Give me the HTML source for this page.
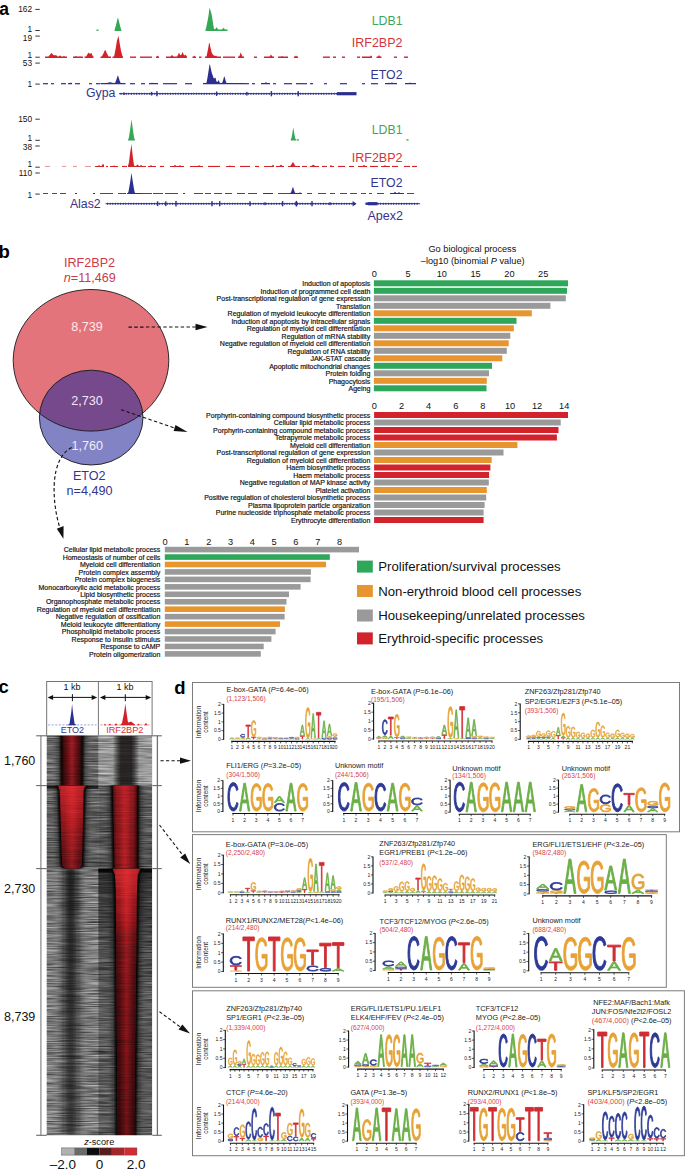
<!DOCTYPE html>
<html><head><meta charset="utf-8"><style>
html,body{margin:0;padding:0;background:#fff;}
body{width:685px;height:1172px;overflow:hidden;}
svg{display:block;font-family:"Liberation Sans", sans-serif;}
</style></head><body>
<svg width="685" height="1172" viewBox="0 0 685 1172">
<text x="-0.70" y="15.20" font-size="17.5" fill="#000" font-weight="bold">a</text>
<text x="32.00" y="12.30" font-size="8.3" fill="#111" text-anchor="end">162</text>
<line x1="35.30" y1="9.40" x2="39.80" y2="9.40" stroke="#222" stroke-width="0.9"/>
<text x="32.00" y="31.60" font-size="8.3" fill="#111" text-anchor="end">1</text>
<line x1="35.30" y1="30.50" x2="39.80" y2="30.50" stroke="#222" stroke-width="0.9"/>
<text x="32.00" y="41.10" font-size="8.3" fill="#111" text-anchor="end">19</text>
<line x1="35.30" y1="36.10" x2="39.80" y2="36.10" stroke="#222" stroke-width="0.9"/>
<text x="32.00" y="57.70" font-size="8.3" fill="#111" text-anchor="end">1</text>
<line x1="35.30" y1="57.20" x2="39.80" y2="57.20" stroke="#222" stroke-width="0.9"/>
<text x="32.00" y="66.30" font-size="8.3" fill="#111" text-anchor="end">53</text>
<line x1="35.30" y1="63.10" x2="39.80" y2="63.10" stroke="#222" stroke-width="0.9"/>
<text x="32.00" y="86.90" font-size="8.3" fill="#111" text-anchor="end">1</text>
<line x1="35.30" y1="84.10" x2="39.80" y2="84.10" stroke="#222" stroke-width="0.9"/>
<text x="32.00" y="122.40" font-size="8.3" fill="#111" text-anchor="end">150</text>
<line x1="35.30" y1="119.20" x2="39.80" y2="119.20" stroke="#222" stroke-width="0.9"/>
<text x="32.00" y="140.80" font-size="8.3" fill="#111" text-anchor="end">1</text>
<line x1="35.30" y1="140.30" x2="39.80" y2="140.30" stroke="#222" stroke-width="0.9"/>
<text x="32.00" y="150.00" font-size="8.3" fill="#111" text-anchor="end">38</text>
<line x1="35.30" y1="146.00" x2="39.80" y2="146.00" stroke="#222" stroke-width="0.9"/>
<text x="32.00" y="166.90" font-size="8.3" fill="#111" text-anchor="end">1</text>
<line x1="35.30" y1="167.20" x2="39.80" y2="167.20" stroke="#222" stroke-width="0.9"/>
<text x="32.00" y="176.10" font-size="8.3" fill="#111" text-anchor="end">110</text>
<line x1="35.30" y1="173.00" x2="39.80" y2="173.00" stroke="#222" stroke-width="0.9"/>
<text x="32.00" y="197.70" font-size="8.3" fill="#111" text-anchor="end">1</text>
<line x1="35.30" y1="194.10" x2="39.80" y2="194.10" stroke="#222" stroke-width="0.9"/>
<path d="M96.50,31.00 L96.50,29.60 L97.00,29.60 L97.50,29.60 L98.00,29.60 L98.50,29.60 L98.50,31.00Z" fill="#35a853"/>
<path d="M114.60,31.00 L114.60,29.60 L115.10,28.10 L115.60,26.38 L116.10,24.51 L116.60,22.52 L117.10,20.43 L117.60,18.25 L118.10,17.80 L118.60,20.00 L119.10,22.11 L119.60,24.12 L120.10,26.02 L120.60,27.77 L121.10,29.33 L121.40,31.00Z" fill="#35a853"/>
<path d="M205.50,31.00 L205.50,29.60 L206.00,28.14 L206.50,25.99 L207.00,23.63 L207.50,21.10 L208.00,18.42 L208.50,15.43 L209.00,11.78 L209.50,7.88 L210.00,8.69 L210.50,10.56 L211.00,12.26 L211.50,13.79 L212.00,16.13 L212.50,19.78 L213.00,23.17 L213.50,26.23 L214.00,28.67 L214.50,29.14 L215.00,29.28 L215.50,28.89 L216.00,28.11 L216.50,27.27 L217.00,27.78 L217.50,28.58 L218.00,29.33 L218.50,29.60 L219.00,29.60 L219.50,29.60 L220.00,29.60 L220.50,29.60 L221.00,29.60 L221.50,29.60 L222.00,29.55 L222.50,28.97 L223.00,28.35 L223.50,27.70 L224.00,28.35 L224.50,28.97 L225.00,29.55 L225.50,29.60 L226.00,29.60 L226.50,29.60 L227.00,29.60 L227.50,29.60 L227.50,31.00Z" fill="#35a853"/>
<path d="M45.00,57.90 L45.00,56.50 L45.50,56.50 L46.00,56.50 L46.50,56.50 L47.00,56.50 L47.50,56.50 L48.00,56.50 L48.50,56.38 L49.00,55.86 L49.50,55.30 L50.00,54.71 L50.50,54.09 L51.00,53.46 L51.50,52.80 L52.00,53.46 L52.50,54.09 L53.00,54.71 L53.50,55.03 L54.00,55.22 L54.50,55.33 L55.00,55.36 L55.50,55.30 L56.00,55.10 L56.50,55.61 L57.00,56.09 L57.50,56.31 L58.00,56.41 L58.50,56.41 L59.00,56.27 L59.50,55.85 L60.00,55.40 L60.50,55.85 L61.00,56.27 L61.50,56.50 L62.00,56.50 L62.50,56.50 L63.00,56.50 L63.50,56.24 L64.00,55.80 L64.50,56.24 L65.00,56.50 L65.50,56.50 L66.00,56.50 L66.50,56.50 L67.00,56.50 L67.00,57.90Z" fill="#d4222b"/>
<path d="M73.00,57.90 L73.00,56.50 L73.50,56.50 L74.00,56.50 L74.50,56.50 L75.00,56.50 L75.50,56.17 L76.00,55.80 L76.50,56.17 L77.00,56.50 L77.50,56.50 L78.00,56.50 L78.50,56.50 L79.00,56.50 L79.50,56.39 L80.00,56.00 L80.50,56.39 L81.00,56.50 L81.50,56.50 L82.00,56.50 L82.50,56.50 L83.00,56.50 L83.00,57.90Z" fill="#d4222b"/>
<path d="M84.50,57.90 L84.50,56.50 L85.00,56.50 L85.50,56.50 L86.00,56.50 L86.50,55.80 L87.00,55.02 L87.50,54.19 L88.00,53.31 L88.50,52.40 L89.00,53.31 L89.50,53.62 L90.00,53.68 L90.50,53.58 L91.00,53.34 L91.50,52.94 L92.00,54.42 L92.50,55.38 L93.00,56.26 L93.50,56.50 L93.50,57.90Z" fill="#d4222b"/>
<path d="M100.50,57.90 L100.50,56.50 L101.00,56.50 L101.50,56.50 L102.00,56.24 L102.50,55.34 L103.00,54.36 L103.50,53.31 L104.00,52.22 L104.50,51.07 L105.00,49.89 L105.50,50.13 L106.00,51.30 L106.50,52.44 L107.00,53.53 L107.50,54.56 L108.00,55.52 L108.50,56.40 L109.00,56.50 L109.50,56.50 L110.00,56.50 L110.50,56.50 L111.00,56.50 L111.00,57.90Z" fill="#d4222b"/>
<path d="M112.50,57.90 L112.50,56.50 L113.00,56.50 L113.50,56.50 L114.00,56.38 L114.50,54.39 L115.00,51.98 L115.50,49.32 L116.00,46.47 L116.50,43.46 L117.00,40.30 L117.50,38.90 L118.00,37.39 L118.50,35.77 L119.00,39.06 L119.50,42.22 L120.00,45.24 L120.50,48.09 L121.00,50.66 L121.50,52.66 L122.00,54.51 L122.50,56.15 L123.00,56.50 L123.00,57.90Z" fill="#d4222b"/>
<path d="M130.00,57.90 L130.00,56.50 L130.50,56.50 L131.00,56.50 L131.50,56.50 L132.00,56.50 L132.50,56.50 L133.00,56.50 L133.50,56.50 L134.00,56.50 L134.50,56.50 L135.00,56.50 L135.50,56.50 L136.00,56.50 L136.00,57.90Z" fill="#d4222b"/>
<path d="M140.00,57.90 L140.00,56.50 L140.50,56.50 L141.00,56.50 L141.50,56.50 L142.00,56.50 L142.50,56.50 L143.00,56.50 L143.50,56.50 L144.00,56.50 L144.50,56.50 L145.00,56.50 L145.50,56.50 L146.00,56.50 L146.50,56.50 L147.00,56.50 L147.50,56.50 L148.00,56.50 L148.50,56.50 L149.00,56.50 L149.50,56.50 L150.00,56.50 L150.50,56.50 L151.00,56.50 L151.50,56.50 L152.00,56.50 L152.00,57.90Z" fill="#d4222b"/>
<path d="M156.00,57.90 L156.00,56.50 L156.50,56.50 L157.00,56.14 L157.50,55.40 L158.00,56.14 L158.50,56.50 L159.00,56.50 L159.00,57.90Z" fill="#d4222b"/>
<path d="M166.00,57.90 L166.00,56.50 L166.50,56.50 L167.00,56.50 L167.50,56.50 L168.00,56.50 L168.50,56.50 L169.00,56.50 L169.50,56.50 L170.00,56.50 L170.50,56.50 L171.00,56.03 L171.50,55.53 L172.00,55.00 L172.50,55.53 L173.00,56.03 L173.50,56.50 L174.00,56.50 L174.50,56.50 L175.00,56.50 L175.50,56.50 L176.00,56.50 L176.50,56.50 L177.00,56.50 L177.50,55.68 L178.00,54.72 L178.50,53.69 L179.00,52.60 L179.50,53.69 L180.00,54.72 L180.50,55.24 L181.00,55.04 L181.50,54.51 L182.00,53.41 L182.50,51.91 L183.00,52.82 L183.50,54.27 L184.00,55.03 L184.50,55.41 L185.00,55.37 L185.50,54.40 L186.00,55.37 L186.50,56.25 L187.00,56.50 L187.00,57.90Z" fill="#d4222b"/>
<path d="M192.50,57.90 L192.50,56.50 L193.00,56.50 L193.50,56.50 L194.00,55.85 L194.50,55.70 L195.00,56.41 L195.50,56.50 L196.00,56.50 L196.00,57.90Z" fill="#d4222b"/>
<path d="M199.00,57.90 L199.00,56.50 L199.50,56.50 L200.00,56.50 L200.50,56.50 L201.00,56.50 L201.50,56.50 L201.50,57.90Z" fill="#d4222b"/>
<path d="M205.00,57.90 L205.00,56.50 L205.50,56.50 L206.00,56.50 L206.50,56.40 L207.00,54.28 L207.50,51.84 L208.00,49.16 L208.50,46.29 L209.00,43.28 L209.50,42.66 L210.00,45.33 L210.50,47.71 L211.00,49.85 L211.50,51.71 L212.00,53.22 L212.50,54.10 L213.00,54.81 L213.50,55.28 L214.00,55.62 L214.50,55.87 L215.00,56.02 L215.50,56.01 L216.00,55.60 L216.50,56.01 L217.00,56.40 L217.50,56.50 L218.00,56.50 L218.50,56.50 L219.00,56.50 L219.50,56.50 L220.00,56.50 L220.50,56.50 L221.00,56.50 L221.00,57.90Z" fill="#d4222b"/>
<path d="M223.00,57.90 L223.00,56.50 L223.50,56.50 L224.00,56.50 L224.50,56.50 L225.00,56.50 L225.50,56.50 L226.00,56.50 L226.50,56.50 L227.00,56.50 L227.50,56.50 L228.00,56.50 L228.50,56.50 L229.00,56.50 L229.50,56.50 L230.00,56.50 L230.50,56.50 L231.00,56.50 L231.50,56.50 L232.00,56.50 L232.50,56.50 L233.00,56.50 L233.50,56.50 L234.00,56.50 L234.50,56.50 L235.00,56.50 L235.00,57.90Z" fill="#d4222b"/>
<path d="M238.00,57.90 L238.00,56.50 L238.50,56.50 L239.00,56.50 L239.50,55.75 L240.00,54.38 L240.50,52.86 L241.00,52.93 L241.50,54.45 L242.00,55.83 L242.50,56.50 L243.00,56.50 L243.50,56.50 L244.00,56.50 L244.00,57.90Z" fill="#d4222b"/>
<path d="M254.00,57.90 L254.00,56.50 L254.50,56.50 L255.00,56.50 L255.50,56.50 L256.00,56.50 L256.50,56.50 L257.00,56.50 L257.00,57.90Z" fill="#d4222b"/>
<path d="M264.00,57.90 L264.00,56.50 L264.50,56.50 L265.00,56.50 L265.50,56.50 L266.00,56.50 L266.50,56.50 L267.00,56.50 L267.50,56.50 L268.00,56.50 L268.50,56.50 L269.00,56.50 L269.50,56.50 L270.00,56.10 L270.50,55.28 L271.00,54.40 L271.50,55.28 L272.00,56.10 L272.50,56.50 L273.00,56.50 L273.50,56.50 L274.00,56.50 L274.00,57.90Z" fill="#d4222b"/>
<path d="M278.00,57.90 L278.00,56.50 L278.50,56.50 L279.00,56.50 L279.50,56.50 L280.00,56.50 L280.50,56.50 L281.00,56.50 L281.50,56.17 L282.00,55.80 L282.50,56.17 L283.00,56.50 L283.50,56.50 L284.00,56.50 L284.50,56.50 L285.00,56.50 L285.50,56.50 L286.00,56.50 L286.50,56.50 L287.00,56.50 L287.50,56.50 L288.00,56.50 L288.00,57.90Z" fill="#d4222b"/>
<path d="M294.00,57.90 L294.00,56.50 L294.50,56.50 L295.00,56.50 L295.50,56.06 L296.00,55.40 L296.50,56.06 L297.00,56.50 L297.50,56.50 L298.00,56.50 L298.00,57.90Z" fill="#d4222b"/>
<path d="M323.00,57.90 L323.00,56.50 L323.50,56.50 L324.00,56.50 L324.50,56.50 L325.00,56.50 L325.50,56.50 L326.00,56.50 L326.50,56.50 L327.00,56.50 L327.50,56.50 L328.00,56.50 L328.50,56.50 L329.00,56.50 L329.50,56.50 L330.00,56.50 L330.00,57.90Z" fill="#d4222b"/>
<path d="M333.00,57.90 L333.00,56.50 L333.50,56.50 L334.00,56.50 L334.50,56.50 L335.00,56.50 L335.50,56.50 L336.00,56.50 L336.00,57.90Z" fill="#d4222b"/>
<path d="M342.00,57.90 L342.00,56.50 L342.50,56.50 L343.00,56.50 L343.50,56.50 L344.00,56.50 L344.50,56.50 L345.00,56.50 L345.00,57.90Z" fill="#d4222b"/>
<path d="M357.00,57.90 L357.00,56.50 L357.50,56.50 L358.00,56.50 L358.50,56.50 L359.00,56.50 L359.50,56.50 L360.00,56.50 L360.00,57.90Z" fill="#d4222b"/>
<path d="M362.00,57.90 L362.00,56.50 L362.50,56.50 L363.00,56.50 L363.50,56.50 L364.00,56.50 L364.50,56.50 L365.00,56.50 L365.50,56.50 L366.00,56.50 L366.50,56.50 L367.00,56.50 L367.50,56.50 L368.00,56.50 L368.50,56.50 L369.00,56.50 L369.50,56.50 L370.00,56.50 L370.50,56.00 L371.00,55.20 L371.50,56.00 L372.00,56.50 L372.00,57.90Z" fill="#d4222b"/>
<path d="M376.50,57.90 L376.50,56.50 L377.00,56.50 L377.50,56.50 L378.00,56.50 L378.50,55.79 L379.00,55.00 L379.50,55.79 L380.00,56.50 L380.50,56.50 L381.00,56.50 L381.50,56.50 L381.50,57.90Z" fill="#d4222b"/>
<path d="M394.00,57.90 L394.00,56.50 L394.50,56.50 L395.00,56.50 L395.50,56.50 L396.00,56.50 L396.50,56.50 L397.00,56.50 L397.00,57.90Z" fill="#d4222b"/>
<path d="M404.00,57.90 L404.00,56.50 L404.50,56.50 L405.00,56.50 L405.50,56.50 L406.00,56.50 L406.50,56.50 L407.00,56.50 L407.50,56.50 L408.00,56.50 L408.00,57.90Z" fill="#d4222b"/>
<path d="M43.00,84.30 L43.00,83.10 L43.50,83.10 L44.00,83.10 L44.50,83.10 L45.00,83.10 L45.50,83.10 L46.00,83.10 L46.50,83.10 L47.00,83.10 L47.50,83.10 L48.00,83.10 L48.00,84.30Z" fill="#2c2f8f"/>
<path d="M51.00,84.30 L51.00,83.10 L51.50,83.10 L52.00,83.10 L52.50,83.10 L53.00,83.10 L53.50,83.10 L54.00,83.10 L54.00,84.30Z" fill="#2c2f8f"/>
<path d="M61.00,84.30 L61.00,83.10 L61.50,83.10 L62.00,83.10 L62.50,83.10 L63.00,83.10 L63.50,83.10 L64.00,83.10 L64.50,83.10 L65.00,83.10 L65.50,83.10 L66.00,83.10 L66.00,84.30Z" fill="#2c2f8f"/>
<path d="M68.00,84.30 L68.00,83.10 L68.50,83.10 L69.00,83.10 L69.50,83.10 L70.00,83.10 L70.50,82.92 L71.00,82.20 L71.50,82.92 L72.00,83.10 L72.00,84.30Z" fill="#2c2f8f"/>
<path d="M75.00,84.30 L75.00,83.10 L75.50,83.10 L76.00,83.10 L76.50,83.10 L77.00,83.10 L77.50,83.10 L78.00,83.10 L78.50,83.10 L79.00,83.10 L79.50,83.10 L80.00,83.10 L80.00,84.30Z" fill="#2c2f8f"/>
<path d="M89.00,84.30 L89.00,83.10 L89.50,83.10 L90.00,83.10 L90.50,83.10 L91.00,83.10 L91.50,83.10 L92.00,83.10 L92.00,84.30Z" fill="#2c2f8f"/>
<path d="M96.00,84.30 L96.00,83.10 L96.50,83.10 L97.00,83.10 L97.50,83.10 L98.00,83.10 L98.50,83.10 L99.00,83.10 L99.50,83.10 L100.00,83.10 L100.00,84.30Z" fill="#2c2f8f"/>
<path d="M100.50,84.30 L100.50,83.10 L101.00,83.10 L101.50,83.10 L102.00,83.10 L102.50,83.10 L103.00,83.10 L103.50,83.10 L104.00,83.10 L104.50,83.10 L105.00,83.10 L105.50,83.10 L106.00,83.10 L106.50,83.10 L107.00,83.00 L107.50,82.87 L108.00,82.74 L108.50,82.61 L109.00,82.48 L109.50,82.34 L110.00,82.20 L110.50,82.34 L111.00,82.48 L111.50,82.61 L112.00,82.74 L112.50,82.87 L113.00,83.00 L113.50,83.10 L114.00,83.10 L114.50,83.10 L115.00,82.99 L115.50,81.95 L116.00,80.70 L116.50,79.30 L117.00,77.78 L117.50,76.16 L118.00,75.16 L118.50,76.90 L119.00,78.57 L119.50,80.13 L120.00,81.58 L120.50,82.86 L121.00,83.10 L121.50,83.10 L122.00,83.10 L122.50,83.10 L123.00,83.10 L123.50,83.10 L124.00,83.10 L124.50,83.10 L125.00,83.10 L125.50,83.10 L125.50,84.30Z" fill="#2c2f8f"/>
<path d="M130.00,84.30 L130.00,83.10 L130.50,83.10 L131.00,83.10 L131.50,83.10 L132.00,83.10 L132.50,83.10 L133.00,83.10 L133.50,83.10 L134.00,83.10 L134.50,83.10 L135.00,83.10 L135.00,84.30Z" fill="#2c2f8f"/>
<path d="M141.00,84.30 L141.00,83.10 L141.50,83.10 L142.00,83.10 L142.50,83.10 L143.00,83.10 L143.50,83.10 L144.00,83.10 L144.50,83.10 L145.00,83.10 L145.00,84.30Z" fill="#2c2f8f"/>
<path d="M149.00,84.30 L149.00,83.10 L149.50,83.10 L150.00,83.10 L150.50,83.10 L151.00,83.10 L151.50,82.88 L152.00,82.40 L152.50,82.88 L153.00,83.10 L153.50,83.10 L154.00,83.10 L154.50,83.10 L155.00,83.10 L155.50,83.10 L156.00,83.10 L156.50,83.10 L157.00,83.10 L157.50,83.10 L158.00,83.10 L158.00,84.30Z" fill="#2c2f8f"/>
<path d="M163.00,84.30 L163.00,83.10 L163.50,83.10 L164.00,83.10 L164.50,83.10 L165.00,83.10 L165.50,83.10 L166.00,83.10 L166.50,83.10 L167.00,83.10 L167.50,83.10 L168.00,83.10 L168.50,83.10 L169.00,83.10 L169.50,83.10 L170.00,83.10 L170.50,83.10 L171.00,83.10 L171.50,83.10 L172.00,83.10 L172.50,83.10 L173.00,83.10 L173.50,83.10 L174.00,83.10 L174.50,83.10 L175.00,83.10 L175.50,83.10 L176.00,83.10 L176.50,83.10 L177.00,83.10 L177.00,84.30Z" fill="#2c2f8f"/>
<path d="M185.00,84.30 L185.00,83.10 L185.50,83.10 L186.00,83.10 L186.50,83.10 L187.00,83.10 L187.50,83.10 L188.00,83.10 L188.50,83.10 L189.00,83.10 L189.50,83.10 L190.00,83.10 L190.50,83.10 L191.00,83.10 L191.50,83.10 L192.00,83.10 L192.00,84.30Z" fill="#2c2f8f"/>
<path d="M203.00,84.30 L203.00,83.10 L203.50,83.10 L204.00,83.10 L204.50,83.10 L205.00,83.10 L205.50,83.10 L206.00,83.10 L206.50,82.65 L207.00,80.29 L207.50,77.55 L208.00,74.55 L208.50,71.35 L209.00,67.97 L209.50,64.45 L210.00,64.55 L210.50,67.20 L211.00,69.58 L211.50,71.69 L212.00,73.52 L212.50,75.02 L213.00,76.06 L213.50,77.98 L214.00,78.21 L214.50,78.18 L215.00,77.95 L215.50,77.54 L216.00,79.76 L216.50,81.46 L217.00,81.85 L217.50,81.88 L218.00,81.10 L218.50,80.00 L219.00,81.10 L219.50,82.12 L220.00,83.04 L220.50,83.10 L221.00,83.10 L221.50,83.10 L222.00,83.10 L222.50,82.08 L223.00,80.47 L223.50,78.70 L224.00,76.79 L224.50,76.40 L225.00,78.32 L225.50,80.13 L226.00,81.77 L226.50,83.10 L227.00,83.10 L227.50,83.10 L228.00,83.10 L228.50,83.10 L229.00,83.10 L229.50,83.10 L230.00,83.10 L230.50,83.10 L231.00,83.10 L231.50,83.10 L232.00,83.10 L232.50,83.10 L233.00,83.10 L233.50,83.10 L234.00,83.10 L234.50,83.10 L235.00,83.10 L235.50,83.10 L236.00,83.10 L236.50,83.10 L237.00,83.10 L237.50,83.10 L238.00,83.10 L238.50,83.10 L239.00,83.10 L239.50,83.10 L240.00,83.10 L240.50,83.10 L241.00,83.10 L241.50,83.10 L242.00,83.10 L242.50,83.10 L243.00,83.10 L243.50,83.10 L244.00,83.10 L244.50,83.10 L245.00,83.10 L245.00,84.30Z" fill="#2c2f8f"/>
<path d="M245.00,84.30 L245.00,83.10 L245.50,83.10 L246.00,83.10 L246.50,83.10 L247.00,83.10 L247.50,83.10 L248.00,83.10 L248.50,83.10 L249.00,83.10 L249.00,84.30Z" fill="#2c2f8f"/>
<path d="M252.00,84.30 L252.00,83.10 L252.50,83.10 L253.00,83.10 L253.50,83.10 L254.00,83.10 L254.50,83.10 L255.00,83.10 L255.00,84.30Z" fill="#2c2f8f"/>
<path d="M261.00,84.30 L261.00,83.10 L261.50,83.10 L262.00,83.10 L262.50,83.10 L263.00,83.10 L263.50,83.10 L264.00,83.10 L264.50,83.10 L265.00,82.92 L265.50,82.57 L266.00,82.20 L266.50,82.57 L267.00,82.92 L267.50,83.10 L268.00,83.10 L268.50,83.10 L269.00,83.10 L269.50,83.10 L270.00,83.10 L270.00,84.30Z" fill="#2c2f8f"/>
<path d="M273.00,84.30 L273.00,83.10 L273.50,83.10 L274.00,83.10 L274.50,83.10 L275.00,83.10 L275.50,83.10 L276.00,83.10 L276.00,84.30Z" fill="#2c2f8f"/>
<path d="M284.00,84.30 L284.00,83.10 L284.50,83.10 L285.00,83.10 L285.50,83.10 L286.00,83.10 L286.50,83.10 L287.00,83.10 L287.50,83.10 L288.00,83.10 L288.50,83.10 L289.00,83.10 L289.50,83.10 L290.00,83.10 L290.50,83.10 L291.00,83.10 L291.50,83.10 L292.00,83.10 L292.00,84.30Z" fill="#2c2f8f"/>
<path d="M296.00,84.30 L296.00,83.10 L296.50,83.10 L297.00,83.10 L297.50,83.10 L298.00,83.10 L298.50,83.10 L299.00,83.10 L299.50,83.10 L300.00,83.10 L300.50,83.10 L301.00,83.10 L301.50,83.10 L302.00,83.10 L302.50,83.10 L303.00,83.10 L303.50,83.10 L304.00,83.10 L304.50,83.10 L305.00,83.10 L305.50,83.10 L306.00,83.10 L306.50,83.10 L307.00,83.10 L307.00,84.30Z" fill="#2c2f8f"/>
<path d="M310.00,84.30 L310.00,83.10 L310.50,83.10 L311.00,83.10 L311.50,83.10 L312.00,83.10 L312.50,83.10 L313.00,83.10 L313.00,84.30Z" fill="#2c2f8f"/>
<path d="M324.00,84.30 L324.00,83.10 L324.50,83.10 L325.00,83.10 L325.50,83.10 L326.00,83.10 L326.50,83.10 L327.00,83.10 L327.00,84.30Z" fill="#2c2f8f"/>
<path d="M340.00,84.30 L340.00,83.10 L340.50,83.10 L341.00,83.10 L341.50,83.10 L342.00,83.10 L342.50,83.10 L343.00,83.10 L343.50,83.10 L344.00,83.10 L344.50,83.10 L345.00,83.10 L345.50,83.10 L346.00,83.10 L346.50,83.10 L347.00,83.10 L347.00,84.30Z" fill="#2c2f8f"/>
<path d="M362.00,84.30 L362.00,83.10 L362.50,83.10 L363.00,83.10 L363.50,83.10 L364.00,83.10 L364.50,83.10 L365.00,83.10 L365.00,84.30Z" fill="#2c2f8f"/>
<path d="M371.00,84.30 L371.00,83.10 L371.50,83.10 L372.00,83.10 L372.50,83.10 L373.00,83.10 L373.50,83.10 L374.00,83.10 L374.50,83.10 L375.00,83.10 L375.50,83.10 L376.00,83.10 L376.50,83.10 L377.00,83.10 L377.50,83.10 L378.00,83.10 L378.00,84.30Z" fill="#2c2f8f"/>
<path d="M385.00,84.30 L385.00,83.10 L385.50,83.10 L386.00,83.10 L386.50,83.10 L387.00,83.10 L387.50,83.10 L388.00,83.10 L388.50,82.88 L389.00,82.40 L389.50,82.88 L390.00,83.10 L390.50,83.10 L391.00,83.10 L391.50,82.74 L392.00,82.20 L392.50,82.74 L393.00,83.10 L393.50,83.10 L394.00,83.10 L394.50,83.10 L395.00,83.10 L395.50,83.10 L396.00,83.10 L396.50,83.10 L397.00,83.10 L397.00,84.30Z" fill="#2c2f8f"/>
<path d="M405.00,84.30 L405.00,83.10 L405.50,83.10 L406.00,83.10 L406.50,83.10 L407.00,83.10 L407.50,83.10 L408.00,83.10 L408.50,83.10 L409.00,83.04 L409.50,82.73 L410.00,82.40 L410.50,82.73 L411.00,83.04 L411.50,83.10 L412.00,83.10 L412.50,83.10 L413.00,83.10 L413.50,83.10 L414.00,83.10 L414.50,83.10 L415.00,83.10 L415.50,83.10 L416.00,83.10 L416.00,84.30Z" fill="#2c2f8f"/>
<text x="402.50" y="24.50" font-size="12.3" fill="#3ea55a" text-anchor="end">LDB1</text>
<text x="402.50" y="46.90" font-size="12.5" fill="#d2343c" text-anchor="end">IRF2BP2</text>
<text x="402.50" y="78.70" font-size="12.3" fill="#34348f" text-anchor="end">ETO2</text>
<text x="86.00" y="97.40" font-size="12.3" fill="#34348f">Gypa</text>
<line x1="119.00" y1="93.70" x2="338.00" y2="93.70" stroke="#2c2f8f" stroke-width="1.0"/>
<path d="M121.0,92.50l.95,1.2l-.95,1.2l-.95,-1.2zM123.6,92.50l.95,1.2l-.95,1.2l-.95,-1.2zM126.2,92.50l.95,1.2l-.95,1.2l-.95,-1.2zM128.8,92.50l.95,1.2l-.95,1.2l-.95,-1.2zM131.4,92.50l.95,1.2l-.95,1.2l-.95,-1.2zM134.0,92.50l.95,1.2l-.95,1.2l-.95,-1.2zM136.6,92.50l.95,1.2l-.95,1.2l-.95,-1.2zM139.2,92.50l.95,1.2l-.95,1.2l-.95,-1.2zM141.8,92.50l.95,1.2l-.95,1.2l-.95,-1.2zM144.4,92.50l.95,1.2l-.95,1.2l-.95,-1.2zM147.0,92.50l.95,1.2l-.95,1.2l-.95,-1.2zM149.6,92.50l.95,1.2l-.95,1.2l-.95,-1.2zM152.2,92.50l.95,1.2l-.95,1.2l-.95,-1.2zM154.8,92.50l.95,1.2l-.95,1.2l-.95,-1.2zM157.4,92.50l.95,1.2l-.95,1.2l-.95,-1.2zM160.0,92.50l.95,1.2l-.95,1.2l-.95,-1.2zM162.6,92.50l.95,1.2l-.95,1.2l-.95,-1.2zM165.2,92.50l.95,1.2l-.95,1.2l-.95,-1.2zM167.8,92.50l.95,1.2l-.95,1.2l-.95,-1.2zM170.4,92.50l.95,1.2l-.95,1.2l-.95,-1.2zM173.0,92.50l.95,1.2l-.95,1.2l-.95,-1.2zM175.6,92.50l.95,1.2l-.95,1.2l-.95,-1.2zM178.2,92.50l.95,1.2l-.95,1.2l-.95,-1.2zM180.8,92.50l.95,1.2l-.95,1.2l-.95,-1.2zM183.4,92.50l.95,1.2l-.95,1.2l-.95,-1.2zM186.0,92.50l.95,1.2l-.95,1.2l-.95,-1.2zM188.6,92.50l.95,1.2l-.95,1.2l-.95,-1.2zM191.2,92.50l.95,1.2l-.95,1.2l-.95,-1.2zM193.8,92.50l.95,1.2l-.95,1.2l-.95,-1.2zM196.4,92.50l.95,1.2l-.95,1.2l-.95,-1.2zM199.0,92.50l.95,1.2l-.95,1.2l-.95,-1.2zM201.6,92.50l.95,1.2l-.95,1.2l-.95,-1.2zM204.2,92.50l.95,1.2l-.95,1.2l-.95,-1.2zM206.8,92.50l.95,1.2l-.95,1.2l-.95,-1.2zM209.4,92.50l.95,1.2l-.95,1.2l-.95,-1.2zM212.0,92.50l.95,1.2l-.95,1.2l-.95,-1.2zM214.6,92.50l.95,1.2l-.95,1.2l-.95,-1.2zM217.2,92.50l.95,1.2l-.95,1.2l-.95,-1.2zM219.8,92.50l.95,1.2l-.95,1.2l-.95,-1.2zM222.4,92.50l.95,1.2l-.95,1.2l-.95,-1.2zM225.0,92.50l.95,1.2l-.95,1.2l-.95,-1.2zM227.6,92.50l.95,1.2l-.95,1.2l-.95,-1.2zM230.2,92.50l.95,1.2l-.95,1.2l-.95,-1.2zM232.8,92.50l.95,1.2l-.95,1.2l-.95,-1.2zM235.4,92.50l.95,1.2l-.95,1.2l-.95,-1.2zM238.0,92.50l.95,1.2l-.95,1.2l-.95,-1.2zM240.6,92.50l.95,1.2l-.95,1.2l-.95,-1.2zM243.2,92.50l.95,1.2l-.95,1.2l-.95,-1.2zM245.8,92.50l.95,1.2l-.95,1.2l-.95,-1.2zM248.4,92.50l.95,1.2l-.95,1.2l-.95,-1.2zM251.0,92.50l.95,1.2l-.95,1.2l-.95,-1.2zM253.6,92.50l.95,1.2l-.95,1.2l-.95,-1.2zM256.2,92.50l.95,1.2l-.95,1.2l-.95,-1.2zM258.8,92.50l.95,1.2l-.95,1.2l-.95,-1.2zM261.4,92.50l.95,1.2l-.95,1.2l-.95,-1.2zM264.0,92.50l.95,1.2l-.95,1.2l-.95,-1.2zM266.6,92.50l.95,1.2l-.95,1.2l-.95,-1.2zM269.2,92.50l.95,1.2l-.95,1.2l-.95,-1.2zM271.8,92.50l.95,1.2l-.95,1.2l-.95,-1.2zM274.4,92.50l.95,1.2l-.95,1.2l-.95,-1.2zM277.0,92.50l.95,1.2l-.95,1.2l-.95,-1.2zM279.6,92.50l.95,1.2l-.95,1.2l-.95,-1.2zM282.2,92.50l.95,1.2l-.95,1.2l-.95,-1.2zM284.8,92.50l.95,1.2l-.95,1.2l-.95,-1.2zM287.4,92.50l.95,1.2l-.95,1.2l-.95,-1.2zM290.0,92.50l.95,1.2l-.95,1.2l-.95,-1.2zM292.6,92.50l.95,1.2l-.95,1.2l-.95,-1.2zM295.2,92.50l.95,1.2l-.95,1.2l-.95,-1.2zM297.8,92.50l.95,1.2l-.95,1.2l-.95,-1.2zM300.4,92.50l.95,1.2l-.95,1.2l-.95,-1.2zM303.0,92.50l.95,1.2l-.95,1.2l-.95,-1.2zM305.6,92.50l.95,1.2l-.95,1.2l-.95,-1.2zM308.2,92.50l.95,1.2l-.95,1.2l-.95,-1.2zM310.8,92.50l.95,1.2l-.95,1.2l-.95,-1.2zM313.4,92.50l.95,1.2l-.95,1.2l-.95,-1.2zM316.0,92.50l.95,1.2l-.95,1.2l-.95,-1.2zM318.6,92.50l.95,1.2l-.95,1.2l-.95,-1.2zM321.2,92.50l.95,1.2l-.95,1.2l-.95,-1.2zM323.8,92.50l.95,1.2l-.95,1.2l-.95,-1.2zM326.4,92.50l.95,1.2l-.95,1.2l-.95,-1.2zM329.0,92.50l.95,1.2l-.95,1.2l-.95,-1.2zM331.6,92.50l.95,1.2l-.95,1.2l-.95,-1.2zM334.2,92.50l.95,1.2l-.95,1.2l-.95,-1.2zM336.8,92.50l.95,1.2l-.95,1.2l-.95,-1.2z" fill="#2c2f8f"/>
<rect x="123.30" y="92.50" width="1.40" height="2.40" fill="#2c2f8f"/>
<rect x="150.80" y="91.90" width="1.40" height="3.60" fill="#2c2f8f"/>
<rect x="156.20" y="91.10" width="1.40" height="5.20" fill="#2c2f8f"/>
<rect x="215.90" y="91.50" width="1.40" height="4.40" fill="#2c2f8f"/>
<rect x="246.20" y="91.90" width="1.40" height="3.60" fill="#2c2f8f"/>
<rect x="270.70" y="91.10" width="1.40" height="5.20" fill="#2c2f8f"/>
<rect x="297.50" y="91.10" width="1.40" height="5.20" fill="#2c2f8f"/>
<rect x="337.00" y="92.10" width="19.50" height="3.20" fill="#2c2f8f"/>
<path d="M128.00,140.60 L128.00,139.20 L128.50,139.20 L129.00,136.71 L129.50,133.71 L130.00,130.41 L130.50,126.86 L131.00,123.12 L131.50,119.20 L132.00,123.12 L132.50,126.86 L133.00,130.41 L133.50,133.71 L134.00,136.71 L134.50,139.20 L135.00,139.20 L135.00,140.60Z" fill="#35a853"/>
<path d="M290.80,140.60 L290.80,139.20 L291.30,138.55 L291.80,136.13 L292.30,133.38 L292.80,130.39 L293.30,127.20 L293.80,130.39 L294.30,133.38 L294.80,136.13 L295.30,138.55 L295.80,139.20 L296.30,139.20 L296.50,140.60Z" fill="#35a853"/>
<path d="M297.00,140.60 L297.00,139.20 L297.50,139.20 L298.00,139.20 L298.50,139.20 L299.00,139.20 L299.00,140.60Z" fill="#35a853"/>
<path d="M406.50,140.60 L406.50,139.20 L407.00,139.20 L407.50,139.20 L408.00,139.20 L408.50,139.20 L408.50,140.60Z" fill="#35a853"/>
<g opacity="0.45">
<path d="M45.00,167.00 L45.00,165.90 L45.50,165.90 L46.00,165.90 L46.50,165.90 L47.00,165.90 L47.50,165.90 L48.00,165.90 L48.50,165.90 L49.00,165.90 L49.50,165.90 L50.00,165.90 L50.00,167.00Z" fill="#d4222b"/>
<path d="M62.00,167.00 L62.00,165.90 L62.50,165.90 L63.00,165.90 L63.50,165.90 L64.00,165.90 L64.50,165.90 L65.00,165.90 L65.50,165.90 L66.00,165.90 L66.00,167.00Z" fill="#d4222b"/>
<path d="M73.00,167.00 L73.00,165.90 L73.50,165.90 L74.00,165.90 L74.50,165.90 L75.00,165.90 L75.50,165.90 L76.00,165.90 L76.50,165.90 L77.00,165.90 L77.00,167.00Z" fill="#d4222b"/>
<path d="M85.00,167.00 L85.00,165.90 L85.50,165.90 L86.00,165.90 L86.50,165.90 L87.00,165.90 L87.50,165.90 L88.00,165.90 L88.50,165.90 L89.00,165.90 L89.50,165.90 L90.00,165.90 L90.50,165.90 L91.00,165.90 L91.00,167.00Z" fill="#d4222b"/>
</g>
<path d="M95.00,167.00 L95.00,165.90 L95.50,165.90 L96.00,165.90 L96.50,165.90 L97.00,165.90 L97.50,165.90 L98.00,165.90 L98.50,165.58 L99.00,165.10 L99.50,165.58 L100.00,165.90 L100.50,165.90 L101.00,165.90 L101.50,165.90 L102.00,165.35 L102.50,164.47 L103.00,163.50 L103.50,164.47 L104.00,165.35 L104.00,167.00Z" fill="#d4222b"/>
<path d="M106.00,167.00 L106.00,165.90 L106.50,165.90 L107.00,165.90 L107.50,165.90 L108.00,165.90 L108.00,167.00Z" fill="#d4222b"/>
<path d="M110.00,167.00 L110.00,165.90 L110.50,165.90 L111.00,165.90 L111.50,165.90 L112.00,165.90 L112.50,165.90 L113.00,165.90 L113.50,165.65 L114.00,165.20 L114.50,165.65 L115.00,165.90 L115.50,165.90 L116.00,165.90 L116.50,165.90 L117.00,165.90 L117.50,165.90 L118.00,165.90 L118.00,167.00Z" fill="#d4222b"/>
<path d="M122.00,167.00 L122.00,165.90 L122.50,165.90 L123.00,165.90 L123.50,165.90 L124.00,165.90 L124.50,165.90 L125.00,165.90 L125.50,165.90 L126.00,165.90 L126.50,165.90 L127.00,165.90 L127.00,167.00Z" fill="#d4222b"/>
<path d="M128.00,167.00 L128.00,165.43 L128.50,164.60 L129.00,161.95 L129.50,157.92 L130.00,153.37 L130.50,150.52 L131.00,147.35 L131.50,143.90 L132.00,149.09 L132.50,153.97 L133.00,158.37 L133.50,161.91 L134.00,164.96 L134.50,165.90 L135.00,165.90 L135.50,165.90 L136.00,165.90 L136.50,165.57 L137.00,164.96 L137.50,164.30 L138.00,164.96 L138.50,165.57 L139.00,165.90 L139.50,165.90 L140.00,165.90 L140.50,165.58 L141.00,165.10 L141.50,165.58 L142.00,165.90 L142.50,165.90 L143.00,165.90 L143.50,165.90 L144.00,165.90 L144.50,165.90 L145.00,165.90 L145.50,165.90 L146.00,165.90 L146.00,167.00Z" fill="#d4222b"/>
<path d="M141.00,167.00 L141.00,165.10 L141.50,165.58 L142.00,165.90 L142.50,165.90 L143.00,165.90 L143.50,165.90 L144.00,165.90 L144.50,165.90 L145.00,165.90 L145.50,165.90 L146.00,165.90 L146.00,167.00Z" fill="#d4222b"/>
<path d="M148.00,167.00 L148.00,165.90 L148.50,165.90 L149.00,165.90 L149.50,165.90 L150.00,165.90 L150.50,165.44 L151.00,164.90 L151.50,165.44 L152.00,165.90 L152.50,165.90 L153.00,165.90 L153.50,165.90 L154.00,165.90 L154.50,165.90 L155.00,165.90 L155.50,165.90 L156.00,165.90 L156.00,167.00Z" fill="#d4222b"/>
<path d="M160.00,167.00 L160.00,165.90 L160.50,165.90 L161.00,165.90 L161.50,165.90 L162.00,165.90 L162.50,165.90 L163.00,165.90 L163.50,165.90 L164.00,165.90 L164.00,167.00Z" fill="#d4222b"/>
<path d="M170.00,167.00 L170.00,165.90 L170.50,165.90 L171.00,165.90 L171.50,165.90 L172.00,165.90 L172.50,165.90 L173.00,165.90 L173.50,165.90 L174.00,165.86 L174.50,165.30 L175.00,164.70 L175.50,165.30 L176.00,165.86 L176.50,165.90 L177.00,165.90 L177.50,165.90 L178.00,165.90 L178.50,165.90 L179.00,165.90 L179.50,165.58 L180.00,165.10 L180.50,165.58 L181.00,165.90 L181.50,165.90 L182.00,165.90 L182.50,165.90 L183.00,165.90 L183.50,165.90 L184.00,165.90 L184.00,167.00Z" fill="#d4222b"/>
<path d="M190.00,167.00 L190.00,165.90 L190.50,165.90 L191.00,165.90 L191.50,165.90 L192.00,165.90 L192.50,165.90 L193.00,165.90 L193.50,165.90 L194.00,165.90 L194.50,165.90 L195.00,165.90 L195.50,165.90 L196.00,165.90 L196.50,165.90 L197.00,165.90 L197.50,165.90 L198.00,165.90 L198.50,165.44 L199.00,164.90 L199.50,165.44 L200.00,165.90 L200.50,165.90 L201.00,165.90 L201.50,165.90 L202.00,165.90 L202.50,165.90 L203.00,165.90 L203.00,167.00Z" fill="#d4222b"/>
<path d="M208.00,167.00 L208.00,165.90 L208.50,165.90 L209.00,165.90 L209.50,165.90 L210.00,165.90 L210.50,165.90 L211.00,165.90 L211.50,165.90 L212.00,165.90 L212.50,165.90 L213.00,165.90 L213.50,165.90 L214.00,165.90 L214.50,165.90 L215.00,165.90 L215.50,165.90 L216.00,165.90 L216.50,165.90 L217.00,165.90 L217.50,165.90 L218.00,165.90 L218.50,165.90 L219.00,165.90 L219.50,165.90 L220.00,165.90 L220.00,167.00Z" fill="#d4222b"/>
<path d="M226.00,167.00 L226.00,165.90 L226.50,165.90 L227.00,165.90 L227.50,165.90 L228.00,165.90 L228.50,165.90 L229.00,165.90 L229.50,165.65 L230.00,165.20 L230.50,165.65 L231.00,165.90 L231.50,165.90 L232.00,165.90 L232.50,165.90 L233.00,165.90 L233.50,165.90 L234.00,165.90 L234.50,165.90 L235.00,165.90 L235.00,167.00Z" fill="#d4222b"/>
<path d="M240.00,167.00 L240.00,165.90 L240.50,165.90 L241.00,165.90 L241.50,165.90 L242.00,165.90 L242.50,165.90 L243.00,165.90 L243.50,165.90 L244.00,165.90 L244.50,165.90 L245.00,165.90 L245.50,165.90 L246.00,165.90 L246.50,165.90 L247.00,165.90 L247.50,165.90 L248.00,165.90 L248.50,165.90 L249.00,165.90 L249.50,165.90 L250.00,165.90 L250.00,167.00Z" fill="#d4222b"/>
<path d="M255.00,167.00 L255.00,165.90 L255.50,165.90 L256.00,165.90 L256.50,165.90 L257.00,165.90 L257.50,165.90 L258.00,165.90 L258.50,165.90 L259.00,165.90 L259.00,167.00Z" fill="#d4222b"/>
<path d="M264.00,167.00 L264.00,165.90 L264.50,165.90 L265.00,165.90 L265.50,165.90 L266.00,165.90 L266.50,165.90 L267.00,165.90 L267.50,165.90 L268.00,165.90 L268.50,165.90 L269.00,165.90 L269.50,165.90 L270.00,165.90 L270.50,165.90 L271.00,165.90 L271.50,165.90 L272.00,165.86 L272.50,165.30 L273.00,164.70 L273.50,165.30 L274.00,165.86 L274.00,167.00Z" fill="#d4222b"/>
<path d="M276.00,167.00 L276.00,165.90 L276.50,165.90 L277.00,165.90 L277.50,165.90 L278.00,165.90 L278.50,165.90 L279.00,165.90 L279.50,165.90 L280.00,165.54 L280.50,165.04 L281.00,164.50 L281.50,165.04 L282.00,165.54 L282.50,165.90 L283.00,165.90 L283.50,165.90 L284.00,165.90 L284.00,167.00Z" fill="#d4222b"/>
<path d="M288.00,167.00 L288.00,165.90 L288.50,165.90 L289.00,165.90 L289.50,165.90 L290.00,165.90 L290.50,165.82 L291.00,165.08 L291.50,164.26 L292.00,163.39 L292.50,162.47 L293.00,161.89 L293.50,162.84 L294.00,163.75 L294.50,164.60 L295.00,165.38 L295.50,165.90 L296.00,165.90 L296.50,165.90 L297.00,165.90 L297.50,165.90 L298.00,165.90 L298.50,165.90 L299.00,165.90 L299.50,165.90 L300.00,165.90 L300.00,167.00Z" fill="#d4222b"/>
<path d="M302.00,167.00 L302.00,165.90 L302.50,165.90 L303.00,165.90 L303.50,165.90 L304.00,165.90 L304.50,165.90 L305.00,165.90 L305.50,165.90 L306.00,165.90 L306.50,165.90 L307.00,165.90 L307.00,167.00Z" fill="#d4222b"/>
<path d="M310.00,167.00 L310.00,165.90 L310.50,165.90 L311.00,165.90 L311.50,165.90 L312.00,165.62 L312.50,165.21 L313.00,164.77 L313.50,164.68 L314.00,165.12 L314.50,165.54 L315.00,165.90 L315.50,165.90 L316.00,165.90 L316.50,165.90 L317.00,165.90 L317.50,165.90 L318.00,165.90 L318.50,165.90 L319.00,165.90 L319.00,167.00Z" fill="#d4222b"/>
<path d="M322.00,167.00 L322.00,165.90 L322.50,165.90 L323.00,165.90 L323.50,165.90 L324.00,165.90 L324.50,165.90 L325.00,165.90 L325.50,165.90 L326.00,165.90 L326.50,165.90 L327.00,165.90 L327.00,167.00Z" fill="#d4222b"/>
<path d="M330.00,167.00 L330.00,165.90 L330.50,165.58 L331.00,165.10 L331.50,165.58 L332.00,165.90 L332.50,165.90 L333.00,165.90 L333.50,165.90 L334.00,165.90 L334.00,167.00Z" fill="#d4222b"/>
<path d="M338.00,167.00 L338.00,165.90 L338.50,165.90 L339.00,165.90 L339.50,165.90 L340.00,165.90 L340.50,165.90 L341.00,165.90 L341.50,165.90 L342.00,165.90 L342.50,165.90 L343.00,165.90 L343.50,165.90 L344.00,165.90 L344.50,165.90 L345.00,165.90 L345.00,167.00Z" fill="#d4222b"/>
<path d="M349.00,167.00 L349.00,165.90 L349.50,165.90 L350.00,165.90 L350.50,165.90 L351.00,165.90 L351.50,165.90 L352.00,165.90 L352.50,165.90 L353.00,165.90 L353.50,165.90 L354.00,165.90 L354.00,167.00Z" fill="#d4222b"/>
<path d="M358.00,167.00 L358.00,165.90 L358.50,165.90 L359.00,165.90 L359.50,165.90 L360.00,165.90 L360.50,165.90 L361.00,165.90 L361.50,165.90 L362.00,165.90 L362.50,165.90 L363.00,165.75 L363.50,165.34 L364.00,164.90 L364.50,165.34 L365.00,165.75 L365.50,165.90 L366.00,165.90 L366.50,165.90 L367.00,165.90 L367.00,167.00Z" fill="#d4222b"/>
<path d="M370.00,167.00 L370.00,165.90 L370.50,165.90 L371.00,165.90 L371.50,165.90 L372.00,165.90 L372.50,165.90 L373.00,165.90 L373.50,165.90 L374.00,165.90 L374.50,165.90 L375.00,165.90 L375.50,165.90 L376.00,165.90 L376.50,165.90 L377.00,165.90 L377.50,165.90 L378.00,165.90 L378.00,167.00Z" fill="#d4222b"/>
<path d="M381.00,167.00 L381.00,165.90 L381.50,165.90 L382.00,165.90 L382.50,165.90 L383.00,165.90 L383.50,165.90 L384.00,165.90 L384.50,165.44 L385.00,164.90 L385.50,165.44 L386.00,165.90 L386.50,165.90 L387.00,165.90 L387.50,165.90 L388.00,165.90 L388.50,165.90 L389.00,165.90 L389.50,165.90 L390.00,165.90 L390.00,167.00Z" fill="#d4222b"/>
<path d="M392.00,167.00 L392.00,165.90 L392.50,165.90 L393.00,165.90 L393.50,165.90 L394.00,165.90 L394.50,165.90 L395.00,165.90 L395.50,165.90 L396.00,165.90 L396.50,165.90 L397.00,165.90 L397.50,165.90 L398.00,165.90 L398.00,167.00Z" fill="#d4222b"/>
<path d="M404.00,167.00 L404.00,165.90 L404.50,165.90 L405.00,165.90 L405.50,165.90 L406.00,165.90 L406.50,165.90 L407.00,165.90 L407.50,165.90 L408.00,165.90 L408.50,165.90 L409.00,165.90 L409.50,165.90 L410.00,165.90 L410.00,167.00Z" fill="#d4222b"/>
<path d="M412.00,167.00 L412.00,165.90 L412.50,165.90 L413.00,165.90 L413.50,165.90 L414.00,165.90 L414.50,165.90 L415.00,165.90 L415.50,165.90 L416.00,165.90 L416.50,165.90 L417.00,165.90 L417.00,167.00Z" fill="#d4222b"/>
<path d="M43.00,194.00 L43.00,193.10 L43.50,193.10 L44.00,193.10 L44.50,193.10 L45.00,193.10 L45.50,193.10 L46.00,193.10 L46.50,193.10 L47.00,193.10 L47.50,193.10 L48.00,193.10 L48.00,194.00Z" fill="#2c2f8f"/>
<path d="M52.00,194.00 L52.00,193.10 L52.50,193.10 L53.00,193.10 L53.50,193.10 L54.00,193.10 L54.50,193.10 L55.00,193.10 L55.50,193.10 L56.00,193.10 L56.50,193.10 L57.00,193.10 L57.00,194.00Z" fill="#2c2f8f"/>
<path d="M60.00,194.00 L60.00,193.10 L60.50,193.10 L61.00,193.10 L61.50,193.10 L62.00,193.10 L62.50,193.10 L63.00,193.10 L63.50,193.10 L64.00,193.10 L64.50,193.10 L65.00,193.10 L65.50,193.10 L66.00,193.10 L66.00,194.00Z" fill="#2c2f8f"/>
<path d="M75.00,194.00 L75.00,193.10 L75.50,193.10 L76.00,193.10 L76.50,193.10 L77.00,193.10 L77.00,194.00Z" fill="#2c2f8f"/>
<path d="M93.00,194.00 L93.00,193.10 L93.50,193.10 L94.00,193.10 L94.50,193.10 L95.00,193.10 L95.00,194.00Z" fill="#2c2f8f"/>
<path d="M100.00,194.00 L100.00,193.10 L100.50,193.10 L101.00,193.10 L101.50,193.10 L102.00,193.10 L102.50,193.10 L103.00,193.10 L103.50,193.10 L104.00,193.10 L104.50,193.10 L105.00,193.10 L105.50,193.10 L106.00,193.10 L106.50,193.10 L107.00,193.10 L107.50,193.10 L108.00,193.10 L108.50,193.10 L109.00,193.10 L109.50,193.10 L110.00,193.10 L110.50,193.10 L111.00,193.10 L111.50,193.10 L112.00,193.10 L112.50,193.10 L113.00,193.10 L113.00,194.00Z" fill="#2c2f8f"/>
<path d="M118.00,194.00 L118.00,193.10 L118.50,193.10 L119.00,193.10 L119.50,193.10 L120.00,193.10 L120.50,193.10 L121.00,193.10 L121.50,193.10 L122.00,193.10 L122.50,193.10 L123.00,193.10 L123.50,193.10 L124.00,193.10 L124.50,193.10 L125.00,193.10 L125.50,193.10 L126.00,193.10 L126.00,194.00Z" fill="#2c2f8f"/>
<path d="M127.00,194.00 L127.00,193.10 L127.50,193.10 L128.00,193.10 L128.50,191.47 L129.00,188.95 L129.50,186.12 L130.00,183.05 L130.50,179.78 L131.00,176.36 L131.50,172.80 L132.00,176.36 L132.50,179.78 L133.00,183.05 L133.50,186.12 L134.00,188.95 L134.50,191.47 L135.00,193.10 L135.50,193.10 L136.00,193.10 L136.50,193.10 L137.00,193.10 L137.50,193.10 L138.00,193.10 L138.50,193.10 L139.00,193.10 L139.50,193.10 L140.00,193.10 L140.50,193.10 L141.00,193.10 L141.50,193.10 L142.00,193.10 L142.00,194.00Z" fill="#2c2f8f"/>
<path d="M140.00,194.00 L140.00,193.10 L140.50,193.10 L141.00,193.10 L141.50,193.10 L142.00,193.10 L142.50,193.10 L143.00,193.10 L143.50,193.10 L144.00,193.10 L144.50,193.10 L145.00,193.10 L145.50,193.10 L146.00,193.10 L146.50,193.10 L147.00,193.10 L147.50,193.10 L148.00,193.10 L148.50,193.10 L149.00,193.10 L149.50,193.10 L150.00,193.10 L150.50,193.10 L151.00,193.10 L151.50,193.10 L152.00,193.10 L152.00,194.00Z" fill="#2c2f8f"/>
<path d="M153.00,194.00 L153.00,193.10 L153.50,193.10 L154.00,193.10 L154.50,193.10 L155.00,193.10 L155.50,193.10 L156.00,193.10 L156.50,193.10 L157.00,193.10 L157.50,193.10 L158.00,193.10 L158.50,193.10 L159.00,193.10 L159.50,193.10 L160.00,193.10 L160.50,193.10 L161.00,193.10 L161.50,193.10 L162.00,193.10 L162.50,193.10 L163.00,193.10 L163.00,194.00Z" fill="#2c2f8f"/>
<path d="M165.00,194.00 L165.00,193.10 L165.50,193.10 L166.00,193.10 L166.50,193.10 L167.00,193.10 L167.50,193.10 L168.00,193.10 L168.50,193.10 L169.00,193.10 L169.50,193.10 L170.00,193.10 L170.50,193.10 L171.00,193.10 L171.50,193.10 L172.00,193.10 L172.50,193.10 L173.00,193.10 L173.50,193.10 L174.00,193.10 L174.50,193.10 L175.00,193.10 L175.50,193.10 L176.00,193.10 L176.50,193.10 L177.00,193.10 L177.50,193.10 L178.00,193.10 L178.00,194.00Z" fill="#2c2f8f"/>
<path d="M183.00,194.00 L183.00,193.10 L183.50,193.10 L184.00,193.10 L184.50,193.10 L185.00,193.10 L185.00,194.00Z" fill="#2c2f8f"/>
<path d="M194.00,194.00 L194.00,193.10 L194.50,193.10 L195.00,193.10 L195.50,193.10 L196.00,193.10 L196.50,193.10 L197.00,193.10 L197.50,193.10 L198.00,193.10 L198.50,193.10 L199.00,193.10 L199.50,193.10 L200.00,193.10 L200.50,193.10 L201.00,193.10 L201.50,193.10 L202.00,193.10 L202.50,193.10 L203.00,193.10 L203.00,194.00Z" fill="#2c2f8f"/>
<path d="M205.00,194.00 L205.00,193.10 L205.50,193.10 L206.00,193.10 L206.50,193.10 L207.00,193.10 L207.50,193.10 L208.00,193.10 L208.50,193.10 L209.00,193.10 L209.50,193.10 L210.00,193.10 L210.50,193.10 L211.00,193.10 L211.00,194.00Z" fill="#2c2f8f"/>
<path d="M214.00,194.00 L214.00,193.10 L214.50,193.10 L215.00,193.10 L215.50,193.10 L216.00,193.10 L216.50,193.10 L217.00,193.10 L217.50,193.10 L218.00,193.10 L218.50,193.10 L219.00,193.10 L219.50,193.10 L220.00,193.10 L220.50,193.10 L221.00,193.10 L221.50,193.10 L222.00,193.10 L222.00,194.00Z" fill="#2c2f8f"/>
<path d="M225.00,194.00 L225.00,193.10 L225.50,193.10 L226.00,193.10 L226.50,193.10 L227.00,193.10 L227.50,193.10 L228.00,193.10 L228.50,193.10 L229.00,193.10 L229.50,193.10 L230.00,193.10 L230.50,193.10 L231.00,193.10 L231.50,193.10 L232.00,193.10 L232.00,194.00Z" fill="#2c2f8f"/>
<path d="M237.00,194.00 L237.00,193.10 L237.50,193.10 L238.00,193.10 L238.50,193.10 L239.00,193.10 L239.50,193.10 L240.00,193.10 L240.50,193.10 L241.00,193.10 L241.50,193.10 L242.00,193.10 L242.50,193.10 L243.00,193.10 L243.50,193.10 L244.00,193.10 L244.50,193.10 L245.00,193.10 L245.00,194.00Z" fill="#2c2f8f"/>
<path d="M248.00,194.00 L248.00,193.10 L248.50,193.10 L249.00,193.10 L249.50,193.10 L250.00,193.10 L250.50,193.10 L251.00,193.10 L251.50,193.10 L252.00,193.10 L252.50,193.10 L253.00,193.10 L253.50,193.10 L254.00,193.10 L254.50,193.10 L255.00,193.10 L255.50,193.10 L256.00,193.10 L256.50,193.10 L257.00,193.10 L257.00,194.00Z" fill="#2c2f8f"/>
<path d="M263.00,194.00 L263.00,193.07 L263.50,193.10 L264.00,193.10 L264.50,193.10 L265.00,193.10 L265.50,193.10 L266.00,193.10 L266.50,193.10 L267.00,193.10 L267.50,193.10 L268.00,193.10 L268.50,193.10 L269.00,193.10 L269.50,193.10 L270.00,193.10 L270.50,193.10 L271.00,193.10 L271.50,193.10 L272.00,193.10 L272.50,193.10 L273.00,193.10 L273.00,194.00Z" fill="#2c2f8f"/>
<path d="M278.00,194.00 L278.00,193.10 L278.50,193.10 L279.00,193.10 L279.50,193.10 L280.00,193.10 L280.50,193.10 L281.00,193.10 L281.50,193.10 L282.00,193.10 L282.50,193.10 L283.00,193.10 L283.50,193.10 L284.00,193.10 L284.50,193.10 L285.00,193.10 L285.50,193.10 L286.00,193.10 L286.50,193.10 L287.00,193.10 L287.50,193.10 L288.00,193.10 L288.50,193.10 L289.00,193.10 L289.50,193.10 L290.00,193.10 L290.00,194.00Z" fill="#2c2f8f"/>
<path d="M290.00,194.00 L290.00,193.10 L290.50,193.10 L291.00,192.28 L291.50,190.92 L292.00,189.41 L292.50,187.78 L293.00,186.75 L293.50,188.44 L294.00,190.03 L294.50,191.49 L295.00,192.77 L295.50,193.10 L296.00,193.10 L296.50,193.10 L297.00,193.10 L297.50,193.10 L298.00,193.10 L298.50,193.10 L299.00,193.10 L299.50,192.72 L300.00,192.30 L300.50,192.72 L301.00,193.10 L301.50,193.10 L302.00,193.10 L302.00,194.00Z" fill="#2c2f8f"/>
<path d="M307.00,194.00 L307.00,193.10 L307.50,193.10 L308.00,193.10 L308.50,193.10 L309.00,193.10 L309.50,193.10 L310.00,193.10 L310.50,193.10 L311.00,193.10 L311.50,193.10 L312.00,193.10 L312.00,194.00Z" fill="#2c2f8f"/>
<path d="M318.00,194.00 L318.00,193.10 L318.50,193.10 L319.00,193.10 L319.50,193.10 L320.00,193.10 L320.50,193.10 L321.00,193.10 L321.50,193.10 L322.00,193.10 L322.50,193.10 L323.00,193.10 L323.50,193.10 L324.00,193.10 L324.50,193.10 L325.00,193.10 L325.50,193.10 L326.00,193.10 L326.00,194.00Z" fill="#2c2f8f"/>
<path d="M330.00,194.00 L330.00,193.10 L330.50,193.10 L331.00,193.10 L331.50,193.10 L332.00,193.10 L332.50,193.10 L333.00,193.10 L333.50,193.10 L334.00,193.10 L334.50,193.10 L335.00,193.10 L335.00,194.00Z" fill="#2c2f8f"/>
<path d="M340.00,194.00 L340.00,193.10 L340.50,193.10 L341.00,193.10 L341.50,193.10 L342.00,193.10 L342.50,193.10 L343.00,193.10 L343.50,193.10 L344.00,193.10 L344.50,193.10 L345.00,193.10 L345.50,193.10 L346.00,193.10 L346.50,193.10 L347.00,193.10 L347.00,194.00Z" fill="#2c2f8f"/>
<path d="M350.00,194.00 L350.00,193.10 L350.50,193.10 L351.00,193.10 L351.50,193.10 L352.00,193.10 L352.50,193.10 L353.00,193.10 L353.50,193.10 L354.00,193.10 L354.50,193.10 L355.00,193.10 L355.50,193.10 L356.00,193.10 L356.50,193.10 L357.00,193.10 L357.00,194.00Z" fill="#2c2f8f"/>
<path d="M361.00,194.00 L361.00,193.10 L361.50,193.10 L362.00,193.10 L362.50,193.10 L363.00,193.10 L363.50,193.10 L364.00,193.10 L364.50,193.10 L365.00,193.10 L365.50,193.10 L366.00,193.10 L366.00,194.00Z" fill="#2c2f8f"/>
<path d="M369.00,194.00 L369.00,193.10 L369.50,193.10 L370.00,193.10 L370.50,193.10 L371.00,193.10 L371.50,193.10 L372.00,193.10 L372.00,194.00Z" fill="#2c2f8f"/>
<path d="M377.00,194.00 L377.00,193.10 L377.50,193.10 L378.00,193.10 L378.50,193.10 L379.00,193.10 L379.50,193.10 L380.00,193.10 L380.50,193.10 L381.00,193.10 L381.50,193.10 L382.00,193.10 L382.50,193.10 L383.00,193.10 L383.50,193.10 L384.00,193.10 L384.00,194.00Z" fill="#2c2f8f"/>
<path d="M390.00,194.00 L390.00,193.10 L390.50,193.10 L391.00,193.10 L391.50,193.10 L392.00,193.10 L392.50,193.10 L393.00,193.10 L393.50,193.10 L394.00,192.75 L394.50,192.34 L395.00,191.90 L395.50,192.34 L396.00,192.75 L396.50,193.10 L397.00,193.10 L397.50,193.10 L398.00,193.03 L398.50,192.58 L399.00,192.10 L399.50,192.58 L400.00,193.03 L400.50,193.10 L401.00,193.10 L401.50,193.10 L402.00,193.10 L402.50,193.10 L403.00,193.10 L403.50,193.10 L404.00,193.10 L404.00,194.00Z" fill="#2c2f8f"/>
<path d="M407.00,194.00 L407.00,193.10 L407.50,193.10 L408.00,193.10 L408.50,193.10 L409.00,193.10 L409.50,193.10 L410.00,193.10 L410.50,193.10 L411.00,193.10 L411.50,193.10 L412.00,193.10 L412.50,193.10 L413.00,193.10 L413.50,193.10 L414.00,193.10 L414.00,194.00Z" fill="#2c2f8f"/>
<text x="402.50" y="134.00" font-size="12.3" fill="#3ea55a" text-anchor="end">LDB1</text>
<text x="402.50" y="161.80" font-size="12.5" fill="#d2343c" text-anchor="end">IRF2BP2</text>
<text x="402.50" y="187.30" font-size="12.3" fill="#34348f" text-anchor="end">ETO2</text>
<text x="69.90" y="208.20" font-size="12.3" fill="#34348f">Alas2</text>
<line x1="105.60" y1="203.70" x2="356.00" y2="203.70" stroke="#2c2f8f" stroke-width="1.0"/>
<path d="M107.6,202.50l.95,1.2l-.95,1.2l-.95,-1.2zM110.2,202.50l.95,1.2l-.95,1.2l-.95,-1.2zM112.8,202.50l.95,1.2l-.95,1.2l-.95,-1.2zM115.4,202.50l.95,1.2l-.95,1.2l-.95,-1.2zM118.0,202.50l.95,1.2l-.95,1.2l-.95,-1.2zM120.6,202.50l.95,1.2l-.95,1.2l-.95,-1.2zM123.2,202.50l.95,1.2l-.95,1.2l-.95,-1.2zM125.8,202.50l.95,1.2l-.95,1.2l-.95,-1.2zM128.4,202.50l.95,1.2l-.95,1.2l-.95,-1.2zM131.0,202.50l.95,1.2l-.95,1.2l-.95,-1.2zM133.6,202.50l.95,1.2l-.95,1.2l-.95,-1.2zM136.2,202.50l.95,1.2l-.95,1.2l-.95,-1.2zM138.8,202.50l.95,1.2l-.95,1.2l-.95,-1.2zM141.4,202.50l.95,1.2l-.95,1.2l-.95,-1.2zM144.0,202.50l.95,1.2l-.95,1.2l-.95,-1.2zM146.6,202.50l.95,1.2l-.95,1.2l-.95,-1.2zM149.2,202.50l.95,1.2l-.95,1.2l-.95,-1.2zM151.8,202.50l.95,1.2l-.95,1.2l-.95,-1.2zM154.4,202.50l.95,1.2l-.95,1.2l-.95,-1.2zM157.0,202.50l.95,1.2l-.95,1.2l-.95,-1.2zM159.6,202.50l.95,1.2l-.95,1.2l-.95,-1.2zM162.2,202.50l.95,1.2l-.95,1.2l-.95,-1.2zM164.8,202.50l.95,1.2l-.95,1.2l-.95,-1.2zM167.4,202.50l.95,1.2l-.95,1.2l-.95,-1.2zM170.0,202.50l.95,1.2l-.95,1.2l-.95,-1.2zM172.6,202.50l.95,1.2l-.95,1.2l-.95,-1.2zM175.2,202.50l.95,1.2l-.95,1.2l-.95,-1.2zM177.8,202.50l.95,1.2l-.95,1.2l-.95,-1.2zM180.4,202.50l.95,1.2l-.95,1.2l-.95,-1.2zM183.0,202.50l.95,1.2l-.95,1.2l-.95,-1.2zM185.6,202.50l.95,1.2l-.95,1.2l-.95,-1.2zM188.2,202.50l.95,1.2l-.95,1.2l-.95,-1.2zM190.8,202.50l.95,1.2l-.95,1.2l-.95,-1.2zM193.4,202.50l.95,1.2l-.95,1.2l-.95,-1.2zM196.0,202.50l.95,1.2l-.95,1.2l-.95,-1.2zM198.6,202.50l.95,1.2l-.95,1.2l-.95,-1.2zM201.2,202.50l.95,1.2l-.95,1.2l-.95,-1.2zM203.8,202.50l.95,1.2l-.95,1.2l-.95,-1.2zM206.4,202.50l.95,1.2l-.95,1.2l-.95,-1.2zM209.0,202.50l.95,1.2l-.95,1.2l-.95,-1.2zM211.6,202.50l.95,1.2l-.95,1.2l-.95,-1.2zM214.2,202.50l.95,1.2l-.95,1.2l-.95,-1.2zM216.8,202.50l.95,1.2l-.95,1.2l-.95,-1.2zM219.4,202.50l.95,1.2l-.95,1.2l-.95,-1.2zM222.0,202.50l.95,1.2l-.95,1.2l-.95,-1.2zM224.6,202.50l.95,1.2l-.95,1.2l-.95,-1.2zM227.2,202.50l.95,1.2l-.95,1.2l-.95,-1.2zM229.8,202.50l.95,1.2l-.95,1.2l-.95,-1.2zM232.4,202.50l.95,1.2l-.95,1.2l-.95,-1.2zM235.0,202.50l.95,1.2l-.95,1.2l-.95,-1.2zM237.6,202.50l.95,1.2l-.95,1.2l-.95,-1.2zM240.2,202.50l.95,1.2l-.95,1.2l-.95,-1.2zM242.8,202.50l.95,1.2l-.95,1.2l-.95,-1.2zM245.4,202.50l.95,1.2l-.95,1.2l-.95,-1.2zM248.0,202.50l.95,1.2l-.95,1.2l-.95,-1.2zM250.6,202.50l.95,1.2l-.95,1.2l-.95,-1.2zM253.2,202.50l.95,1.2l-.95,1.2l-.95,-1.2zM255.8,202.50l.95,1.2l-.95,1.2l-.95,-1.2zM258.4,202.50l.95,1.2l-.95,1.2l-.95,-1.2zM261.0,202.50l.95,1.2l-.95,1.2l-.95,-1.2zM263.6,202.50l.95,1.2l-.95,1.2l-.95,-1.2zM266.2,202.50l.95,1.2l-.95,1.2l-.95,-1.2zM268.8,202.50l.95,1.2l-.95,1.2l-.95,-1.2zM271.4,202.50l.95,1.2l-.95,1.2l-.95,-1.2zM274.0,202.50l.95,1.2l-.95,1.2l-.95,-1.2zM276.6,202.50l.95,1.2l-.95,1.2l-.95,-1.2zM279.2,202.50l.95,1.2l-.95,1.2l-.95,-1.2zM281.8,202.50l.95,1.2l-.95,1.2l-.95,-1.2zM284.4,202.50l.95,1.2l-.95,1.2l-.95,-1.2zM287.0,202.50l.95,1.2l-.95,1.2l-.95,-1.2zM289.6,202.50l.95,1.2l-.95,1.2l-.95,-1.2zM292.2,202.50l.95,1.2l-.95,1.2l-.95,-1.2zM294.8,202.50l.95,1.2l-.95,1.2l-.95,-1.2zM297.4,202.50l.95,1.2l-.95,1.2l-.95,-1.2zM300.0,202.50l.95,1.2l-.95,1.2l-.95,-1.2zM302.6,202.50l.95,1.2l-.95,1.2l-.95,-1.2zM305.2,202.50l.95,1.2l-.95,1.2l-.95,-1.2zM307.8,202.50l.95,1.2l-.95,1.2l-.95,-1.2zM310.4,202.50l.95,1.2l-.95,1.2l-.95,-1.2zM313.0,202.50l.95,1.2l-.95,1.2l-.95,-1.2zM315.6,202.50l.95,1.2l-.95,1.2l-.95,-1.2zM318.2,202.50l.95,1.2l-.95,1.2l-.95,-1.2zM320.8,202.50l.95,1.2l-.95,1.2l-.95,-1.2zM323.4,202.50l.95,1.2l-.95,1.2l-.95,-1.2zM326.0,202.50l.95,1.2l-.95,1.2l-.95,-1.2zM328.6,202.50l.95,1.2l-.95,1.2l-.95,-1.2zM331.2,202.50l.95,1.2l-.95,1.2l-.95,-1.2zM333.8,202.50l.95,1.2l-.95,1.2l-.95,-1.2zM336.4,202.50l.95,1.2l-.95,1.2l-.95,-1.2zM339.0,202.50l.95,1.2l-.95,1.2l-.95,-1.2zM341.6,202.50l.95,1.2l-.95,1.2l-.95,-1.2zM344.2,202.50l.95,1.2l-.95,1.2l-.95,-1.2zM346.8,202.50l.95,1.2l-.95,1.2l-.95,-1.2zM349.4,202.50l.95,1.2l-.95,1.2l-.95,-1.2zM352.0,202.50l.95,1.2l-.95,1.2l-.95,-1.2zM354.6,202.50l.95,1.2l-.95,1.2l-.95,-1.2z" fill="#2c2f8f"/>
<rect x="156.90" y="201.30" width="1.40" height="4.80" fill="#2c2f8f"/>
<rect x="165.10" y="201.30" width="1.40" height="4.80" fill="#2c2f8f"/>
<rect x="175.30" y="200.90" width="1.40" height="5.60" fill="#2c2f8f"/>
<rect x="211.30" y="201.10" width="1.40" height="5.20" fill="#2c2f8f"/>
<rect x="219.00" y="201.10" width="1.40" height="5.20" fill="#2c2f8f"/>
<rect x="249.30" y="201.30" width="1.40" height="4.80" fill="#2c2f8f"/>
<rect x="281.90" y="201.10" width="1.40" height="5.20" fill="#2c2f8f"/>
<rect x="295.70" y="200.90" width="1.40" height="5.60" fill="#2c2f8f"/>
<rect x="311.30" y="201.10" width="1.40" height="5.20" fill="#2c2f8f"/>
<rect x="264.30" y="202.20" width="1.40" height="3.00" fill="#2c2f8f"/>
<rect x="329.30" y="202.20" width="1.40" height="3.00" fill="#2c2f8f"/>
<rect x="295.20" y="202.10" width="2.40" height="3.20" fill="#2c2f8f"/>
<path d="M352.6,200.9 L356.4,203.7 L352.6,206.5Z" fill="#2c2f8f"/>
<line x1="365.70" y1="203.70" x2="420.00" y2="203.70" stroke="#2c2f8f" stroke-width="1.0"/>
<path d="M367.7,202.50l.95,1.2l-.95,1.2l-.95,-1.2zM370.3,202.50l.95,1.2l-.95,1.2l-.95,-1.2zM372.9,202.50l.95,1.2l-.95,1.2l-.95,-1.2zM375.5,202.50l.95,1.2l-.95,1.2l-.95,-1.2zM378.1,202.50l.95,1.2l-.95,1.2l-.95,-1.2zM380.7,202.50l.95,1.2l-.95,1.2l-.95,-1.2zM383.3,202.50l.95,1.2l-.95,1.2l-.95,-1.2zM385.9,202.50l.95,1.2l-.95,1.2l-.95,-1.2zM388.5,202.50l.95,1.2l-.95,1.2l-.95,-1.2zM391.1,202.50l.95,1.2l-.95,1.2l-.95,-1.2zM393.7,202.50l.95,1.2l-.95,1.2l-.95,-1.2zM396.3,202.50l.95,1.2l-.95,1.2l-.95,-1.2zM398.9,202.50l.95,1.2l-.95,1.2l-.95,-1.2zM401.5,202.50l.95,1.2l-.95,1.2l-.95,-1.2zM404.1,202.50l.95,1.2l-.95,1.2l-.95,-1.2zM406.7,202.50l.95,1.2l-.95,1.2l-.95,-1.2zM409.3,202.50l.95,1.2l-.95,1.2l-.95,-1.2zM411.9,202.50l.95,1.2l-.95,1.2l-.95,-1.2zM414.5,202.50l.95,1.2l-.95,1.2l-.95,-1.2zM417.1,202.50l.95,1.2l-.95,1.2l-.95,-1.2z" fill="#2c2f8f"/>
<rect x="368.00" y="202.10" width="9.50" height="3.20" fill="#2c2f8f"/>
<rect x="365.50" y="202.50" width="3.00" height="2.40" fill="#2c2f8f"/>
<text x="367.40" y="220.40" font-size="12.5" fill="#34348f">Apex2</text>
<text x="-1.50" y="257.80" font-size="18.5" fill="#000" font-weight="bold">b</text>
<text x="89.50" y="266.60" font-size="12.6" fill="#cc3a48" text-anchor="middle">IRF2BP2</text>
<text x="89.8" y="281.8" font-size="12.6" fill="#cc3a48" text-anchor="middle"><tspan font-style="italic">n</tspan>=11,469</text>
<defs><clipPath id="cpbig"><ellipse cx="91.00" cy="360.30" rx="77.80" ry="70.80"/></clipPath></defs>
<ellipse cx="91.00" cy="360.30" rx="77.80" ry="70.80" fill="#e4747c"/>
<ellipse cx="91.20" cy="417.60" rx="51.80" ry="47.40" fill="#8283c4"/>
<ellipse cx="91.20" cy="417.60" rx="51.80" ry="47.40" fill="#76498c" clip-path="url(#cpbig)"/>
<ellipse cx="91.00" cy="360.30" rx="77.80" ry="70.80" fill="none" stroke="#1a1a1a" stroke-width="0.9"/>
<ellipse cx="91.20" cy="417.60" rx="51.80" ry="47.40" fill="none" stroke="#1a1a1a" stroke-width="0.9"/>
<text x="87.00" y="331.20" font-size="12.6" fill="#fbeaea" text-anchor="middle">8,739</text>
<text x="87.00" y="404.50" font-size="12.6" fill="#f1e8f4" text-anchor="middle">2,730</text>
<text x="87.20" y="449.80" font-size="12.6" fill="#eeeefa" text-anchor="middle">1,760</text>
<text x="89.30" y="479.80" font-size="12.6" fill="#34348f" text-anchor="middle">ETO2</text>
<text x="89.50" y="495.00" font-size="12.6" fill="#34348f" text-anchor="middle">n=4,490</text>
<path d="M128.5,327.1 L197,327.0" stroke="#111" stroke-width="1.1" stroke-dasharray="3.4,2.4" fill="none"/>
<path d="M195.5,323.8 L207.5,327.0 L195.5,330.2Z" fill="#111"/>
<path d="M121,409.7 L177,428.8" stroke="#111" stroke-width="1.1" stroke-dasharray="3.4,2.4" fill="none"/>
<path d="M175.5,425.0 L187.5,432.0 L173.6,431.0Z" fill="#111"/>
<path d="M71.8,447.6 C62,452 55,465 54.2,485 C53.6,500 56,515 59.6,527" stroke="#111" stroke-width="1.15" stroke-dasharray="3.4,2.4" fill="none"/>
<path d="M56.8,528.8 L63.4,538.8 L63.6,526.0Z" fill="#111"/>
<text x="472.40" y="252.00" font-size="9.2" fill="#111" text-anchor="middle">Go biological process</text>
<text x="472.7" y="264.2" font-size="9.2" fill="#111" text-anchor="middle">–log10 (binomial <tspan font-style="italic">P</tspan> value)</text>
<text x="374.20" y="276.70" font-size="9.2" fill="#111" text-anchor="middle">0</text>
<text x="408.00" y="276.70" font-size="9.2" fill="#111" text-anchor="middle">5</text>
<text x="441.80" y="276.70" font-size="9.2" fill="#111" text-anchor="middle">10</text>
<text x="475.60" y="276.70" font-size="9.2" fill="#111" text-anchor="middle">15</text>
<text x="509.40" y="276.70" font-size="9.2" fill="#111" text-anchor="middle">20</text>
<text x="543.20" y="276.70" font-size="9.2" fill="#111" text-anchor="middle">25</text>
<rect x="373.90" y="280.30" width="194.10" height="6.00" fill="#2ea75a"/>
<text x="370.30" y="286.20" font-size="7.0" fill="#111" text-anchor="end" stroke="#111" stroke-width="0.18">Induction of apoptosis</text>
<rect x="373.90" y="287.80" width="193.10" height="6.00" fill="#2ea75a"/>
<text x="370.30" y="293.70" font-size="7.0" fill="#111" text-anchor="end" stroke="#111" stroke-width="0.18">Induction of programmed cell death</text>
<rect x="373.90" y="295.30" width="191.90" height="6.00" fill="#9a9a9a"/>
<text x="370.30" y="301.20" font-size="7.0" fill="#111" text-anchor="end" stroke="#111" stroke-width="0.18">Post-transcriptional regulation of gene expression</text>
<rect x="373.90" y="302.80" width="176.50" height="6.00" fill="#9a9a9a"/>
<text x="370.30" y="308.70" font-size="7.0" fill="#111" text-anchor="end" stroke="#111" stroke-width="0.18">Translation</text>
<rect x="373.90" y="310.30" width="157.90" height="6.00" fill="#e6952f"/>
<text x="370.30" y="316.20" font-size="7.0" fill="#111" text-anchor="end" stroke="#111" stroke-width="0.18">Regulation of myeloid leukocyte differentiation</text>
<rect x="373.90" y="317.80" width="142.60" height="6.00" fill="#2ea75a"/>
<text x="370.30" y="323.70" font-size="7.0" fill="#111" text-anchor="end" stroke="#111" stroke-width="0.18">Induction of apoptosis by intracellular signals</text>
<rect x="373.90" y="325.30" width="139.90" height="6.00" fill="#e6952f"/>
<text x="370.30" y="331.20" font-size="7.0" fill="#111" text-anchor="end" stroke="#111" stroke-width="0.18">Regulation of myeloid cell differentiation</text>
<rect x="373.90" y="332.80" width="136.40" height="6.00" fill="#9a9a9a"/>
<text x="370.30" y="338.70" font-size="7.0" fill="#111" text-anchor="end" stroke="#111" stroke-width="0.18">Regulation of mRNA stability</text>
<rect x="373.90" y="340.30" width="134.80" height="6.00" fill="#e6952f"/>
<text x="370.30" y="346.20" font-size="7.0" fill="#111" text-anchor="end" stroke="#111" stroke-width="0.18">Negative regulation of myeloid cell differentiation</text>
<rect x="373.90" y="347.80" width="132.90" height="6.00" fill="#9a9a9a"/>
<text x="370.30" y="353.70" font-size="7.0" fill="#111" text-anchor="end" stroke="#111" stroke-width="0.18">Regulation of RNA stability</text>
<rect x="373.90" y="355.30" width="128.40" height="6.00" fill="#e6952f"/>
<text x="370.30" y="361.20" font-size="7.0" fill="#111" text-anchor="end" stroke="#111" stroke-width="0.18">JAK-STAT cascade</text>
<rect x="373.90" y="362.80" width="118.10" height="6.00" fill="#2ea75a"/>
<text x="370.30" y="368.70" font-size="7.0" fill="#111" text-anchor="end" stroke="#111" stroke-width="0.18">Apoptotic mitochondrial changes</text>
<rect x="373.90" y="370.30" width="115.10" height="6.00" fill="#9a9a9a"/>
<text x="370.30" y="376.20" font-size="7.0" fill="#111" text-anchor="end" stroke="#111" stroke-width="0.18">Protein folding</text>
<rect x="373.90" y="377.80" width="112.90" height="6.00" fill="#e6952f"/>
<text x="370.30" y="383.70" font-size="7.0" fill="#111" text-anchor="end" stroke="#111" stroke-width="0.18">Phagocytosis</text>
<rect x="373.90" y="385.30" width="112.60" height="6.00" fill="#2ea75a"/>
<text x="370.30" y="391.20" font-size="7.0" fill="#111" text-anchor="end" stroke="#111" stroke-width="0.18">Ageing</text>
<text x="374.40" y="408.60" font-size="9.2" fill="#111" text-anchor="middle">0</text>
<text x="401.52" y="408.60" font-size="9.2" fill="#111" text-anchor="middle">2</text>
<text x="428.64" y="408.60" font-size="9.2" fill="#111" text-anchor="middle">4</text>
<text x="455.76" y="408.60" font-size="9.2" fill="#111" text-anchor="middle">6</text>
<text x="482.88" y="408.60" font-size="9.2" fill="#111" text-anchor="middle">8</text>
<text x="510.00" y="408.60" font-size="9.2" fill="#111" text-anchor="middle">10</text>
<text x="537.12" y="408.60" font-size="9.2" fill="#111" text-anchor="middle">12</text>
<text x="564.24" y="408.60" font-size="9.2" fill="#111" text-anchor="middle">14</text>
<rect x="374.10" y="412.00" width="193.90" height="6.00" fill="#d2232d"/>
<text x="370.30" y="417.90" font-size="7.0" fill="#111" text-anchor="end" stroke="#111" stroke-width="0.18">Porphyrin-containing compound biosynthetic process</text>
<rect x="374.10" y="419.50" width="186.60" height="6.00" fill="#9a9a9a"/>
<text x="370.30" y="425.40" font-size="7.0" fill="#111" text-anchor="end" stroke="#111" stroke-width="0.18">Cellular lipid metabolic process</text>
<rect x="374.10" y="427.00" width="184.40" height="6.00" fill="#d2232d"/>
<text x="370.30" y="432.90" font-size="7.0" fill="#111" text-anchor="end" stroke="#111" stroke-width="0.18">Porphyrin-containing compound metabolic process</text>
<rect x="374.10" y="434.50" width="182.80" height="6.00" fill="#d2232d"/>
<text x="370.30" y="440.40" font-size="7.0" fill="#111" text-anchor="end" stroke="#111" stroke-width="0.18">Tetrapyrrole metabolic process</text>
<rect x="374.10" y="442.00" width="143.30" height="6.00" fill="#e6952f"/>
<text x="370.30" y="447.90" font-size="7.0" fill="#111" text-anchor="end" stroke="#111" stroke-width="0.18">Myeloid cell differentiation</text>
<rect x="374.10" y="449.50" width="129.40" height="6.00" fill="#9a9a9a"/>
<text x="370.30" y="455.40" font-size="7.0" fill="#111" text-anchor="end" stroke="#111" stroke-width="0.18">Post-transcriptional regulation of gene expression</text>
<rect x="374.10" y="457.00" width="117.60" height="6.00" fill="#e6952f"/>
<text x="370.30" y="462.90" font-size="7.0" fill="#111" text-anchor="end" stroke="#111" stroke-width="0.18">Regulation of myeloid cell differentiation</text>
<rect x="374.10" y="464.50" width="116.30" height="6.00" fill="#d2232d"/>
<text x="370.30" y="470.40" font-size="7.0" fill="#111" text-anchor="end" stroke="#111" stroke-width="0.18">Haem biosynthetic process</text>
<rect x="374.10" y="472.00" width="115.00" height="6.00" fill="#d2232d"/>
<text x="370.30" y="477.90" font-size="7.0" fill="#111" text-anchor="end" stroke="#111" stroke-width="0.18">Haem metabolic process</text>
<rect x="374.10" y="479.50" width="114.70" height="6.00" fill="#9a9a9a"/>
<text x="370.30" y="485.40" font-size="7.0" fill="#111" text-anchor="end" stroke="#111" stroke-width="0.18">Negative regulation of MAP kinase activity</text>
<rect x="374.10" y="487.00" width="112.70" height="6.00" fill="#e6952f"/>
<text x="370.30" y="492.90" font-size="7.0" fill="#111" text-anchor="end" stroke="#111" stroke-width="0.18">Platelet activation</text>
<rect x="374.10" y="494.50" width="112.10" height="6.00" fill="#9a9a9a"/>
<text x="370.30" y="500.40" font-size="7.0" fill="#111" text-anchor="end" stroke="#111" stroke-width="0.18">Positive regulation of cholesterol biosynthetic process</text>
<rect x="374.10" y="502.00" width="110.50" height="6.00" fill="#9a9a9a"/>
<text x="370.30" y="507.90" font-size="7.0" fill="#111" text-anchor="end" stroke="#111" stroke-width="0.18">Plasma lipoprotein particle organization</text>
<rect x="374.10" y="509.50" width="109.50" height="6.00" fill="#9a9a9a"/>
<text x="370.30" y="515.40" font-size="7.0" fill="#111" text-anchor="end" stroke="#111" stroke-width="0.18">Purine nucleoside triphosphate metabolic process</text>
<rect x="374.10" y="517.00" width="109.50" height="6.00" fill="#d2232d"/>
<text x="370.30" y="522.90" font-size="7.0" fill="#111" text-anchor="end" stroke="#111" stroke-width="0.18">Erythrocyte differentiation</text>
<text x="165.10" y="544.50" font-size="9.2" fill="#111" text-anchor="middle">0</text>
<text x="186.90" y="544.50" font-size="9.2" fill="#111" text-anchor="middle">1</text>
<text x="208.70" y="544.50" font-size="9.2" fill="#111" text-anchor="middle">2</text>
<text x="230.50" y="544.50" font-size="9.2" fill="#111" text-anchor="middle">3</text>
<text x="252.30" y="544.50" font-size="9.2" fill="#111" text-anchor="middle">4</text>
<text x="274.10" y="544.50" font-size="9.2" fill="#111" text-anchor="middle">5</text>
<text x="295.90" y="544.50" font-size="9.2" fill="#111" text-anchor="middle">6</text>
<text x="317.70" y="544.50" font-size="9.2" fill="#111" text-anchor="middle">7</text>
<text x="339.50" y="544.50" font-size="9.2" fill="#111" text-anchor="middle">8</text>
<rect x="164.80" y="546.80" width="194.20" height="5.60" fill="#9a9a9a"/>
<text x="160.30" y="552.30" font-size="7.0" fill="#111" text-anchor="end" stroke="#111" stroke-width="0.18">Cellular lipid metabolic process</text>
<rect x="164.80" y="554.25" width="165.00" height="5.60" fill="#2ea75a"/>
<text x="160.30" y="559.75" font-size="7.0" fill="#111" text-anchor="end" stroke="#111" stroke-width="0.18">Homeostasis of number of cells</text>
<rect x="164.80" y="561.70" width="161.20" height="5.60" fill="#e6952f"/>
<text x="160.30" y="567.20" font-size="7.0" fill="#111" text-anchor="end" stroke="#111" stroke-width="0.18">Myeloid cell differentiation</text>
<rect x="164.80" y="569.15" width="146.10" height="5.60" fill="#9a9a9a"/>
<text x="160.30" y="574.65" font-size="7.0" fill="#111" text-anchor="end" stroke="#111" stroke-width="0.18">Protein complex assembly</text>
<rect x="164.80" y="576.60" width="145.80" height="5.60" fill="#9a9a9a"/>
<text x="160.30" y="582.10" font-size="7.0" fill="#111" text-anchor="end" stroke="#111" stroke-width="0.18">Protein complex biogenesis</text>
<rect x="164.80" y="584.05" width="135.80" height="5.60" fill="#9a9a9a"/>
<text x="160.30" y="589.55" font-size="7.0" fill="#111" text-anchor="end" stroke="#111" stroke-width="0.18">Monocarboxylic acid metabolic process</text>
<rect x="164.80" y="591.50" width="124.20" height="5.60" fill="#9a9a9a"/>
<text x="160.30" y="597.00" font-size="7.0" fill="#111" text-anchor="end" stroke="#111" stroke-width="0.18">Lipid biosynthetic process</text>
<rect x="164.80" y="598.95" width="121.70" height="5.60" fill="#9a9a9a"/>
<text x="160.30" y="604.45" font-size="7.0" fill="#111" text-anchor="end" stroke="#111" stroke-width="0.18">Organophosphate metabolic process</text>
<rect x="164.80" y="606.40" width="120.10" height="5.60" fill="#e6952f"/>
<text x="160.30" y="611.90" font-size="7.0" fill="#111" text-anchor="end" stroke="#111" stroke-width="0.18">Regulation of myeloid cell differentiation</text>
<rect x="164.80" y="613.85" width="119.80" height="5.60" fill="#9a9a9a"/>
<text x="160.30" y="619.35" font-size="7.0" fill="#111" text-anchor="end" stroke="#111" stroke-width="0.18">Negative regulation of ossification</text>
<rect x="164.80" y="621.30" width="115.20" height="5.60" fill="#e6952f"/>
<text x="160.30" y="626.80" font-size="7.0" fill="#111" text-anchor="end" stroke="#111" stroke-width="0.18">Meloid leukocyte differentiationy</text>
<rect x="164.80" y="628.75" width="110.80" height="5.60" fill="#9a9a9a"/>
<text x="160.30" y="634.25" font-size="7.0" fill="#111" text-anchor="end" stroke="#111" stroke-width="0.18">Phospholipid metabolic process</text>
<rect x="164.80" y="636.20" width="106.60" height="5.60" fill="#9a9a9a"/>
<text x="160.30" y="641.70" font-size="7.0" fill="#111" text-anchor="end" stroke="#111" stroke-width="0.18">Response to insulin stimulus</text>
<rect x="164.80" y="643.65" width="98.90" height="5.60" fill="#9a9a9a"/>
<text x="160.30" y="649.15" font-size="7.0" fill="#111" text-anchor="end" stroke="#111" stroke-width="0.18">Response to cAMP</text>
<rect x="164.80" y="651.10" width="96.00" height="5.60" fill="#9a9a9a"/>
<text x="160.30" y="656.60" font-size="7.0" fill="#111" text-anchor="end" stroke="#111" stroke-width="0.18">Protein oligomerization</text>
<rect x="357.00" y="560.60" width="15.80" height="12.00" fill="#2ea75a"/>
<text x="378.20" y="571.20" font-size="13.2" fill="#111">Proliferation/survival processes</text>
<rect x="357.00" y="585.00" width="15.80" height="12.00" fill="#e6952f"/>
<text x="378.20" y="595.60" font-size="13.2" fill="#111">Non-erythroid blood cell processes</text>
<rect x="357.00" y="609.50" width="15.80" height="12.00" fill="#9a9a9a"/>
<text x="378.20" y="620.10" font-size="13.2" fill="#111">Housekeeping/unrelated processes</text>
<rect x="357.00" y="632.40" width="15.80" height="12.00" fill="#d2232d"/>
<text x="378.20" y="643.00" font-size="13.2" fill="#111">Erythroid-specific processes</text>
<text x="-1.60" y="693.40" font-size="18.5" fill="#000" font-weight="bold">c</text>
<rect x="46.70" y="681.5" width="105.40" height="54.30" fill="#fff" stroke="#666" stroke-width="0.9"/>
<line x1="98.40" y1="681.50" x2="98.40" y2="735.80" stroke="#666" stroke-width="0.9"/>
<text x="72.10" y="689.90" font-size="9" fill="#111" text-anchor="middle">1 kb</text>
<line x1="50.60" y1="697.40" x2="94.20" y2="697.40" stroke="#111" stroke-width="1.0"/>
<path d="M47.6,697.4 L53.1,694.9 L53.1,699.9Z" fill="#111"/>
<path d="M97.2,697.4 L91.7,694.9 L91.7,699.9Z" fill="#111"/>
<line x1="72.40" y1="694.20" x2="72.40" y2="701.20" stroke="#111" stroke-width="1.0"/>
<text x="125.00" y="689.90" font-size="9" fill="#111" text-anchor="middle">1 kb</text>
<line x1="102.90" y1="697.40" x2="148.20" y2="697.40" stroke="#111" stroke-width="1.0"/>
<path d="M99.9,697.4 L105.4,694.9 L105.4,699.9Z" fill="#111"/>
<path d="M151.2,697.4 L145.7,694.9 L145.7,699.9Z" fill="#111"/>
<line x1="125.30" y1="694.20" x2="125.30" y2="701.20" stroke="#111" stroke-width="1.0"/>
<path d="M48,724.9 L96.5,724.9" stroke="#8c8fd6" stroke-width="0.8" stroke-dasharray="2.2,1.4"/>
<path d="M67.5,725.2 L69.5,723.8 L71.3,712 L72.1,703.9 L72.9,712 L74.6,723.8 L76.6,725.2Z" fill="#2c2f8f"/>
<path d="M100.5,724.9 L150.5,724.9" stroke="#e0707a" stroke-width="0.8" stroke-dasharray="2.2,1.4"/>
<path d="M104,725.2 L105,723.4 L106,725.2Z M108.5,725.2 L110,723.6 L111.5,725.2Z M114,725.2 L116,723.2 L118,725.2Z M120,725.2 L122,723 L124,713 L125.3,703.6 L126.6,713 L128,722.5 L130,722 L131.1,721.6 L132.3,722.6 L134,723.8 L135.5,725.2Z M137,725.2 L138.5,723.6 L140,725.2Z M144.5,725.2 L146,722.8 L147.5,725.2Z" fill="#d4222b"/>
<text x="72.30" y="733.30" font-size="9" fill="#34348f" text-anchor="middle">ETO2</text>
<text x="124.80" y="733.30" font-size="9.2" fill="#d2343c" text-anchor="middle">IRF2BP2</text>
<defs>
<filter id="nz" x="0" y="0" width="100%" height="100%" filterUnits="objectBoundingBox" color-interpolation-filters="sRGB">
<feTurbulence type="fractalNoise" baseFrequency="0.035 0.8" numOctaves="2" seed="4"/>
<feColorMatrix type="matrix" values="0.7 0 0 0 0.15  0.7 0 0 0 0.15  0.7 0 0 0 0.15  0 0 0 0 1"/>
</filter>
<filter id="nz2" x="0" y="0" width="100%" height="100%" filterUnits="objectBoundingBox" color-interpolation-filters="sRGB">
<feTurbulence type="fractalNoise" baseFrequency="0.03 0.9" numOctaves="2" seed="8"/>
<feColorMatrix type="matrix" values="1.2 0 0 0 -0.1  1.2 0 0 0 -0.1  1.2 0 0 0 -0.1  0 0 0 0 1"/>
</filter>
<filter id="bl4" x="-50%" y="-5%" width="200%" height="110%"><feGaussianBlur stdDeviation="4 0.8"/></filter>
<filter id="bl10" x="-50%" y="-5%" width="200%" height="110%"><feGaussianBlur stdDeviation="1.0 0.3"/></filter>
<filter id="bl30" x="-50%" y="-5%" width="200%" height="110%"><feGaussianBlur stdDeviation="2.6 0.5"/></filter>
<linearGradient id="darkS" x1="0" x2="1" y1="0" y2="0">
<stop offset="0" stop-color="#000" stop-opacity="0"/><stop offset="0.18" stop-color="#0a0a0a" stop-opacity="0.55"/><stop offset="0.3" stop-color="#141010" stop-opacity="0.85"/>
<stop offset="0.7" stop-color="#141010" stop-opacity="0.85"/><stop offset="0.82" stop-color="#0a0a0a" stop-opacity="0.55"/><stop offset="1" stop-color="#000" stop-opacity="0"/></linearGradient>
<linearGradient id="tubeH" x1="0" x2="1" y1="0" y2="0">
<stop offset="0" stop-color="#000" stop-opacity="0.8"/><stop offset="0.25" stop-color="#000" stop-opacity="0.45"/><stop offset="0.5" stop-color="#000" stop-opacity="0"/>
<stop offset="0.75" stop-color="#000" stop-opacity="0.45"/><stop offset="1" stop-color="#000" stop-opacity="0.8"/></linearGradient>
<linearGradient id="mv1" x1="0" x2="0" y1="0" y2="1"><stop offset="0" stop-color="#fff" stop-opacity="0.55"/><stop offset="1" stop-color="#fff" stop-opacity="0.7"/></linearGradient>
<linearGradient id="mv2" x1="0" x2="0" y1="0" y2="1"><stop offset="0" stop-color="#fff" stop-opacity="0"/><stop offset="0.3" stop-color="#fff" stop-opacity="0.1"/><stop offset="1" stop-color="#fff" stop-opacity="0.6"/></linearGradient>
<linearGradient id="mv2b" x1="0" x2="0" y1="0" y2="1"><stop offset="0" stop-color="#fff" stop-opacity="0.1"/><stop offset="1" stop-color="#fff" stop-opacity="0.4"/></linearGradient>
<linearGradient id="mv3" x1="0" x2="0" y1="0" y2="1"><stop offset="0" stop-color="#fff" stop-opacity="0"/><stop offset="0.08" stop-color="#fff" stop-opacity="0.1"/><stop offset="0.35" stop-color="#fff" stop-opacity="0.7"/><stop offset="1" stop-color="#fff" stop-opacity="0.9"/></linearGradient>
<mask id="mk1" maskContentUnits="objectBoundingBox"><rect x="0" y="0" width="1" height="1" fill="url(#mv1)"/></mask>
<mask id="mk2" maskContentUnits="objectBoundingBox"><rect x="0" y="0" width="1" height="1" fill="url(#mv2)"/></mask>
<mask id="mk2b" maskContentUnits="objectBoundingBox"><rect x="0" y="0" width="1" height="1" fill="url(#mv2b)"/></mask>
<mask id="mk3" maskContentUnits="objectBoundingBox"><rect x="0" y="0" width="1" height="1" fill="url(#mv3)"/></mask>
<linearGradient id="etoband" x1="0" x2="0" y1="0" y2="1"><stop offset="0" stop-color="#0c0c0c" stop-opacity="0.95"/><stop offset="0.3" stop-color="#101010" stop-opacity="0.85"/><stop offset="1" stop-color="#141414" stop-opacity="0.7"/></linearGradient>
<linearGradient id="topdark" x1="0" x2="0" y1="0" y2="1"><stop offset="0" stop-color="#000" stop-opacity="0.5"/><stop offset="0.3" stop-color="#000" stop-opacity="0.3"/><stop offset="1" stop-color="#000" stop-opacity="0"/></linearGradient>
<filter id="bl06" x="-50%" y="-5%" width="200%" height="110%"><feGaussianBlur stdDeviation="0.7 0.2"/></filter>
<linearGradient id="redC" x1="0" x2="1" y1="0" y2="0"><stop offset="0" stop-color="#4a0a0d"/><stop offset="0.14" stop-color="#9c1b21"/>
<stop offset="0.5" stop-color="#c9242b"/><stop offset="0.86" stop-color="#9c1b21"/><stop offset="1" stop-color="#4a0a0d"/></linearGradient>
<linearGradient id="vsh1" x1="0" x2="0" y1="0" y2="1"><stop offset="0" stop-color="#000" stop-opacity="0.2"/><stop offset="1" stop-color="#000" stop-opacity="0.3"/></linearGradient>
<linearGradient id="vsh1b" x1="0" x2="0" y1="0" y2="1"><stop offset="0" stop-color="#000" stop-opacity="0.05"/><stop offset="1" stop-color="#000" stop-opacity="0.12"/></linearGradient>
<linearGradient id="redH" x1="0" x2="1" y1="0" y2="0">
<stop offset="0" stop-color="#000" stop-opacity="0"/><stop offset="0.04" stop-color="#050505" stop-opacity="0.85"/>
<stop offset="0.1" stop-color="#080203"/><stop offset="0.15" stop-color="#6e1217"/><stop offset="0.26" stop-color="#b01e26"/><stop offset="0.5" stop-color="#c8242b"/>
<stop offset="0.74" stop-color="#b01e26"/><stop offset="0.85" stop-color="#6e1217"/><stop offset="0.9" stop-color="#080203"/>
<stop offset="0.96" stop-color="#050505" stop-opacity="0.85"/><stop offset="1" stop-color="#000" stop-opacity="0"/></linearGradient>
<linearGradient id="darkH" x1="0" x2="1" y1="0" y2="0">
<stop offset="0" stop-color="#000" stop-opacity="0"/><stop offset="0.25" stop-color="#050505" stop-opacity="0.92"/>
<stop offset="0.75" stop-color="#050505" stop-opacity="0.92"/><stop offset="1" stop-color="#000" stop-opacity="0"/></linearGradient>
<linearGradient id="vsh2" x1="0" x2="0" y1="0" y2="1"><stop offset="0" stop-color="#ff3a3a" stop-opacity="0.32"/><stop offset="0.3" stop-color="#ff3a3a" stop-opacity="0.05"/><stop offset="0.6" stop-color="#000" stop-opacity="0.12"/><stop offset="1" stop-color="#000" stop-opacity="0.28"/></linearGradient>
<linearGradient id="vsh3" x1="0" x2="0" y1="0" y2="1"><stop offset="0" stop-color="#ff3a3a" stop-opacity="0.38"/><stop offset="0.06" stop-color="#ff3a3a" stop-opacity="0.22"/><stop offset="0.12" stop-color="#ff3a3a" stop-opacity="0"/><stop offset="0.25" stop-color="#000" stop-opacity="0.2"/><stop offset="0.5" stop-color="#000" stop-opacity="0.32"/><stop offset="1" stop-color="#000" stop-opacity="0.46"/></linearGradient>
<clipPath id="hmclip"><rect x="46.7" y="735.8" width="105.4" height="399.5"/></clipPath>
</defs>
<g clip-path="url(#hmclip)">
<rect x="46.70" y="735.80" width="51.70" height="49.80" fill="#686868"/>
<rect x="98.40" y="735.80" width="53.70" height="49.80" fill="#969696"/>
<rect x="46.70" y="785.60" width="51.70" height="83.00" fill="#606060"/>
<rect x="98.40" y="785.60" width="53.70" height="83.00" fill="#5a5a5a"/>
<rect x="46.70" y="868.60" width="51.70" height="266.70" fill="#7a7a7a"/>
<rect x="98.40" y="868.60" width="53.70" height="266.70" fill="#585858"/>
<rect x="46.7" y="735.8" width="105.4" height="399.5" filter="url(#nz)" style="mix-blend-mode:overlay"/>
<g filter="url(#bl4)"><rect x="64" y="868.6" width="13.5" height="266.7" fill="url(#etoband)"/></g>
<rect x="112.80" y="735.80" width="26.50" height="49.80" fill="url(#darkS)"/>
<rect x="46.70" y="785.60" width="51.70" height="3.00" fill="#000" opacity="0.7" filter="url(#bl06)"/>
<rect x="98.40" y="868.60" width="53.70" height="4.00" fill="#000" opacity="0.8" filter="url(#bl06)"/>
<rect x="98.4" y="868.6" width="53.7" height="130" fill="url(#topdark)"/>
<path d="M57.50,734.80 L57.90,785.60 L85.90,785.60 L86.30,734.80Z" fill="#0a0a0a" opacity="0.5" filter="url(#bl30)"/>
<path d="M60.00,734.80 L60.40,785.60 L83.40,785.60 L83.80,734.80Z" fill="#050505" opacity="0.95" filter="url(#bl10)"/>
<path d="M62.00,734.80 L62.40,785.60 L81.40,785.60 L81.80,734.80Z" fill="url(#redC)" filter="url(#bl06)"/>
<path d="M62.00,734.80 L62.40,785.60 L81.40,785.60 L81.80,734.80Z" fill="url(#vsh1)" filter="url(#bl06)"/>
<path d="M62.00,734.80 L62.40,785.60 L81.40,785.60 L81.80,734.80Z" fill="url(#tubeH)" mask="url(#mk1)"/>
<path d="M53.00,785.80 L54.00,787.20 L55.10,790.60 L57.50,860.60 L57.90,865.60 L59.30,867.40 L61.50,868.40 L82.50,868.40 L84.90,867.40 L86.30,865.60 L86.50,860.60 L88.20,790.60 L89.40,787.20 L91.00,785.80Z" fill="#0a0a0a" opacity="0.5" filter="url(#bl30)"/>
<path d="M55.50,785.80 L56.50,787.20 L57.60,790.60 L60.00,860.60 L60.40,865.60 L61.80,867.40 L64.00,868.40 L80.00,868.40 L82.40,867.40 L83.80,865.60 L84.00,860.60 L85.70,790.60 L86.90,787.20 L88.50,785.80Z" fill="#050505" opacity="0.95" filter="url(#bl10)"/>
<path d="M57.50,785.80 L58.50,787.20 L59.60,790.60 L62.00,860.60 L62.40,865.60 L63.80,867.40 L66.00,868.40 L78.00,868.40 L80.40,867.40 L81.80,865.60 L82.00,860.60 L83.70,790.60 L84.90,787.20 L86.50,785.80Z" fill="url(#redC)" filter="url(#bl06)"/>
<path d="M57.50,785.80 L58.50,787.20 L59.60,790.60 L62.00,860.60 L62.40,865.60 L63.80,867.40 L66.00,868.40 L78.00,868.40 L80.40,867.40 L81.80,865.60 L82.00,860.60 L83.70,790.60 L84.90,787.20 L86.50,785.80Z" fill="url(#vsh2)" filter="url(#bl06)"/>
<path d="M57.50,785.80 L58.50,787.20 L59.60,790.60 L62.00,860.60 L62.40,865.60 L63.80,867.40 L66.00,868.40 L78.00,868.40 L80.40,867.40 L81.80,865.60 L82.00,860.60 L83.70,790.60 L84.90,787.20 L86.50,785.80Z" fill="url(#tubeH)" mask="url(#mk2)"/>
<path d="M108.20,785.60 L110.10,868.60 L141.30,868.60 L141.70,785.60Z" fill="#0a0a0a" opacity="0.5" filter="url(#bl30)"/>
<path d="M110.70,785.60 L112.60,868.60 L138.80,868.60 L139.20,785.60Z" fill="#050505" opacity="0.95" filter="url(#bl10)"/>
<path d="M112.70,785.60 L114.60,868.60 L136.80,868.60 L137.20,785.60Z" fill="url(#redC)" filter="url(#bl06)"/>
<path d="M112.70,785.60 L114.60,868.60 L136.80,868.60 L137.20,785.60Z" fill="url(#vsh1b)" filter="url(#bl06)"/>
<path d="M112.70,785.60 L114.60,868.60 L136.80,868.60 L137.20,785.60Z" fill="url(#tubeH)" mask="url(#mk2b)"/>
<path d="M108.10,868.80 L109.00,871.10 L110.50,875.10 L111.20,888.60 L113.10,1136.30 L138.70,1136.30 L141.50,888.60 L142.30,875.10 L144.00,871.10 L145.10,868.80Z" fill="#0a0a0a" opacity="0.5" filter="url(#bl30)"/>
<path d="M110.60,868.80 L111.50,871.10 L113.00,875.10 L113.70,888.60 L115.60,1136.30 L136.20,1136.30 L139.00,888.60 L139.80,875.10 L141.50,871.10 L142.60,868.80Z" fill="#050505" opacity="0.95" filter="url(#bl10)"/>
<path d="M112.60,868.80 L113.50,871.10 L115.00,875.10 L115.70,888.60 L117.60,1136.30 L134.20,1136.30 L137.00,888.60 L137.80,875.10 L139.50,871.10 L140.60,868.80Z" fill="url(#redC)" filter="url(#bl06)"/>
<path d="M112.60,868.80 L113.50,871.10 L115.00,875.10 L115.70,888.60 L117.60,1136.30 L134.20,1136.30 L137.00,888.60 L137.80,875.10 L139.50,871.10 L140.60,868.80Z" fill="url(#vsh3)" filter="url(#bl06)"/>
<path d="M112.60,868.80 L113.50,871.10 L115.00,875.10 L115.70,888.60 L117.60,1136.30 L134.20,1136.30 L137.00,888.60 L137.80,875.10 L139.50,871.10 L140.60,868.80Z" fill="url(#tubeH)" mask="url(#mk3)"/>
<rect x="46.7" y="735.8" width="105.4" height="399.5" filter="url(#nz2)" style="mix-blend-mode:overlay" opacity="0.22"/>
</g>
<line x1="40.90" y1="735.80" x2="40.90" y2="1135.30" stroke="#8e8e8e" stroke-width="1.3"/>
<line x1="36.20" y1="735.80" x2="46.80" y2="735.80" stroke="#6a6a6a" stroke-width="1.1"/>
<line x1="36.20" y1="785.60" x2="46.80" y2="785.60" stroke="#6a6a6a" stroke-width="1.1"/>
<line x1="36.20" y1="868.60" x2="46.80" y2="868.60" stroke="#6a6a6a" stroke-width="1.1"/>
<line x1="36.20" y1="1135.30" x2="46.80" y2="1135.30" stroke="#6a6a6a" stroke-width="1.1"/>
<line x1="157.40" y1="735.80" x2="157.40" y2="1135.30" stroke="#707070" stroke-width="1.3"/>
<line x1="152.30" y1="735.80" x2="161.80" y2="735.80" stroke="#6a6a6a" stroke-width="1.1"/>
<line x1="152.30" y1="785.60" x2="161.80" y2="785.60" stroke="#6a6a6a" stroke-width="1.1"/>
<line x1="152.30" y1="868.60" x2="161.80" y2="868.60" stroke="#6a6a6a" stroke-width="1.1"/>
<line x1="152.30" y1="1135.30" x2="161.80" y2="1135.30" stroke="#6a6a6a" stroke-width="1.1"/>
<text x="35.30" y="765.10" font-size="12.5" fill="#111" text-anchor="end">1,760</text>
<text x="35.30" y="893.10" font-size="12.5" fill="#111" text-anchor="end">2,730</text>
<text x="35.30" y="1020.70" font-size="12.5" fill="#111" text-anchor="end">8,739</text>
<text x="99.2" y="1145.3" font-size="9.2" fill="#111" text-anchor="middle"><tspan font-style="italic">z</tspan>-score</text>
<rect x="61.70" y="1147.90" width="12.58" height="7.20" fill="#b0b0b0"/>
<rect x="74.23" y="1147.90" width="12.58" height="7.20" fill="#6a6a6a"/>
<rect x="86.77" y="1147.90" width="12.58" height="7.20" fill="#0c0c0c"/>
<rect x="99.30" y="1147.90" width="12.58" height="7.20" fill="#5a1a1e"/>
<rect x="111.83" y="1147.90" width="12.58" height="7.20" fill="#a4252c"/>
<rect x="124.37" y="1147.90" width="12.58" height="7.20" fill="#d42a30"/>
<rect x="61.7" y="1147.9" width="75.2" height="7.2" fill="none" stroke="#555" stroke-width="0.5"/>
<text x="62.80" y="1169.00" font-size="13.5" fill="#111" text-anchor="middle">–2.0</text>
<text x="99.60" y="1169.00" font-size="13.5" fill="#111" text-anchor="middle">0</text>
<text x="136.20" y="1169.00" font-size="13.5" fill="#111" text-anchor="middle">2.0</text>
<path d="M160.5,760.7 L181,760.7" stroke="#111" stroke-width="1.1" stroke-dasharray="3.2,2.3"/>
<path d="M180,757.6 L191,760.7 L180,763.8Z" fill="#111"/>
<path d="M159.5,825 L183,855.5" stroke="#111" stroke-width="1.1" stroke-dasharray="3.2,2.3"/>
<path d="M180.2,857.5 L190.2,864 L185.2,853.4Z" fill="#111"/>
<path d="M159.5,1011.7 L181,1027.5" stroke="#111" stroke-width="1.1" stroke-dasharray="3.2,2.3"/>
<path d="M178.5,1029.6 L190,1033.5 L182.4,1024.4Z" fill="#111"/>
<defs><path id="gA" d="M0.8564 1 0.7378 0.7076H0.2651L0.1458 1H0L0.4234 0H0.5832L1 1ZM0.5015 0.1022 0.4948 0.1221Q0.4764 0.181 0.4404 0.2732L0.3078 0.6018H0.6959L0.5626 0.2718Q0.542 0.2229 0.5214 0.1611Z" vector-effect="non-scaling-stroke"/><path id="gC" d="M0.5305 0.1076Q0.35 0.1076 0.2498 0.2114Q0.1496 0.3152 0.1496 0.4959Q0.1496 0.6745 0.254 0.7831Q0.3585 0.8917 0.5366 0.8917Q0.7648 0.8917 0.8797 0.6897L1 0.7434Q0.9329 0.869 0.8115 0.9345Q0.6901 1 0.5297 1Q0.3655 1 0.2456 0.939Q0.1257 0.8779 0.0628 0.7645Q0 0.651 0 0.4959Q0 0.2634 0.1403 0.1317Q0.2806 0 0.5289 0Q0.7024 0 0.8188 0.0607Q0.9352 0.1214 0.99 0.2407L0.8504 0.2821Q0.8126 0.1972 0.729 0.1524Q0.6453 0.1076 0.5305 0.1076Z" vector-effect="non-scaling-stroke"/><path id="gG" d="M0 0.4959Q0 0.2593 0.1376 0.1297Q0.2752 0 0.5243 0Q0.6993 0 0.8085 0.0545Q0.9177 0.109 0.9768 0.229L0.8407 0.2662Q0.7958 0.1834 0.7169 0.1455Q0.638 0.1076 0.5206 0.1076Q0.3381 0.1076 0.2416 0.2093Q0.1451 0.311 0.1451 0.4959Q0.1451 0.68 0.2476 0.7866Q0.35 0.8931 0.531 0.8931Q0.6343 0.8931 0.7236 0.8641Q0.813 0.8352 0.8684 0.7855V0.6103H0.5535V0.5H1V0.8352Q0.9162 0.9138 0.7947 0.9569Q0.6731 1 0.531 1Q0.3657 1 0.2461 0.9393Q0.1264 0.8786 0.0632 0.7645Q0 0.6503 0 0.4959Z" vector-effect="non-scaling-stroke"/><path id="gT" d="M0.582 0.1107V1H0.418V0.1107H0V0H1V0.1107Z" vector-effect="non-scaling-stroke"/></defs>
<text x="174.30" y="693.50" font-size="18.5" fill="#000" font-weight="bold">d</text>
<rect x="192.5" y="682.5" width="487.0" height="149.3" fill="none" stroke="#7c7c7c" stroke-width="1"/>
<rect x="192.5" y="834.6" width="473.8" height="152.7" fill="none" stroke="#7c7c7c" stroke-width="1"/>
<rect x="192.5" y="990.8" width="491.9" height="164.9" fill="none" stroke="#7c7c7c" stroke-width="1"/>
<text transform="translate(200.6,722.0) rotate(-90)" font-size="6.5" fill="#222" text-anchor="middle">Information</text>
<text transform="translate(208.2,722.0) rotate(-90)" font-size="6.5" fill="#222" text-anchor="middle">content</text>
<text transform="translate(200.6,796.0) rotate(-90)" font-size="6.5" fill="#222" text-anchor="middle">Information</text>
<text transform="translate(208.2,796.0) rotate(-90)" font-size="6.5" fill="#222" text-anchor="middle">content</text>
<text transform="translate(200.6,874.0) rotate(-90)" font-size="6.5" fill="#222" text-anchor="middle">Information</text>
<text transform="translate(208.2,874.0) rotate(-90)" font-size="6.5" fill="#222" text-anchor="middle">content</text>
<text transform="translate(200.6,952.5) rotate(-90)" font-size="6.5" fill="#222" text-anchor="middle">Information</text>
<text transform="translate(208.2,952.5) rotate(-90)" font-size="6.5" fill="#222" text-anchor="middle">content</text>
<text transform="translate(200.6,1049.0) rotate(-90)" font-size="6.5" fill="#222" text-anchor="middle">Information</text>
<text transform="translate(208.2,1049.0) rotate(-90)" font-size="6.5" fill="#222" text-anchor="middle">content</text>
<text transform="translate(200.6,1123.0) rotate(-90)" font-size="6.5" fill="#222" text-anchor="middle">Information</text>
<text transform="translate(208.2,1123.0) rotate(-90)" font-size="6.5" fill="#222" text-anchor="middle">content</text>
<text x="226.40" y="692.30" font-size="7.3" fill="#222">E-box-GATA (<tspan font-style="italic">P</tspan>=6.4e–06)</text>
<text x="226.40" y="701.10" font-size="6.6" fill="#d8434a">(1,123/1,506)</text>
<line x1="223.70" y1="703.90" x2="223.70" y2="739.80" stroke="#111" stroke-width="1.1"/>
<line x1="221.50" y1="739.40" x2="223.70" y2="739.40" stroke="#111" stroke-width="0.7"/>
<text x="220.90" y="741.20" font-size="5.0" fill="#222" text-anchor="end">0</text>
<line x1="221.50" y1="730.62" x2="223.70" y2="730.62" stroke="#111" stroke-width="0.7"/>
<text x="220.90" y="732.42" font-size="5.0" fill="#222" text-anchor="end">0.5</text>
<line x1="221.50" y1="721.85" x2="223.70" y2="721.85" stroke="#111" stroke-width="0.7"/>
<text x="220.90" y="723.65" font-size="5.0" fill="#222" text-anchor="end">1</text>
<line x1="221.50" y1="713.07" x2="223.70" y2="713.07" stroke="#111" stroke-width="0.7"/>
<text x="220.90" y="714.87" font-size="5.0" fill="#222" text-anchor="end">1.5</text>
<line x1="221.50" y1="704.30" x2="223.70" y2="704.30" stroke="#111" stroke-width="0.7"/>
<text x="220.90" y="706.10" font-size="5.0" fill="#222" text-anchor="end">2</text>
<line x1="231.20" y1="741.40" x2="335.58" y2="741.40" stroke="#111" stroke-width="1.1"/>
<line x1="231.90" y1="741.40" x2="231.90" y2="743.40" stroke="#111" stroke-width="0.7"/>
<text x="231.90" y="749.40" font-size="5.0" fill="#222" text-anchor="middle">1</text>
<line x1="237.32" y1="741.40" x2="237.32" y2="743.40" stroke="#111" stroke-width="0.7"/>
<text x="237.32" y="749.40" font-size="5.0" fill="#222" text-anchor="middle">2</text>
<line x1="242.74" y1="741.40" x2="242.74" y2="743.40" stroke="#111" stroke-width="0.7"/>
<text x="242.74" y="749.40" font-size="5.0" fill="#222" text-anchor="middle">3</text>
<line x1="248.16" y1="741.40" x2="248.16" y2="743.40" stroke="#111" stroke-width="0.7"/>
<text x="248.16" y="749.40" font-size="5.0" fill="#222" text-anchor="middle">4</text>
<line x1="253.58" y1="741.40" x2="253.58" y2="743.40" stroke="#111" stroke-width="0.7"/>
<text x="253.58" y="749.40" font-size="5.0" fill="#222" text-anchor="middle">5</text>
<line x1="259.00" y1="741.40" x2="259.00" y2="743.40" stroke="#111" stroke-width="0.7"/>
<text x="259.00" y="749.40" font-size="5.0" fill="#222" text-anchor="middle">6</text>
<line x1="264.42" y1="741.40" x2="264.42" y2="743.40" stroke="#111" stroke-width="0.7"/>
<text x="264.42" y="749.40" font-size="5.0" fill="#222" text-anchor="middle">7</text>
<line x1="269.84" y1="741.40" x2="269.84" y2="743.40" stroke="#111" stroke-width="0.7"/>
<text x="269.84" y="749.40" font-size="5.0" fill="#222" text-anchor="middle">8</text>
<line x1="275.26" y1="741.40" x2="275.26" y2="743.40" stroke="#111" stroke-width="0.7"/>
<text x="275.26" y="749.40" font-size="5.0" fill="#222" text-anchor="middle">9</text>
<line x1="280.68" y1="741.40" x2="280.68" y2="743.40" stroke="#111" stroke-width="0.7"/>
<text x="280.68" y="749.40" font-size="5.0" fill="#222" text-anchor="middle">10</text>
<line x1="286.10" y1="741.40" x2="286.10" y2="743.40" stroke="#111" stroke-width="0.7"/>
<text x="286.10" y="749.40" font-size="5.0" fill="#222" text-anchor="middle">11</text>
<line x1="291.52" y1="741.40" x2="291.52" y2="743.40" stroke="#111" stroke-width="0.7"/>
<text x="291.52" y="749.40" font-size="5.0" fill="#222" text-anchor="middle">12</text>
<line x1="296.94" y1="741.40" x2="296.94" y2="743.40" stroke="#111" stroke-width="0.7"/>
<text x="296.94" y="749.40" font-size="5.0" fill="#222" text-anchor="middle">13</text>
<line x1="302.36" y1="741.40" x2="302.36" y2="743.40" stroke="#111" stroke-width="0.7"/>
<text x="302.36" y="749.40" font-size="5.0" fill="#222" text-anchor="middle">14</text>
<line x1="307.78" y1="741.40" x2="307.78" y2="743.40" stroke="#111" stroke-width="0.7"/>
<text x="307.78" y="749.40" font-size="5.0" fill="#222" text-anchor="middle">15</text>
<line x1="313.20" y1="741.40" x2="313.20" y2="743.40" stroke="#111" stroke-width="0.7"/>
<text x="313.20" y="749.40" font-size="5.0" fill="#222" text-anchor="middle">16</text>
<line x1="318.62" y1="741.40" x2="318.62" y2="743.40" stroke="#111" stroke-width="0.7"/>
<text x="318.62" y="749.40" font-size="5.0" fill="#222" text-anchor="middle">17</text>
<line x1="324.04" y1="741.40" x2="324.04" y2="743.40" stroke="#111" stroke-width="0.7"/>
<text x="324.04" y="749.40" font-size="5.0" fill="#222" text-anchor="middle">18</text>
<line x1="329.46" y1="741.40" x2="329.46" y2="743.40" stroke="#111" stroke-width="0.7"/>
<text x="329.46" y="749.40" font-size="5.0" fill="#222" text-anchor="middle">19</text>
<line x1="334.88" y1="741.40" x2="334.88" y2="743.40" stroke="#111" stroke-width="0.7"/>
<text x="334.88" y="749.40" font-size="5.0" fill="#222" text-anchor="middle">20</text>
<use href="#gG" fill="#e6a236" stroke="#e6a236" stroke-width="0.22" transform="translate(229.41,738.63) scale(4.98,0.66)"/>
<use href="#gA" fill="#6aaf46" stroke="#6aaf46" stroke-width="0.22" transform="translate(229.41,737.75) scale(4.98,0.66)"/>
<use href="#gA" fill="#6aaf46" stroke="#6aaf46" stroke-width="0.22" transform="translate(234.83,738.63) scale(4.98,0.66)"/>
<use href="#gG" fill="#e6a236" stroke="#e6a236" stroke-width="0.22" transform="translate(234.83,737.75) scale(4.98,0.66)"/>
<use href="#gA" fill="#6aaf46" stroke="#6aaf46" stroke-width="0.22" transform="translate(240.25,738.63) scale(4.98,0.66)"/>
<use href="#gG" fill="#e6a236" stroke="#e6a236" stroke-width="0.26" transform="translate(240.27,737.60) scale(4.94,0.79)"/>
<use href="#gC" fill="#2c3a96" stroke="#2c3a96" stroke-width="0.62" transform="translate(240.45,734.27) scale(4.58,2.89)"/>
<use href="#gA" fill="#6aaf46" stroke="#6aaf46" stroke-width="0.53" transform="translate(245.82,737.56) scale(4.68,1.58)"/>
<use href="#gT" fill="#cf2c33" stroke="#cf2c33" stroke-width="0.62" transform="translate(245.87,724.97) scale(4.58,12.01)"/>
<use href="#gT" fill="#cf2c33" stroke="#cf2c33" stroke-width="0.62" transform="translate(251.29,737.08) scale(4.58,2.01)"/>
<use href="#gG" fill="#e6a236" stroke="#e6a236" stroke-width="0.62" transform="translate(251.29,720.41) scale(4.58,16.05)"/>
<use href="#gA" fill="#6aaf46" stroke="#6aaf46" stroke-width="0.26" transform="translate(256.53,738.48) scale(4.94,0.79)"/>
<use href="#gG" fill="#e6a236" stroke="#e6a236" stroke-width="0.35" transform="translate(256.57,737.12) scale(4.85,1.05)"/>
<use href="#gC" fill="#2c3a96" stroke="#2c3a96" stroke-width="0.22" transform="translate(261.93,738.63) scale(4.98,0.66)"/>
<use href="#gG" fill="#e6a236" stroke="#e6a236" stroke-width="0.26" transform="translate(261.95,737.60) scale(4.94,0.79)"/>
<use href="#gA" fill="#6aaf46" stroke="#6aaf46" stroke-width="0.19" transform="translate(267.33,738.72) scale(5.01,0.58)"/>
<use href="#gC" fill="#2c3a96" stroke="#2c3a96" stroke-width="0.21" transform="translate(267.34,737.89) scale(4.99,0.63)"/>
<use href="#gT" fill="#cf2c33" stroke="#cf2c33" stroke-width="0.18" transform="translate(267.33,737.14) scale(5.02,0.55)"/>
<use href="#gG" fill="#e6a236" stroke="#e6a236" stroke-width="0.17" transform="translate(272.74,738.80) scale(5.03,0.51)"/>
<use href="#gT" fill="#cf2c33" stroke="#cf2c33" stroke-width="0.21" transform="translate(272.76,737.99) scale(5.00,0.62)"/>
<use href="#gC" fill="#2c3a96" stroke="#2c3a96" stroke-width="0.10" transform="translate(272.71,737.54) scale(5.10,0.30)"/>
<use href="#gG" fill="#e6a236" stroke="#e6a236" stroke-width="0.16" transform="translate(278.16,738.85) scale(5.05,0.47)"/>
<use href="#gC" fill="#2c3a96" stroke="#2c3a96" stroke-width="0.16" transform="translate(278.16,738.20) scale(5.04,0.49)"/>
<use href="#gA" fill="#6aaf46" stroke="#6aaf46" stroke-width="0.09" transform="translate(278.12,737.81) scale(5.12,0.26)"/>
<use href="#gG" fill="#e6a236" stroke="#e6a236" stroke-width="0.18" transform="translate(283.59,738.79) scale(5.03,0.53)"/>
<use href="#gC" fill="#2c3a96" stroke="#2c3a96" stroke-width="0.22" transform="translate(283.61,737.93) scale(4.98,0.66)"/>
<use href="#gA" fill="#6aaf46" stroke="#6aaf46" stroke-width="0.22" transform="translate(289.03,738.63) scale(4.98,0.66)"/>
<use href="#gC" fill="#2c3a96" stroke="#2c3a96" stroke-width="0.35" transform="translate(289.09,737.29) scale(4.85,1.05)"/>
<use href="#gC" fill="#2c3a96" stroke="#2c3a96" stroke-width="0.26" transform="translate(294.47,738.48) scale(4.94,0.79)"/>
<use href="#gG" fill="#e6a236" stroke="#e6a236" stroke-width="0.35" transform="translate(294.51,737.12) scale(4.85,1.05)"/>
<use href="#gT" fill="#cf2c33" stroke="#cf2c33" stroke-width="0.62" transform="translate(300.07,735.85) scale(4.58,3.24)"/>
<use href="#gA" fill="#6aaf46" stroke="#6aaf46" stroke-width="0.62" transform="translate(300.07,724.97) scale(4.58,10.26)"/>
<use href="#gA" fill="#6aaf46" stroke="#6aaf46" stroke-width="0.26" transform="translate(305.31,738.48) scale(4.94,0.79)"/>
<use href="#gG" fill="#e6a236" stroke="#e6a236" stroke-width="0.62" transform="translate(305.49,707.42) scale(4.58,30.61)"/>
<use href="#gG" fill="#e6a236" stroke="#e6a236" stroke-width="0.22" transform="translate(310.71,738.63) scale(4.98,0.66)"/>
<use href="#gA" fill="#6aaf46" stroke="#6aaf46" stroke-width="0.62" transform="translate(310.91,713.39) scale(4.58,24.82)"/>
<use href="#gA" fill="#6aaf46" stroke="#6aaf46" stroke-width="0.35" transform="translate(316.19,738.17) scale(4.85,1.05)"/>
<use href="#gT" fill="#cf2c33" stroke="#cf2c33" stroke-width="0.62" transform="translate(316.33,712.33) scale(4.58,25.35)"/>
<use href="#gC" fill="#2c3a96" stroke="#2c3a96" stroke-width="0.35" transform="translate(321.61,738.17) scale(4.85,1.05)"/>
<use href="#gA" fill="#6aaf46" stroke="#6aaf46" stroke-width="0.62" transform="translate(321.75,720.76) scale(4.58,16.93)"/>
<use href="#gC" fill="#2c3a96" stroke="#2c3a96" stroke-width="0.35" transform="translate(327.03,738.17) scale(4.85,1.05)"/>
<use href="#gG" fill="#e6a236" stroke="#e6a236" stroke-width="0.44" transform="translate(327.08,736.46) scale(4.76,1.32)"/>
<use href="#gA" fill="#6aaf46" stroke="#6aaf46" stroke-width="0.62" transform="translate(327.17,723.92) scale(4.58,12.01)"/>
<use href="#gC" fill="#2c3a96" stroke="#2c3a96" stroke-width="0.35" transform="translate(332.45,738.17) scale(4.85,1.05)"/>
<use href="#gA" fill="#6aaf46" stroke="#6aaf46" stroke-width="0.35" transform="translate(332.45,736.77) scale(4.85,1.05)"/>
<use href="#gG" fill="#e6a236" stroke="#e6a236" stroke-width="0.62" transform="translate(332.59,733.75) scale(4.58,2.53)"/>
<text x="371.00" y="694.40" font-size="7.3" fill="#222">E-box-GATA (<tspan font-style="italic">P</tspan>=6.1e–06)</text>
<text x="371.00" y="702.40" font-size="6.6" fill="#d8434a">(195/1,506)</text>
<line x1="373.60" y1="702.80" x2="373.60" y2="739.40" stroke="#111" stroke-width="1.1"/>
<line x1="371.40" y1="739.00" x2="373.60" y2="739.00" stroke="#111" stroke-width="0.7"/>
<text x="370.80" y="740.80" font-size="5.0" fill="#222" text-anchor="end">0</text>
<line x1="371.40" y1="730.05" x2="373.60" y2="730.05" stroke="#111" stroke-width="0.7"/>
<text x="370.80" y="731.85" font-size="5.0" fill="#222" text-anchor="end">0.5</text>
<line x1="371.40" y1="721.10" x2="373.60" y2="721.10" stroke="#111" stroke-width="0.7"/>
<text x="370.80" y="722.90" font-size="5.0" fill="#222" text-anchor="end">1</text>
<line x1="371.40" y1="712.15" x2="373.60" y2="712.15" stroke="#111" stroke-width="0.7"/>
<text x="370.80" y="713.95" font-size="5.0" fill="#222" text-anchor="end">1.5</text>
<line x1="371.40" y1="703.20" x2="373.60" y2="703.20" stroke="#111" stroke-width="0.7"/>
<text x="370.80" y="705.00" font-size="5.0" fill="#222" text-anchor="end">2</text>
<line x1="378.20" y1="741.00" x2="492.65" y2="741.00" stroke="#111" stroke-width="1.1"/>
<line x1="378.90" y1="741.00" x2="378.90" y2="743.00" stroke="#111" stroke-width="0.7"/>
<text x="378.90" y="749.00" font-size="5.0" fill="#222" text-anchor="middle">1</text>
<line x1="384.85" y1="741.00" x2="384.85" y2="743.00" stroke="#111" stroke-width="0.7"/>
<text x="384.85" y="749.00" font-size="5.0" fill="#222" text-anchor="middle">2</text>
<line x1="390.80" y1="741.00" x2="390.80" y2="743.00" stroke="#111" stroke-width="0.7"/>
<text x="390.80" y="749.00" font-size="5.0" fill="#222" text-anchor="middle">3</text>
<line x1="396.75" y1="741.00" x2="396.75" y2="743.00" stroke="#111" stroke-width="0.7"/>
<text x="396.75" y="749.00" font-size="5.0" fill="#222" text-anchor="middle">4</text>
<line x1="402.70" y1="741.00" x2="402.70" y2="743.00" stroke="#111" stroke-width="0.7"/>
<text x="402.70" y="749.00" font-size="5.0" fill="#222" text-anchor="middle">5</text>
<line x1="408.65" y1="741.00" x2="408.65" y2="743.00" stroke="#111" stroke-width="0.7"/>
<text x="408.65" y="749.00" font-size="5.0" fill="#222" text-anchor="middle">6</text>
<line x1="414.60" y1="741.00" x2="414.60" y2="743.00" stroke="#111" stroke-width="0.7"/>
<text x="414.60" y="749.00" font-size="5.0" fill="#222" text-anchor="middle">7</text>
<line x1="420.55" y1="741.00" x2="420.55" y2="743.00" stroke="#111" stroke-width="0.7"/>
<text x="420.55" y="749.00" font-size="5.0" fill="#222" text-anchor="middle">8</text>
<line x1="426.50" y1="741.00" x2="426.50" y2="743.00" stroke="#111" stroke-width="0.7"/>
<text x="426.50" y="749.00" font-size="5.0" fill="#222" text-anchor="middle">9</text>
<line x1="432.45" y1="741.00" x2="432.45" y2="743.00" stroke="#111" stroke-width="0.7"/>
<text x="432.45" y="749.00" font-size="5.0" fill="#222" text-anchor="middle">10</text>
<line x1="438.40" y1="741.00" x2="438.40" y2="743.00" stroke="#111" stroke-width="0.7"/>
<text x="438.40" y="749.00" font-size="5.0" fill="#222" text-anchor="middle">11</text>
<line x1="444.35" y1="741.00" x2="444.35" y2="743.00" stroke="#111" stroke-width="0.7"/>
<text x="444.35" y="749.00" font-size="5.0" fill="#222" text-anchor="middle">12</text>
<line x1="450.30" y1="741.00" x2="450.30" y2="743.00" stroke="#111" stroke-width="0.7"/>
<text x="450.30" y="749.00" font-size="5.0" fill="#222" text-anchor="middle">13</text>
<line x1="456.25" y1="741.00" x2="456.25" y2="743.00" stroke="#111" stroke-width="0.7"/>
<text x="456.25" y="749.00" font-size="5.0" fill="#222" text-anchor="middle">14</text>
<line x1="462.20" y1="741.00" x2="462.20" y2="743.00" stroke="#111" stroke-width="0.7"/>
<text x="462.20" y="749.00" font-size="5.0" fill="#222" text-anchor="middle">15</text>
<line x1="468.15" y1="741.00" x2="468.15" y2="743.00" stroke="#111" stroke-width="0.7"/>
<text x="468.15" y="749.00" font-size="5.0" fill="#222" text-anchor="middle">16</text>
<line x1="474.10" y1="741.00" x2="474.10" y2="743.00" stroke="#111" stroke-width="0.7"/>
<text x="474.10" y="749.00" font-size="5.0" fill="#222" text-anchor="middle">17</text>
<line x1="480.05" y1="741.00" x2="480.05" y2="743.00" stroke="#111" stroke-width="0.7"/>
<text x="480.05" y="749.00" font-size="5.0" fill="#222" text-anchor="middle">18</text>
<line x1="486.00" y1="741.00" x2="486.00" y2="743.00" stroke="#111" stroke-width="0.7"/>
<text x="486.00" y="749.00" font-size="5.0" fill="#222" text-anchor="middle">19</text>
<line x1="491.95" y1="741.00" x2="491.95" y2="743.00" stroke="#111" stroke-width="0.7"/>
<text x="491.95" y="749.00" font-size="5.0" fill="#222" text-anchor="middle">20</text>
<use href="#gT" fill="#cf2c33" stroke="#cf2c33" stroke-width="0.22" transform="translate(376.16,738.22) scale(5.49,0.67)"/>
<use href="#gA" fill="#6aaf46" stroke="#6aaf46" stroke-width="0.54" transform="translate(376.31,736.23) scale(5.18,1.61)"/>
<use href="#gG" fill="#e6a236" stroke="#e6a236" stroke-width="0.36" transform="translate(382.17,737.75) scale(5.35,1.07)"/>
<use href="#gA" fill="#6aaf46" stroke="#6aaf46" stroke-width="0.63" transform="translate(382.31,735.38) scale(5.09,1.88)"/>
<use href="#gC" fill="#2c3a96" stroke="#2c3a96" stroke-width="0.69" transform="translate(382.34,719.65) scale(5.03,15.07)"/>
<use href="#gA" fill="#6aaf46" stroke="#6aaf46" stroke-width="0.69" transform="translate(388.29,735.76) scale(5.03,2.89)"/>
<use href="#gT" fill="#cf2c33" stroke="#cf2c33" stroke-width="0.69" transform="translate(388.29,716.97) scale(5.03,18.11)"/>
<use href="#gT" fill="#cf2c33" stroke="#cf2c33" stroke-width="0.45" transform="translate(394.12,737.43) scale(5.26,1.34)"/>
<use href="#gG" fill="#e6a236" stroke="#e6a236" stroke-width="0.69" transform="translate(394.24,714.28) scale(5.03,22.58)"/>
<use href="#gC" fill="#2c3a96" stroke="#2c3a96" stroke-width="0.36" transform="translate(400.02,737.75) scale(5.35,1.07)"/>
<use href="#gA" fill="#6aaf46" stroke="#6aaf46" stroke-width="0.45" transform="translate(400.07,736.00) scale(5.26,1.34)"/>
<use href="#gA" fill="#6aaf46" stroke="#6aaf46" stroke-width="0.36" transform="translate(405.97,737.75) scale(5.35,1.07)"/>
<use href="#gG" fill="#e6a236" stroke="#e6a236" stroke-width="0.27" transform="translate(405.93,736.63) scale(5.44,0.81)"/>
<use href="#gA" fill="#6aaf46" stroke="#6aaf46" stroke-width="0.11" transform="translate(411.80,738.61) scale(5.60,0.34)"/>
<use href="#gG" fill="#e6a236" stroke="#e6a236" stroke-width="0.21" transform="translate(411.85,737.83) scale(5.51,0.62)"/>
<use href="#gT" fill="#cf2c33" stroke="#cf2c33" stroke-width="0.14" transform="translate(411.82,737.23) scale(5.57,0.43)"/>
<use href="#gG" fill="#e6a236" stroke="#e6a236" stroke-width="0.11" transform="translate(417.75,738.62) scale(5.60,0.32)"/>
<use href="#gC" fill="#2c3a96" stroke="#2c3a96" stroke-width="0.09" transform="translate(417.74,738.26) scale(5.62,0.27)"/>
<use href="#gT" fill="#cf2c33" stroke="#cf2c33" stroke-width="0.21" transform="translate(417.80,737.49) scale(5.51,0.62)"/>
<use href="#gT" fill="#cf2c33" stroke="#cf2c33" stroke-width="0.21" transform="translate(423.75,738.28) scale(5.51,0.62)"/>
<use href="#gG" fill="#e6a236" stroke="#e6a236" stroke-width="0.13" transform="translate(423.71,737.72) scale(5.58,0.39)"/>
<use href="#gA" fill="#6aaf46" stroke="#6aaf46" stroke-width="0.22" transform="translate(423.75,736.89) scale(5.49,0.66)"/>
<use href="#gT" fill="#cf2c33" stroke="#cf2c33" stroke-width="0.22" transform="translate(429.70,738.23) scale(5.49,0.66)"/>
<use href="#gG" fill="#e6a236" stroke="#e6a236" stroke-width="0.21" transform="translate(429.70,737.39) scale(5.50,0.63)"/>
<use href="#gA" fill="#6aaf46" stroke="#6aaf46" stroke-width="0.13" transform="translate(429.66,736.83) scale(5.58,0.39)"/>
<use href="#gC" fill="#2c3a96" stroke="#2c3a96" stroke-width="0.27" transform="translate(435.68,738.06) scale(5.44,0.81)"/>
<use href="#gA" fill="#6aaf46" stroke="#6aaf46" stroke-width="0.45" transform="translate(435.77,736.36) scale(5.26,1.34)"/>
<use href="#gT" fill="#cf2c33" stroke="#cf2c33" stroke-width="0.69" transform="translate(441.84,734.87) scale(5.03,3.79)"/>
<use href="#gA" fill="#6aaf46" stroke="#6aaf46" stroke-width="0.69" transform="translate(441.84,725.02) scale(5.03,9.16)"/>
<use href="#gA" fill="#6aaf46" stroke="#6aaf46" stroke-width="0.22" transform="translate(447.56,738.22) scale(5.49,0.67)"/>
<use href="#gG" fill="#e6a236" stroke="#e6a236" stroke-width="0.69" transform="translate(447.79,706.59) scale(5.03,31.18)"/>
<use href="#gG" fill="#e6a236" stroke="#e6a236" stroke-width="0.22" transform="translate(453.51,738.22) scale(5.49,0.67)"/>
<use href="#gA" fill="#6aaf46" stroke="#6aaf46" stroke-width="0.69" transform="translate(453.74,709.81) scale(5.03,27.95)"/>
<use href="#gA" fill="#6aaf46" stroke="#6aaf46" stroke-width="0.22" transform="translate(459.46,738.22) scale(5.49,0.67)"/>
<use href="#gT" fill="#cf2c33" stroke="#cf2c33" stroke-width="0.69" transform="translate(459.69,706.59) scale(5.03,31.18)"/>
<use href="#gC" fill="#2c3a96" stroke="#2c3a96" stroke-width="0.45" transform="translate(465.52,737.43) scale(5.26,1.34)"/>
<use href="#gA" fill="#6aaf46" stroke="#6aaf46" stroke-width="0.69" transform="translate(465.64,717.86) scale(5.03,19.00)"/>
<use href="#gC" fill="#2c3a96" stroke="#2c3a96" stroke-width="0.27" transform="translate(471.38,738.06) scale(5.44,0.81)"/>
<use href="#gG" fill="#e6a236" stroke="#e6a236" stroke-width="0.45" transform="translate(471.47,736.36) scale(5.26,1.34)"/>
<use href="#gA" fill="#6aaf46" stroke="#6aaf46" stroke-width="0.69" transform="translate(471.59,719.47) scale(5.03,16.32)"/>
<use href="#gA" fill="#6aaf46" stroke="#6aaf46" stroke-width="0.36" transform="translate(477.37,737.75) scale(5.35,1.07)"/>
<use href="#gG" fill="#e6a236" stroke="#e6a236" stroke-width="0.45" transform="translate(477.42,736.00) scale(5.26,1.34)"/>
<use href="#gC" fill="#2c3a96" stroke="#2c3a96" stroke-width="0.27" transform="translate(483.28,738.06) scale(5.44,0.81)"/>
<use href="#gG" fill="#e6a236" stroke="#e6a236" stroke-width="0.36" transform="translate(483.32,736.67) scale(5.35,1.07)"/>
<use href="#gA" fill="#6aaf46" stroke="#6aaf46" stroke-width="0.27" transform="translate(489.23,738.06) scale(5.44,0.81)"/>
<use href="#gG" fill="#e6a236" stroke="#e6a236" stroke-width="0.27" transform="translate(489.23,736.99) scale(5.44,0.81)"/>
<text x="524.70" y="693.90" font-size="7.3" fill="#222">ZNF263/Zfp281/Zfp740</text>
<text x="524.70" y="703.50" font-size="7.3" fill="#222">SP2/EGR1/E2F3 (<tspan font-style="italic">P</tspan>&lt;5.1e–05)</text>
<text x="524.70" y="713.10" font-size="6.6" fill="#d8434a">(393/1,506)</text>
<line x1="520.20" y1="703.50" x2="520.20" y2="739.80" stroke="#111" stroke-width="1.1"/>
<line x1="518.00" y1="739.40" x2="520.20" y2="739.40" stroke="#111" stroke-width="0.7"/>
<text x="517.40" y="741.20" font-size="5.0" fill="#222" text-anchor="end">0</text>
<line x1="518.00" y1="730.52" x2="520.20" y2="730.52" stroke="#111" stroke-width="0.7"/>
<text x="517.40" y="732.32" font-size="5.0" fill="#222" text-anchor="end">0.5</text>
<line x1="518.00" y1="721.65" x2="520.20" y2="721.65" stroke="#111" stroke-width="0.7"/>
<text x="517.40" y="723.45" font-size="5.0" fill="#222" text-anchor="end">1</text>
<line x1="518.00" y1="712.77" x2="520.20" y2="712.77" stroke="#111" stroke-width="0.7"/>
<text x="517.40" y="714.57" font-size="5.0" fill="#222" text-anchor="end">1.5</text>
<line x1="518.00" y1="703.90" x2="520.20" y2="703.90" stroke="#111" stroke-width="0.7"/>
<text x="517.40" y="705.70" font-size="5.0" fill="#222" text-anchor="end">2</text>
<line x1="527.90" y1="741.40" x2="633.04" y2="741.40" stroke="#111" stroke-width="1.1"/>
<line x1="528.60" y1="741.40" x2="528.60" y2="743.40" stroke="#111" stroke-width="0.7"/>
<text x="528.60" y="749.40" font-size="5.0" fill="#222" text-anchor="middle">1</text>
<line x1="533.54" y1="741.40" x2="533.54" y2="743.40" stroke="#111" stroke-width="0.7"/>
<line x1="538.48" y1="741.40" x2="538.48" y2="743.40" stroke="#111" stroke-width="0.7"/>
<text x="538.48" y="749.40" font-size="5.0" fill="#222" text-anchor="middle">3</text>
<line x1="543.42" y1="741.40" x2="543.42" y2="743.40" stroke="#111" stroke-width="0.7"/>
<line x1="548.36" y1="741.40" x2="548.36" y2="743.40" stroke="#111" stroke-width="0.7"/>
<text x="548.36" y="749.40" font-size="5.0" fill="#222" text-anchor="middle">5</text>
<line x1="553.30" y1="741.40" x2="553.30" y2="743.40" stroke="#111" stroke-width="0.7"/>
<line x1="558.24" y1="741.40" x2="558.24" y2="743.40" stroke="#111" stroke-width="0.7"/>
<text x="558.24" y="749.40" font-size="5.0" fill="#222" text-anchor="middle">7</text>
<line x1="563.18" y1="741.40" x2="563.18" y2="743.40" stroke="#111" stroke-width="0.7"/>
<line x1="568.12" y1="741.40" x2="568.12" y2="743.40" stroke="#111" stroke-width="0.7"/>
<text x="568.12" y="749.40" font-size="5.0" fill="#222" text-anchor="middle">9</text>
<line x1="573.06" y1="741.40" x2="573.06" y2="743.40" stroke="#111" stroke-width="0.7"/>
<line x1="578.00" y1="741.40" x2="578.00" y2="743.40" stroke="#111" stroke-width="0.7"/>
<text x="578.00" y="749.40" font-size="5.0" fill="#222" text-anchor="middle">11</text>
<line x1="582.94" y1="741.40" x2="582.94" y2="743.40" stroke="#111" stroke-width="0.7"/>
<line x1="587.88" y1="741.40" x2="587.88" y2="743.40" stroke="#111" stroke-width="0.7"/>
<text x="587.88" y="749.40" font-size="5.0" fill="#222" text-anchor="middle">13</text>
<line x1="592.82" y1="741.40" x2="592.82" y2="743.40" stroke="#111" stroke-width="0.7"/>
<line x1="597.76" y1="741.40" x2="597.76" y2="743.40" stroke="#111" stroke-width="0.7"/>
<text x="597.76" y="749.40" font-size="5.0" fill="#222" text-anchor="middle">15</text>
<line x1="602.70" y1="741.40" x2="602.70" y2="743.40" stroke="#111" stroke-width="0.7"/>
<line x1="607.64" y1="741.40" x2="607.64" y2="743.40" stroke="#111" stroke-width="0.7"/>
<text x="607.64" y="749.40" font-size="5.0" fill="#222" text-anchor="middle">17</text>
<line x1="612.58" y1="741.40" x2="612.58" y2="743.40" stroke="#111" stroke-width="0.7"/>
<line x1="617.52" y1="741.40" x2="617.52" y2="743.40" stroke="#111" stroke-width="0.7"/>
<text x="617.52" y="749.40" font-size="5.0" fill="#222" text-anchor="middle">19</text>
<line x1="622.46" y1="741.40" x2="622.46" y2="743.40" stroke="#111" stroke-width="0.7"/>
<line x1="627.40" y1="741.40" x2="627.40" y2="743.40" stroke="#111" stroke-width="0.7"/>
<text x="627.40" y="749.40" font-size="5.0" fill="#222" text-anchor="middle">21</text>
<line x1="632.34" y1="741.40" x2="632.34" y2="743.40" stroke="#111" stroke-width="0.7"/>
<use href="#gA" fill="#6aaf46" stroke="#6aaf46" stroke-width="0.22" transform="translate(526.34,738.62) scale(4.52,0.67)"/>
<use href="#gC" fill="#2c3a96" stroke="#2c3a96" stroke-width="0.22" transform="translate(526.34,737.74) scale(4.52,0.67)"/>
<use href="#gG" fill="#e6a236" stroke="#e6a236" stroke-width="0.53" transform="translate(526.50,735.76) scale(4.21,1.60)"/>
<use href="#gA" fill="#6aaf46" stroke="#6aaf46" stroke-width="0.27" transform="translate(531.30,738.47) scale(4.48,0.80)"/>
<use href="#gC" fill="#2c3a96" stroke="#2c3a96" stroke-width="0.27" transform="translate(531.30,737.40) scale(4.48,0.80)"/>
<use href="#gG" fill="#e6a236" stroke="#e6a236" stroke-width="0.57" transform="translate(531.45,735.07) scale(4.17,1.92)"/>
<use href="#gA" fill="#6aaf46" stroke="#6aaf46" stroke-width="0.35" transform="translate(536.29,738.16) scale(4.39,1.06)"/>
<use href="#gC" fill="#2c3a96" stroke="#2c3a96" stroke-width="0.27" transform="translate(536.24,737.05) scale(4.48,0.80)"/>
<use href="#gG" fill="#e6a236" stroke="#e6a236" stroke-width="0.57" transform="translate(536.39,730.99) scale(4.17,5.64)"/>
<use href="#gA" fill="#6aaf46" stroke="#6aaf46" stroke-width="0.35" transform="translate(541.23,738.16) scale(4.39,1.06)"/>
<use href="#gC" fill="#2c3a96" stroke="#2c3a96" stroke-width="0.27" transform="translate(541.18,737.05) scale(4.48,0.80)"/>
<use href="#gG" fill="#e6a236" stroke="#e6a236" stroke-width="0.57" transform="translate(541.33,733.65) scale(4.17,2.98)"/>
<use href="#gA" fill="#6aaf46" stroke="#6aaf46" stroke-width="0.44" transform="translate(546.21,737.85) scale(4.30,1.33)"/>
<use href="#gC" fill="#2c3a96" stroke="#2c3a96" stroke-width="0.27" transform="translate(546.12,736.69) scale(4.48,0.80)"/>
<use href="#gG" fill="#e6a236" stroke="#e6a236" stroke-width="0.57" transform="translate(546.27,730.63) scale(4.17,5.64)"/>
<use href="#gA" fill="#6aaf46" stroke="#6aaf46" stroke-width="0.35" transform="translate(551.11,738.16) scale(4.39,1.06)"/>
<use href="#gG" fill="#e6a236" stroke="#e6a236" stroke-width="0.57" transform="translate(551.21,731.16) scale(4.17,6.53)"/>
<use href="#gT" fill="#cf2c33" stroke="#cf2c33" stroke-width="0.57" transform="translate(556.15,735.25) scale(4.17,3.87)"/>
<use href="#gA" fill="#6aaf46" stroke="#6aaf46" stroke-width="0.57" transform="translate(556.15,727.26) scale(4.17,7.42)"/>
<use href="#gT" fill="#cf2c33" stroke="#cf2c33" stroke-width="0.44" transform="translate(561.03,737.85) scale(4.30,1.33)"/>
<use href="#gA" fill="#6aaf46" stroke="#6aaf46" stroke-width="0.44" transform="translate(561.03,736.07) scale(4.30,1.33)"/>
<use href="#gG" fill="#e6a236" stroke="#e6a236" stroke-width="0.57" transform="translate(561.09,713.06) scale(4.17,22.51)"/>
<use href="#gA" fill="#6aaf46" stroke="#6aaf46" stroke-width="0.44" transform="translate(565.97,737.85) scale(4.30,1.33)"/>
<use href="#gG" fill="#e6a236" stroke="#e6a236" stroke-width="0.57" transform="translate(566.03,726.37) scale(4.17,10.97)"/>
<use href="#gA" fill="#6aaf46" stroke="#6aaf46" stroke-width="0.44" transform="translate(570.91,737.85) scale(4.30,1.33)"/>
<use href="#gG" fill="#e6a236" stroke="#e6a236" stroke-width="0.57" transform="translate(570.97,726.90) scale(4.17,10.44)"/>
<use href="#gA" fill="#6aaf46" stroke="#6aaf46" stroke-width="0.35" transform="translate(575.81,738.16) scale(4.39,1.06)"/>
<use href="#gG" fill="#e6a236" stroke="#e6a236" stroke-width="0.57" transform="translate(575.91,732.05) scale(4.17,5.64)"/>
<use href="#gA" fill="#6aaf46" stroke="#6aaf46" stroke-width="0.35" transform="translate(580.75,738.16) scale(4.39,1.06)"/>
<use href="#gG" fill="#e6a236" stroke="#e6a236" stroke-width="0.57" transform="translate(580.85,732.94) scale(4.17,4.76)"/>
<use href="#gA" fill="#6aaf46" stroke="#6aaf46" stroke-width="0.35" transform="translate(585.69,738.16) scale(4.39,1.06)"/>
<use href="#gG" fill="#e6a236" stroke="#e6a236" stroke-width="0.57" transform="translate(585.79,733.83) scale(4.17,3.87)"/>
<use href="#gA" fill="#6aaf46" stroke="#6aaf46" stroke-width="0.44" transform="translate(590.67,737.85) scale(4.30,1.33)"/>
<use href="#gG" fill="#e6a236" stroke="#e6a236" stroke-width="0.57" transform="translate(590.73,729.92) scale(4.17,7.42)"/>
<use href="#gA" fill="#6aaf46" stroke="#6aaf46" stroke-width="0.44" transform="translate(595.61,737.85) scale(4.30,1.33)"/>
<use href="#gG" fill="#e6a236" stroke="#e6a236" stroke-width="0.57" transform="translate(595.67,721.93) scale(4.17,15.41)"/>
<use href="#gA" fill="#6aaf46" stroke="#6aaf46" stroke-width="0.44" transform="translate(600.55,737.85) scale(4.30,1.33)"/>
<use href="#gG" fill="#e6a236" stroke="#e6a236" stroke-width="0.57" transform="translate(600.61,725.84) scale(4.17,11.50)"/>
<use href="#gA" fill="#6aaf46" stroke="#6aaf46" stroke-width="0.35" transform="translate(605.45,738.16) scale(4.39,1.06)"/>
<use href="#gG" fill="#e6a236" stroke="#e6a236" stroke-width="0.57" transform="translate(605.55,732.94) scale(4.17,4.76)"/>
<use href="#gA" fill="#6aaf46" stroke="#6aaf46" stroke-width="0.35" transform="translate(610.39,738.16) scale(4.39,1.06)"/>
<use href="#gG" fill="#e6a236" stroke="#e6a236" stroke-width="0.57" transform="translate(610.49,733.83) scale(4.17,3.87)"/>
<use href="#gA" fill="#6aaf46" stroke="#6aaf46" stroke-width="0.44" transform="translate(615.37,737.85) scale(4.30,1.33)"/>
<use href="#gG" fill="#e6a236" stroke="#e6a236" stroke-width="0.57" transform="translate(615.43,729.92) scale(4.17,7.42)"/>
<use href="#gA" fill="#6aaf46" stroke="#6aaf46" stroke-width="0.35" transform="translate(620.27,738.16) scale(4.39,1.06)"/>
<use href="#gG" fill="#e6a236" stroke="#e6a236" stroke-width="0.57" transform="translate(620.37,732.94) scale(4.17,4.76)"/>
<use href="#gA" fill="#6aaf46" stroke="#6aaf46" stroke-width="0.35" transform="translate(625.21,738.16) scale(4.39,1.06)"/>
<use href="#gG" fill="#e6a236" stroke="#e6a236" stroke-width="0.57" transform="translate(625.31,733.83) scale(4.17,3.87)"/>
<use href="#gA" fill="#6aaf46" stroke="#6aaf46" stroke-width="0.35" transform="translate(630.15,738.16) scale(4.39,1.06)"/>
<use href="#gG" fill="#e6a236" stroke="#e6a236" stroke-width="0.57" transform="translate(630.25,734.36) scale(4.17,3.34)"/>
<text x="226.30" y="768.40" font-size="7.3" fill="#222">FLI1/ERG (<tspan font-style="italic">P</tspan>=3.2e–05)</text>
<text x="226.30" y="776.80" font-size="6.6" fill="#d8434a">(304/1,506)</text>
<line x1="222.90" y1="780.20" x2="222.90" y2="811.90" stroke="#111" stroke-width="1.1"/>
<line x1="220.70" y1="811.50" x2="222.90" y2="811.50" stroke="#111" stroke-width="0.7"/>
<text x="220.10" y="813.30" font-size="5.0" fill="#222" text-anchor="end">0</text>
<line x1="220.70" y1="803.77" x2="222.90" y2="803.77" stroke="#111" stroke-width="0.7"/>
<text x="220.10" y="805.57" font-size="5.0" fill="#222" text-anchor="end">0.5</text>
<line x1="220.70" y1="796.05" x2="222.90" y2="796.05" stroke="#111" stroke-width="0.7"/>
<text x="220.10" y="797.85" font-size="5.0" fill="#222" text-anchor="end">1</text>
<line x1="220.70" y1="788.33" x2="222.90" y2="788.33" stroke="#111" stroke-width="0.7"/>
<text x="220.10" y="790.12" font-size="5.0" fill="#222" text-anchor="end">1.5</text>
<line x1="220.70" y1="780.60" x2="222.90" y2="780.60" stroke="#111" stroke-width="0.7"/>
<text x="220.10" y="782.40" font-size="5.0" fill="#222" text-anchor="end">2</text>
<line x1="232.30" y1="813.50" x2="303.30" y2="813.50" stroke="#111" stroke-width="1.1"/>
<line x1="233.00" y1="813.50" x2="233.00" y2="815.50" stroke="#111" stroke-width="0.7"/>
<text x="233.00" y="821.50" font-size="5.0" fill="#222" text-anchor="middle">1</text>
<line x1="244.60" y1="813.50" x2="244.60" y2="815.50" stroke="#111" stroke-width="0.7"/>
<text x="244.60" y="821.50" font-size="5.0" fill="#222" text-anchor="middle">2</text>
<line x1="256.20" y1="813.50" x2="256.20" y2="815.50" stroke="#111" stroke-width="0.7"/>
<text x="256.20" y="821.50" font-size="5.0" fill="#222" text-anchor="middle">3</text>
<line x1="267.80" y1="813.50" x2="267.80" y2="815.50" stroke="#111" stroke-width="0.7"/>
<text x="267.80" y="821.50" font-size="5.0" fill="#222" text-anchor="middle">4</text>
<line x1="279.40" y1="813.50" x2="279.40" y2="815.50" stroke="#111" stroke-width="0.7"/>
<text x="279.40" y="821.50" font-size="5.0" fill="#222" text-anchor="middle">5</text>
<line x1="291.00" y1="813.50" x2="291.00" y2="815.50" stroke="#111" stroke-width="0.7"/>
<text x="291.00" y="821.50" font-size="5.0" fill="#222" text-anchor="middle">6</text>
<line x1="302.60" y1="813.50" x2="302.60" y2="815.50" stroke="#111" stroke-width="0.7"/>
<text x="302.60" y="821.50" font-size="5.0" fill="#222" text-anchor="middle">7</text>
<use href="#gC" fill="#2c3a96" stroke="#2c3a96" stroke-width="0.90" transform="translate(227.88,782.60) scale(10.24,28.45)"/>
<use href="#gA" fill="#6aaf46" stroke="#6aaf46" stroke-width="0.90" transform="translate(239.48,783.21) scale(10.24,27.84)"/>
<use href="#gG" fill="#e6a236" stroke="#e6a236" stroke-width="0.90" transform="translate(251.08,783.52) scale(10.24,27.53)"/>
<use href="#gG" fill="#e6a236" stroke="#e6a236" stroke-width="0.90" transform="translate(262.68,783.52) scale(10.24,27.53)"/>
<use href="#gC" fill="#2c3a96" stroke="#2c3a96" stroke-width="0.90" transform="translate(274.28,803.45) scale(10.24,7.60)"/>
<use href="#gA" fill="#6aaf46" stroke="#6aaf46" stroke-width="0.90" transform="translate(274.28,796.50) scale(10.24,6.05)"/>
<use href="#gA" fill="#6aaf46" stroke="#6aaf46" stroke-width="0.90" transform="translate(285.88,783.21) scale(10.24,27.84)"/>
<use href="#gG" fill="#e6a236" stroke="#e6a236" stroke-width="0.90" transform="translate(297.48,783.52) scale(10.24,27.53)"/>
<text x="335.00" y="768.40" font-size="7.3" fill="#222">Unknown motif</text>
<text x="335.00" y="776.80" font-size="6.6" fill="#d8434a">(244/1,506)</text>
<line x1="332.70" y1="780.20" x2="332.70" y2="811.90" stroke="#111" stroke-width="1.1"/>
<line x1="330.50" y1="811.50" x2="332.70" y2="811.50" stroke="#111" stroke-width="0.7"/>
<text x="329.90" y="813.30" font-size="5.0" fill="#222" text-anchor="end">0</text>
<line x1="330.50" y1="803.77" x2="332.70" y2="803.77" stroke="#111" stroke-width="0.7"/>
<text x="329.90" y="805.57" font-size="5.0" fill="#222" text-anchor="end">0.5</text>
<line x1="330.50" y1="796.05" x2="332.70" y2="796.05" stroke="#111" stroke-width="0.7"/>
<text x="329.90" y="797.85" font-size="5.0" fill="#222" text-anchor="end">1</text>
<line x1="330.50" y1="788.33" x2="332.70" y2="788.33" stroke="#111" stroke-width="0.7"/>
<text x="329.90" y="790.12" font-size="5.0" fill="#222" text-anchor="end">1.5</text>
<line x1="330.50" y1="780.60" x2="332.70" y2="780.60" stroke="#111" stroke-width="0.7"/>
<text x="329.90" y="782.40" font-size="5.0" fill="#222" text-anchor="end">2</text>
<line x1="343.10" y1="813.50" x2="417.70" y2="813.50" stroke="#111" stroke-width="1.1"/>
<line x1="343.80" y1="813.50" x2="343.80" y2="815.50" stroke="#111" stroke-width="0.7"/>
<text x="343.80" y="821.50" font-size="5.0" fill="#222" text-anchor="middle">1</text>
<line x1="356.00" y1="813.50" x2="356.00" y2="815.50" stroke="#111" stroke-width="0.7"/>
<text x="356.00" y="821.50" font-size="5.0" fill="#222" text-anchor="middle">2</text>
<line x1="368.20" y1="813.50" x2="368.20" y2="815.50" stroke="#111" stroke-width="0.7"/>
<text x="368.20" y="821.50" font-size="5.0" fill="#222" text-anchor="middle">3</text>
<line x1="380.40" y1="813.50" x2="380.40" y2="815.50" stroke="#111" stroke-width="0.7"/>
<text x="380.40" y="821.50" font-size="5.0" fill="#222" text-anchor="middle">4</text>
<line x1="392.60" y1="813.50" x2="392.60" y2="815.50" stroke="#111" stroke-width="0.7"/>
<text x="392.60" y="821.50" font-size="5.0" fill="#222" text-anchor="middle">5</text>
<line x1="404.80" y1="813.50" x2="404.80" y2="815.50" stroke="#111" stroke-width="0.7"/>
<text x="404.80" y="821.50" font-size="5.0" fill="#222" text-anchor="middle">6</text>
<line x1="417.00" y1="813.50" x2="417.00" y2="815.50" stroke="#111" stroke-width="0.7"/>
<text x="417.00" y="821.50" font-size="5.0" fill="#222" text-anchor="middle">7</text>
<use href="#gC" fill="#2c3a96" stroke="#2c3a96" stroke-width="0.90" transform="translate(338.39,782.60) scale(10.81,28.45)"/>
<use href="#gA" fill="#6aaf46" stroke="#6aaf46" stroke-width="0.90" transform="translate(350.59,782.60) scale(10.81,28.45)"/>
<use href="#gG" fill="#e6a236" stroke="#e6a236" stroke-width="0.90" transform="translate(362.79,783.21) scale(10.81,27.84)"/>
<use href="#gC" fill="#2c3a96" stroke="#2c3a96" stroke-width="0.90" transform="translate(374.99,783.21) scale(10.81,27.84)"/>
<use href="#gA" fill="#6aaf46" stroke="#6aaf46" stroke-width="0.90" transform="translate(387.19,783.21) scale(10.81,27.84)"/>
<use href="#gG" fill="#e6a236" stroke="#e6a236" stroke-width="0.90" transform="translate(399.39,783.21) scale(10.81,27.84)"/>
<use href="#gA" fill="#6aaf46" stroke="#6aaf46" stroke-width="0.90" transform="translate(411.59,805.77) scale(10.81,5.28)"/>
<use href="#gC" fill="#2c3a96" stroke="#2c3a96" stroke-width="0.90" transform="translate(411.59,798.05) scale(10.81,6.82)"/>
<text x="452.20" y="770.60" font-size="7.3" fill="#222">Unknown motif</text>
<text x="452.20" y="777.90" font-size="6.6" fill="#d8434a">(134/1,506)</text>
<line x1="450.10" y1="779.70" x2="450.10" y2="812.60" stroke="#111" stroke-width="1.1"/>
<line x1="447.90" y1="812.20" x2="450.10" y2="812.20" stroke="#111" stroke-width="0.7"/>
<text x="447.30" y="814.00" font-size="5.0" fill="#222" text-anchor="end">0</text>
<line x1="447.90" y1="804.18" x2="450.10" y2="804.18" stroke="#111" stroke-width="0.7"/>
<text x="447.30" y="805.98" font-size="5.0" fill="#222" text-anchor="end">0.5</text>
<line x1="447.90" y1="796.15" x2="450.10" y2="796.15" stroke="#111" stroke-width="0.7"/>
<text x="447.30" y="797.95" font-size="5.0" fill="#222" text-anchor="end">1</text>
<line x1="447.90" y1="788.12" x2="450.10" y2="788.12" stroke="#111" stroke-width="0.7"/>
<text x="447.30" y="789.92" font-size="5.0" fill="#222" text-anchor="end">1.5</text>
<line x1="447.90" y1="780.10" x2="450.10" y2="780.10" stroke="#111" stroke-width="0.7"/>
<text x="447.30" y="781.90" font-size="5.0" fill="#222" text-anchor="end">2</text>
<line x1="458.70" y1="814.20" x2="530.90" y2="814.20" stroke="#111" stroke-width="1.1"/>
<line x1="459.40" y1="814.20" x2="459.40" y2="816.20" stroke="#111" stroke-width="0.7"/>
<text x="459.40" y="822.20" font-size="5.0" fill="#222" text-anchor="middle">1</text>
<line x1="471.20" y1="814.20" x2="471.20" y2="816.20" stroke="#111" stroke-width="0.7"/>
<text x="471.20" y="822.20" font-size="5.0" fill="#222" text-anchor="middle">2</text>
<line x1="483.00" y1="814.20" x2="483.00" y2="816.20" stroke="#111" stroke-width="0.7"/>
<text x="483.00" y="822.20" font-size="5.0" fill="#222" text-anchor="middle">3</text>
<line x1="494.80" y1="814.20" x2="494.80" y2="816.20" stroke="#111" stroke-width="0.7"/>
<text x="494.80" y="822.20" font-size="5.0" fill="#222" text-anchor="middle">4</text>
<line x1="506.60" y1="814.20" x2="506.60" y2="816.20" stroke="#111" stroke-width="0.7"/>
<text x="506.60" y="822.20" font-size="5.0" fill="#222" text-anchor="middle">5</text>
<line x1="518.40" y1="814.20" x2="518.40" y2="816.20" stroke="#111" stroke-width="0.7"/>
<text x="518.40" y="822.20" font-size="5.0" fill="#222" text-anchor="middle">6</text>
<line x1="530.20" y1="814.20" x2="530.20" y2="816.20" stroke="#111" stroke-width="0.7"/>
<text x="530.20" y="822.20" font-size="5.0" fill="#222" text-anchor="middle">7</text>
<use href="#gC" fill="#2c3a96" stroke="#2c3a96" stroke-width="0.90" transform="translate(454.19,782.16) scale(10.43,29.60)"/>
<use href="#gA" fill="#6aaf46" stroke="#6aaf46" stroke-width="0.90" transform="translate(465.99,782.16) scale(10.43,29.60)"/>
<use href="#gG" fill="#e6a236" stroke="#e6a236" stroke-width="0.90" transform="translate(477.79,782.80) scale(10.43,28.95)"/>
<use href="#gG" fill="#e6a236" stroke="#e6a236" stroke-width="0.90" transform="translate(489.59,782.80) scale(10.43,28.95)"/>
<use href="#gA" fill="#6aaf46" stroke="#6aaf46" stroke-width="0.90" transform="translate(501.39,782.16) scale(10.43,29.60)"/>
<use href="#gA" fill="#6aaf46" stroke="#6aaf46" stroke-width="0.90" transform="translate(513.19,782.16) scale(10.43,29.60)"/>
<use href="#gA" fill="#6aaf46" stroke="#6aaf46" stroke-width="0.90" transform="translate(524.99,782.16) scale(10.43,29.60)"/>
<text x="561.70" y="770.60" font-size="7.3" fill="#222">Unknown motif</text>
<text x="561.70" y="777.90" font-size="6.6" fill="#d8434a">(263/1,506)</text>
<line x1="558.50" y1="779.70" x2="558.50" y2="812.60" stroke="#111" stroke-width="1.1"/>
<line x1="556.30" y1="812.20" x2="558.50" y2="812.20" stroke="#111" stroke-width="0.7"/>
<text x="555.70" y="814.00" font-size="5.0" fill="#222" text-anchor="end">0</text>
<line x1="556.30" y1="804.18" x2="558.50" y2="804.18" stroke="#111" stroke-width="0.7"/>
<text x="555.70" y="805.98" font-size="5.0" fill="#222" text-anchor="end">0.5</text>
<line x1="556.30" y1="796.15" x2="558.50" y2="796.15" stroke="#111" stroke-width="0.7"/>
<text x="555.70" y="797.95" font-size="5.0" fill="#222" text-anchor="end">1</text>
<line x1="556.30" y1="788.12" x2="558.50" y2="788.12" stroke="#111" stroke-width="0.7"/>
<text x="555.70" y="789.92" font-size="5.0" fill="#222" text-anchor="end">1.5</text>
<line x1="556.30" y1="780.10" x2="558.50" y2="780.10" stroke="#111" stroke-width="0.7"/>
<text x="555.70" y="781.90" font-size="5.0" fill="#222" text-anchor="end">2</text>
<line x1="569.10" y1="814.20" x2="665.30" y2="814.20" stroke="#111" stroke-width="1.1"/>
<line x1="569.80" y1="814.20" x2="569.80" y2="816.20" stroke="#111" stroke-width="0.7"/>
<text x="569.80" y="822.20" font-size="5.0" fill="#222" text-anchor="middle">1</text>
<line x1="581.65" y1="814.20" x2="581.65" y2="816.20" stroke="#111" stroke-width="0.7"/>
<text x="581.65" y="822.20" font-size="5.0" fill="#222" text-anchor="middle">2</text>
<line x1="593.50" y1="814.20" x2="593.50" y2="816.20" stroke="#111" stroke-width="0.7"/>
<text x="593.50" y="822.20" font-size="5.0" fill="#222" text-anchor="middle">3</text>
<line x1="605.35" y1="814.20" x2="605.35" y2="816.20" stroke="#111" stroke-width="0.7"/>
<text x="605.35" y="822.20" font-size="5.0" fill="#222" text-anchor="middle">4</text>
<line x1="617.20" y1="814.20" x2="617.20" y2="816.20" stroke="#111" stroke-width="0.7"/>
<text x="617.20" y="822.20" font-size="5.0" fill="#222" text-anchor="middle">5</text>
<line x1="629.05" y1="814.20" x2="629.05" y2="816.20" stroke="#111" stroke-width="0.7"/>
<text x="629.05" y="822.20" font-size="5.0" fill="#222" text-anchor="middle">6</text>
<line x1="640.90" y1="814.20" x2="640.90" y2="816.20" stroke="#111" stroke-width="0.7"/>
<text x="640.90" y="822.20" font-size="5.0" fill="#222" text-anchor="middle">7</text>
<line x1="652.75" y1="814.20" x2="652.75" y2="816.20" stroke="#111" stroke-width="0.7"/>
<text x="652.75" y="822.20" font-size="5.0" fill="#222" text-anchor="middle">8</text>
<line x1="664.60" y1="814.20" x2="664.60" y2="816.20" stroke="#111" stroke-width="0.7"/>
<text x="664.60" y="822.20" font-size="5.0" fill="#222" text-anchor="middle">9</text>
<use href="#gA" fill="#6aaf46" stroke="#6aaf46" stroke-width="0.48" transform="translate(564.35,810.51) scale(10.89,1.44)"/>
<use href="#gC" fill="#2c3a96" stroke="#2c3a96" stroke-width="0.40" transform="translate(564.31,808.87) scale(10.97,1.20)"/>
<use href="#gG" fill="#e6a236" stroke="#e6a236" stroke-width="0.60" transform="translate(564.41,806.56) scale(10.77,1.81)"/>
<use href="#gA" fill="#6aaf46" stroke="#6aaf46" stroke-width="0.90" transform="translate(576.41,784.56) scale(10.48,27.19)"/>
<use href="#gG" fill="#e6a236" stroke="#e6a236" stroke-width="0.90" transform="translate(588.26,788.58) scale(10.48,23.18)"/>
<use href="#gG" fill="#e6a236" stroke="#e6a236" stroke-width="0.90" transform="translate(600.11,804.63) scale(10.48,7.13)"/>
<use href="#gC" fill="#2c3a96" stroke="#2c3a96" stroke-width="0.90" transform="translate(600.11,795.00) scale(10.48,8.73)"/>
<use href="#gC" fill="#2c3a96" stroke="#2c3a96" stroke-width="0.90" transform="translate(611.96,783.76) scale(10.48,27.99)"/>
<use href="#gA" fill="#6aaf46" stroke="#6aaf46" stroke-width="0.90" transform="translate(623.81,805.43) scale(10.48,6.32)"/>
<use href="#gT" fill="#cf2c33" stroke="#cf2c33" stroke-width="0.90" transform="translate(623.81,793.39) scale(10.48,11.14)"/>
<use href="#gG" fill="#e6a236" stroke="#e6a236" stroke-width="0.90" transform="translate(635.66,787.77) scale(10.48,23.98)"/>
<use href="#gA" fill="#6aaf46" stroke="#6aaf46" stroke-width="0.90" transform="translate(647.51,808.64) scale(10.48,3.11)"/>
<use href="#gC" fill="#2c3a96" stroke="#2c3a96" stroke-width="0.60" transform="translate(647.36,806.08) scale(10.77,1.81)"/>
<use href="#gG" fill="#e6a236" stroke="#e6a236" stroke-width="0.90" transform="translate(647.51,801.41) scale(10.48,3.92)"/>
<use href="#gG" fill="#e6a236" stroke="#e6a236" stroke-width="0.90" transform="translate(659.36,782.96) scale(10.48,28.79)"/>
<text x="225.80" y="846.70" font-size="7.3" fill="#222">E-box-GATA (P=3.0e–05)</text>
<text x="225.80" y="855.20" font-size="6.6" fill="#d8434a">(2,250/2,480)</text>
<line x1="223.30" y1="854.70" x2="223.30" y2="893.20" stroke="#111" stroke-width="1.1"/>
<line x1="221.10" y1="892.80" x2="223.30" y2="892.80" stroke="#111" stroke-width="0.7"/>
<text x="220.50" y="894.60" font-size="5.0" fill="#222" text-anchor="end">0</text>
<line x1="221.10" y1="883.38" x2="223.30" y2="883.38" stroke="#111" stroke-width="0.7"/>
<text x="220.50" y="885.17" font-size="5.0" fill="#222" text-anchor="end">0.5</text>
<line x1="221.10" y1="873.95" x2="223.30" y2="873.95" stroke="#111" stroke-width="0.7"/>
<text x="220.50" y="875.75" font-size="5.0" fill="#222" text-anchor="end">1</text>
<line x1="221.10" y1="864.52" x2="223.30" y2="864.52" stroke="#111" stroke-width="0.7"/>
<text x="220.50" y="866.32" font-size="5.0" fill="#222" text-anchor="end">1.5</text>
<line x1="221.10" y1="855.10" x2="223.30" y2="855.10" stroke="#111" stroke-width="0.7"/>
<text x="220.50" y="856.90" font-size="5.0" fill="#222" text-anchor="end">2</text>
<line x1="229.80" y1="894.80" x2="339.50" y2="894.80" stroke="#111" stroke-width="1.1"/>
<line x1="230.50" y1="894.80" x2="230.50" y2="896.80" stroke="#111" stroke-width="0.7"/>
<text x="230.50" y="902.80" font-size="5.0" fill="#222" text-anchor="middle">1</text>
<line x1="236.20" y1="894.80" x2="236.20" y2="896.80" stroke="#111" stroke-width="0.7"/>
<text x="236.20" y="902.80" font-size="5.0" fill="#222" text-anchor="middle">2</text>
<line x1="241.90" y1="894.80" x2="241.90" y2="896.80" stroke="#111" stroke-width="0.7"/>
<text x="241.90" y="902.80" font-size="5.0" fill="#222" text-anchor="middle">3</text>
<line x1="247.60" y1="894.80" x2="247.60" y2="896.80" stroke="#111" stroke-width="0.7"/>
<text x="247.60" y="902.80" font-size="5.0" fill="#222" text-anchor="middle">4</text>
<line x1="253.30" y1="894.80" x2="253.30" y2="896.80" stroke="#111" stroke-width="0.7"/>
<text x="253.30" y="902.80" font-size="5.0" fill="#222" text-anchor="middle">5</text>
<line x1="259.00" y1="894.80" x2="259.00" y2="896.80" stroke="#111" stroke-width="0.7"/>
<text x="259.00" y="902.80" font-size="5.0" fill="#222" text-anchor="middle">6</text>
<line x1="264.70" y1="894.80" x2="264.70" y2="896.80" stroke="#111" stroke-width="0.7"/>
<text x="264.70" y="902.80" font-size="5.0" fill="#222" text-anchor="middle">7</text>
<line x1="270.40" y1="894.80" x2="270.40" y2="896.80" stroke="#111" stroke-width="0.7"/>
<text x="270.40" y="902.80" font-size="5.0" fill="#222" text-anchor="middle">8</text>
<line x1="276.10" y1="894.80" x2="276.10" y2="896.80" stroke="#111" stroke-width="0.7"/>
<text x="276.10" y="902.80" font-size="5.0" fill="#222" text-anchor="middle">9</text>
<line x1="281.80" y1="894.80" x2="281.80" y2="896.80" stroke="#111" stroke-width="0.7"/>
<text x="281.80" y="902.80" font-size="5.0" fill="#222" text-anchor="middle">10</text>
<line x1="287.50" y1="894.80" x2="287.50" y2="896.80" stroke="#111" stroke-width="0.7"/>
<text x="287.50" y="902.80" font-size="5.0" fill="#222" text-anchor="middle">11</text>
<line x1="293.20" y1="894.80" x2="293.20" y2="896.80" stroke="#111" stroke-width="0.7"/>
<text x="293.20" y="902.80" font-size="5.0" fill="#222" text-anchor="middle">12</text>
<line x1="298.90" y1="894.80" x2="298.90" y2="896.80" stroke="#111" stroke-width="0.7"/>
<text x="298.90" y="902.80" font-size="5.0" fill="#222" text-anchor="middle">13</text>
<line x1="304.60" y1="894.80" x2="304.60" y2="896.80" stroke="#111" stroke-width="0.7"/>
<text x="304.60" y="902.80" font-size="5.0" fill="#222" text-anchor="middle">14</text>
<line x1="310.30" y1="894.80" x2="310.30" y2="896.80" stroke="#111" stroke-width="0.7"/>
<text x="310.30" y="902.80" font-size="5.0" fill="#222" text-anchor="middle">15</text>
<line x1="316.00" y1="894.80" x2="316.00" y2="896.80" stroke="#111" stroke-width="0.7"/>
<text x="316.00" y="902.80" font-size="5.0" fill="#222" text-anchor="middle">16</text>
<line x1="321.70" y1="894.80" x2="321.70" y2="896.80" stroke="#111" stroke-width="0.7"/>
<text x="321.70" y="902.80" font-size="5.0" fill="#222" text-anchor="middle">17</text>
<line x1="327.40" y1="894.80" x2="327.40" y2="896.80" stroke="#111" stroke-width="0.7"/>
<text x="327.40" y="902.80" font-size="5.0" fill="#222" text-anchor="middle">18</text>
<line x1="333.10" y1="894.80" x2="333.10" y2="896.80" stroke="#111" stroke-width="0.7"/>
<text x="333.10" y="902.80" font-size="5.0" fill="#222" text-anchor="middle">19</text>
<line x1="338.80" y1="894.80" x2="338.80" y2="896.80" stroke="#111" stroke-width="0.7"/>
<text x="338.80" y="902.80" font-size="5.0" fill="#222" text-anchor="middle">20</text>
<use href="#gA" fill="#6aaf46" stroke="#6aaf46" stroke-width="0.19" transform="translate(227.86,892.14) scale(5.28,0.57)"/>
<use href="#gG" fill="#e6a236" stroke="#e6a236" stroke-width="0.19" transform="translate(227.86,891.39) scale(5.28,0.57)"/>
<use href="#gA" fill="#6aaf46" stroke="#6aaf46" stroke-width="0.19" transform="translate(233.56,892.14) scale(5.28,0.57)"/>
<use href="#gG" fill="#e6a236" stroke="#e6a236" stroke-width="0.19" transform="translate(233.56,891.39) scale(5.28,0.57)"/>
<use href="#gC" fill="#2c3a96" stroke="#2c3a96" stroke-width="0.24" transform="translate(239.28,891.98) scale(5.24,0.71)"/>
<use href="#gA" fill="#6aaf46" stroke="#6aaf46" stroke-width="0.28" transform="translate(239.31,890.87) scale(5.19,0.85)"/>
<use href="#gA" fill="#6aaf46" stroke="#6aaf46" stroke-width="0.28" transform="translate(245.01,891.81) scale(5.19,0.85)"/>
<use href="#gT" fill="#cf2c33" stroke="#cf2c33" stroke-width="0.66" transform="translate(245.19,888.23) scale(4.82,3.11)"/>
<use href="#gT" fill="#cf2c33" stroke="#cf2c33" stroke-width="0.57" transform="translate(250.85,890.82) scale(4.91,1.70)"/>
<use href="#gG" fill="#e6a236" stroke="#e6a236" stroke-width="0.66" transform="translate(250.89,882.38) scale(4.82,7.83)"/>
<use href="#gA" fill="#6aaf46" stroke="#6aaf46" stroke-width="0.24" transform="translate(256.38,891.98) scale(5.24,0.71)"/>
<use href="#gG" fill="#e6a236" stroke="#e6a236" stroke-width="0.28" transform="translate(256.41,890.87) scale(5.19,0.85)"/>
<use href="#gT" fill="#cf2c33" stroke="#cf2c33" stroke-width="0.23" transform="translate(262.08,892.01) scale(5.25,0.68)"/>
<use href="#gA" fill="#6aaf46" stroke="#6aaf46" stroke-width="0.13" transform="translate(262.03,891.43) scale(5.34,0.40)"/>
<use href="#gC" fill="#2c3a96" stroke="#2c3a96" stroke-width="0.14" transform="translate(262.03,890.87) scale(5.33,0.42)"/>
<use href="#gT" fill="#cf2c33" stroke="#cf2c33" stroke-width="0.10" transform="translate(267.72,892.44) scale(5.37,0.31)"/>
<use href="#gC" fill="#2c3a96" stroke="#2c3a96" stroke-width="0.15" transform="translate(267.74,891.87) scale(5.33,0.44)"/>
<use href="#gG" fill="#e6a236" stroke="#e6a236" stroke-width="0.14" transform="translate(267.73,891.32) scale(5.34,0.41)"/>
<use href="#gT" fill="#cf2c33" stroke="#cf2c33" stroke-width="0.16" transform="translate(273.44,892.24) scale(5.31,0.48)"/>
<use href="#gC" fill="#2c3a96" stroke="#2c3a96" stroke-width="0.12" transform="translate(273.42,891.75) scale(5.35,0.35)"/>
<use href="#gA" fill="#6aaf46" stroke="#6aaf46" stroke-width="0.13" transform="translate(273.43,891.23) scale(5.34,0.40)"/>
<use href="#gT" fill="#cf2c33" stroke="#cf2c33" stroke-width="0.21" transform="translate(279.17,892.06) scale(5.26,0.64)"/>
<use href="#gC" fill="#2c3a96" stroke="#2c3a96" stroke-width="0.10" transform="translate(279.11,891.61) scale(5.37,0.30)"/>
<use href="#gG" fill="#e6a236" stroke="#e6a236" stroke-width="0.21" transform="translate(279.17,890.83) scale(5.26,0.62)"/>
<use href="#gT" fill="#cf2c33" stroke="#cf2c33" stroke-width="0.16" transform="translate(284.84,892.24) scale(5.31,0.48)"/>
<use href="#gA" fill="#6aaf46" stroke="#6aaf46" stroke-width="0.19" transform="translate(284.86,891.48) scale(5.28,0.58)"/>
<use href="#gC" fill="#2c3a96" stroke="#2c3a96" stroke-width="0.18" transform="translate(284.86,890.74) scale(5.29,0.55)"/>
<use href="#gC" fill="#2c3a96" stroke="#2c3a96" stroke-width="0.28" transform="translate(290.61,891.81) scale(5.19,0.85)"/>
<use href="#gG" fill="#e6a236" stroke="#e6a236" stroke-width="0.38" transform="translate(290.65,890.35) scale(5.10,1.13)"/>
<use href="#gA" fill="#6aaf46" stroke="#6aaf46" stroke-width="0.28" transform="translate(296.31,891.81) scale(5.19,0.85)"/>
<use href="#gC" fill="#2c3a96" stroke="#2c3a96" stroke-width="0.38" transform="translate(296.35,890.35) scale(5.10,1.13)"/>
<use href="#gG" fill="#e6a236" stroke="#e6a236" stroke-width="0.47" transform="translate(296.40,888.51) scale(5.00,1.41)"/>
<use href="#gT" fill="#cf2c33" stroke="#cf2c33" stroke-width="0.66" transform="translate(302.19,889.36) scale(4.82,3.11)"/>
<use href="#gA" fill="#6aaf46" stroke="#6aaf46" stroke-width="0.66" transform="translate(302.19,877.67) scale(4.82,11.03)"/>
<use href="#gA" fill="#6aaf46" stroke="#6aaf46" stroke-width="0.24" transform="translate(307.68,891.98) scale(5.24,0.71)"/>
<use href="#gG" fill="#e6a236" stroke="#e6a236" stroke-width="0.66" transform="translate(307.89,858.26) scale(4.82,33.27)"/>
<use href="#gG" fill="#e6a236" stroke="#e6a236" stroke-width="0.24" transform="translate(313.38,891.98) scale(5.24,0.71)"/>
<use href="#gA" fill="#6aaf46" stroke="#6aaf46" stroke-width="0.66" transform="translate(313.59,863.91) scale(4.82,27.62)"/>
<use href="#gA" fill="#6aaf46" stroke="#6aaf46" stroke-width="0.38" transform="translate(319.15,891.48) scale(5.10,1.13)"/>
<use href="#gT" fill="#cf2c33" stroke="#cf2c33" stroke-width="0.66" transform="translate(319.29,862.40) scale(4.82,28.56)"/>
<use href="#gC" fill="#2c3a96" stroke="#2c3a96" stroke-width="0.38" transform="translate(324.85,891.48) scale(5.10,1.13)"/>
<use href="#gA" fill="#6aaf46" stroke="#6aaf46" stroke-width="0.66" transform="translate(324.99,872.77) scale(4.82,18.19)"/>
<use href="#gC" fill="#2c3a96" stroke="#2c3a96" stroke-width="0.38" transform="translate(330.55,891.48) scale(5.10,1.13)"/>
<use href="#gG" fill="#e6a236" stroke="#e6a236" stroke-width="0.47" transform="translate(330.60,889.64) scale(5.00,1.41)"/>
<use href="#gA" fill="#6aaf46" stroke="#6aaf46" stroke-width="0.66" transform="translate(330.69,875.60) scale(4.82,13.48)"/>
<use href="#gC" fill="#2c3a96" stroke="#2c3a96" stroke-width="0.38" transform="translate(336.25,891.48) scale(5.10,1.13)"/>
<use href="#gA" fill="#6aaf46" stroke="#6aaf46" stroke-width="0.47" transform="translate(336.30,889.64) scale(5.00,1.41)"/>
<use href="#gG" fill="#e6a236" stroke="#e6a236" stroke-width="0.66" transform="translate(336.39,886.72) scale(4.82,2.36)"/>
<text x="379.30" y="845.90" font-size="7.3" fill="#222">ZNF263/Zfp281/Zfp740</text>
<text x="379.30" y="855.40" font-size="7.3" fill="#222">EGR1/PREB1 (<tspan font-style="italic">P</tspan>&lt;1.2e–06)</text>
<text x="379.30" y="864.90" font-size="6.6" fill="#d8434a">(537/2,480)</text>
<line x1="373.00" y1="856.50" x2="373.00" y2="893.40" stroke="#111" stroke-width="1.1"/>
<line x1="370.80" y1="893.00" x2="373.00" y2="893.00" stroke="#111" stroke-width="0.7"/>
<text x="370.20" y="894.80" font-size="5.0" fill="#222" text-anchor="end">0</text>
<line x1="370.80" y1="883.98" x2="373.00" y2="883.98" stroke="#111" stroke-width="0.7"/>
<text x="370.20" y="885.77" font-size="5.0" fill="#222" text-anchor="end">0.5</text>
<line x1="370.80" y1="874.95" x2="373.00" y2="874.95" stroke="#111" stroke-width="0.7"/>
<text x="370.20" y="876.75" font-size="5.0" fill="#222" text-anchor="end">1</text>
<line x1="370.80" y1="865.92" x2="373.00" y2="865.92" stroke="#111" stroke-width="0.7"/>
<text x="370.20" y="867.72" font-size="5.0" fill="#222" text-anchor="end">1.5</text>
<line x1="370.80" y1="856.90" x2="373.00" y2="856.90" stroke="#111" stroke-width="0.7"/>
<text x="370.20" y="858.70" font-size="5.0" fill="#222" text-anchor="end">2</text>
<line x1="384.50" y1="895.00" x2="495.30" y2="895.00" stroke="#111" stroke-width="1.1"/>
<line x1="385.20" y1="895.00" x2="385.20" y2="897.00" stroke="#111" stroke-width="0.7"/>
<text x="385.20" y="903.00" font-size="5.0" fill="#222" text-anchor="middle">1</text>
<line x1="390.67" y1="895.00" x2="390.67" y2="897.00" stroke="#111" stroke-width="0.7"/>
<line x1="396.14" y1="895.00" x2="396.14" y2="897.00" stroke="#111" stroke-width="0.7"/>
<text x="396.14" y="903.00" font-size="5.0" fill="#222" text-anchor="middle">3</text>
<line x1="401.61" y1="895.00" x2="401.61" y2="897.00" stroke="#111" stroke-width="0.7"/>
<line x1="407.08" y1="895.00" x2="407.08" y2="897.00" stroke="#111" stroke-width="0.7"/>
<text x="407.08" y="903.00" font-size="5.0" fill="#222" text-anchor="middle">5</text>
<line x1="412.55" y1="895.00" x2="412.55" y2="897.00" stroke="#111" stroke-width="0.7"/>
<line x1="418.02" y1="895.00" x2="418.02" y2="897.00" stroke="#111" stroke-width="0.7"/>
<text x="418.02" y="903.00" font-size="5.0" fill="#222" text-anchor="middle">7</text>
<line x1="423.49" y1="895.00" x2="423.49" y2="897.00" stroke="#111" stroke-width="0.7"/>
<line x1="428.96" y1="895.00" x2="428.96" y2="897.00" stroke="#111" stroke-width="0.7"/>
<text x="428.96" y="903.00" font-size="5.0" fill="#222" text-anchor="middle">9</text>
<line x1="434.43" y1="895.00" x2="434.43" y2="897.00" stroke="#111" stroke-width="0.7"/>
<line x1="439.90" y1="895.00" x2="439.90" y2="897.00" stroke="#111" stroke-width="0.7"/>
<text x="439.90" y="903.00" font-size="5.0" fill="#222" text-anchor="middle">11</text>
<line x1="445.37" y1="895.00" x2="445.37" y2="897.00" stroke="#111" stroke-width="0.7"/>
<line x1="450.84" y1="895.00" x2="450.84" y2="897.00" stroke="#111" stroke-width="0.7"/>
<text x="450.84" y="903.00" font-size="5.0" fill="#222" text-anchor="middle">13</text>
<line x1="456.31" y1="895.00" x2="456.31" y2="897.00" stroke="#111" stroke-width="0.7"/>
<line x1="461.78" y1="895.00" x2="461.78" y2="897.00" stroke="#111" stroke-width="0.7"/>
<text x="461.78" y="903.00" font-size="5.0" fill="#222" text-anchor="middle">15</text>
<line x1="467.25" y1="895.00" x2="467.25" y2="897.00" stroke="#111" stroke-width="0.7"/>
<line x1="472.72" y1="895.00" x2="472.72" y2="897.00" stroke="#111" stroke-width="0.7"/>
<text x="472.72" y="903.00" font-size="5.0" fill="#222" text-anchor="middle">17</text>
<line x1="478.19" y1="895.00" x2="478.19" y2="897.00" stroke="#111" stroke-width="0.7"/>
<line x1="483.66" y1="895.00" x2="483.66" y2="897.00" stroke="#111" stroke-width="0.7"/>
<text x="483.66" y="903.00" font-size="5.0" fill="#222" text-anchor="middle">19</text>
<line x1="489.13" y1="895.00" x2="489.13" y2="897.00" stroke="#111" stroke-width="0.7"/>
<line x1="494.60" y1="895.00" x2="494.60" y2="897.00" stroke="#111" stroke-width="0.7"/>
<text x="494.60" y="903.00" font-size="5.0" fill="#222" text-anchor="middle">21</text>
<use href="#gA" fill="#6aaf46" stroke="#6aaf46" stroke-width="0.27" transform="translate(382.71,892.05) scale(4.98,0.81)"/>
<use href="#gG" fill="#e6a236" stroke="#e6a236" stroke-width="0.36" transform="translate(382.75,890.65) scale(4.89,1.08)"/>
<use href="#gA" fill="#6aaf46" stroke="#6aaf46" stroke-width="0.27" transform="translate(388.18,892.05) scale(4.98,0.81)"/>
<use href="#gC" fill="#2c3a96" stroke="#2c3a96" stroke-width="0.27" transform="translate(388.18,890.97) scale(4.98,0.81)"/>
<use href="#gG" fill="#e6a236" stroke="#e6a236" stroke-width="0.63" transform="translate(388.36,888.62) scale(4.62,1.90)"/>
<use href="#gA" fill="#6aaf46" stroke="#6aaf46" stroke-width="0.36" transform="translate(393.69,891.74) scale(4.89,1.08)"/>
<use href="#gG" fill="#e6a236" stroke="#e6a236" stroke-width="0.63" transform="translate(393.83,886.46) scale(4.62,4.78)"/>
<use href="#gA" fill="#6aaf46" stroke="#6aaf46" stroke-width="0.36" transform="translate(399.16,891.74) scale(4.89,1.08)"/>
<use href="#gG" fill="#e6a236" stroke="#e6a236" stroke-width="0.63" transform="translate(399.30,881.94) scale(4.62,9.30)"/>
<use href="#gA" fill="#6aaf46" stroke="#6aaf46" stroke-width="0.45" transform="translate(404.68,891.42) scale(4.80,1.35)"/>
<use href="#gG" fill="#e6a236" stroke="#e6a236" stroke-width="0.63" transform="translate(404.77,881.58) scale(4.62,9.30)"/>
<use href="#gA" fill="#6aaf46" stroke="#6aaf46" stroke-width="0.36" transform="translate(410.10,891.74) scale(4.89,1.08)"/>
<use href="#gG" fill="#e6a236" stroke="#e6a236" stroke-width="0.63" transform="translate(410.24,888.26) scale(4.62,2.98)"/>
<use href="#gA" fill="#6aaf46" stroke="#6aaf46" stroke-width="0.63" transform="translate(415.71,890.61) scale(4.62,2.08)"/>
<use href="#gT" fill="#cf2c33" stroke="#cf2c33" stroke-width="0.63" transform="translate(415.71,877.97) scale(4.62,12.00)"/>
<use href="#gT" fill="#cf2c33" stroke="#cf2c33" stroke-width="0.36" transform="translate(421.04,891.74) scale(4.89,1.08)"/>
<use href="#gA" fill="#6aaf46" stroke="#6aaf46" stroke-width="0.27" transform="translate(421.00,890.61) scale(4.98,0.81)"/>
<use href="#gG" fill="#e6a236" stroke="#e6a236" stroke-width="0.63" transform="translate(421.18,863.71) scale(4.62,26.44)"/>
<use href="#gA" fill="#6aaf46" stroke="#6aaf46" stroke-width="0.45" transform="translate(426.56,891.42) scale(4.80,1.35)"/>
<use href="#gG" fill="#e6a236" stroke="#e6a236" stroke-width="0.63" transform="translate(426.65,876.17) scale(4.62,14.71)"/>
<use href="#gA" fill="#6aaf46" stroke="#6aaf46" stroke-width="0.45" transform="translate(432.03,891.42) scale(4.80,1.35)"/>
<use href="#gG" fill="#e6a236" stroke="#e6a236" stroke-width="0.63" transform="translate(432.12,875.63) scale(4.62,15.25)"/>
<use href="#gA" fill="#6aaf46" stroke="#6aaf46" stroke-width="0.45" transform="translate(437.50,891.42) scale(4.80,1.35)"/>
<use href="#gG" fill="#e6a236" stroke="#e6a236" stroke-width="0.63" transform="translate(437.59,878.51) scale(4.62,12.37)"/>
<use href="#gA" fill="#6aaf46" stroke="#6aaf46" stroke-width="0.36" transform="translate(442.92,891.74) scale(4.89,1.08)"/>
<use href="#gG" fill="#e6a236" stroke="#e6a236" stroke-width="0.63" transform="translate(443.06,883.21) scale(4.62,8.03)"/>
<use href="#gC" fill="#2c3a96" stroke="#2c3a96" stroke-width="0.27" transform="translate(448.35,892.05) scale(4.98,0.81)"/>
<use href="#gA" fill="#6aaf46" stroke="#6aaf46" stroke-width="0.36" transform="translate(448.39,890.65) scale(4.89,1.08)"/>
<use href="#gT" fill="#cf2c33" stroke="#cf2c33" stroke-width="0.36" transform="translate(448.39,889.21) scale(4.89,1.08)"/>
<use href="#gA" fill="#6aaf46" stroke="#6aaf46" stroke-width="0.45" transform="translate(453.91,891.42) scale(4.80,1.35)"/>
<use href="#gG" fill="#e6a236" stroke="#e6a236" stroke-width="0.63" transform="translate(454.00,881.58) scale(4.62,9.30)"/>
<use href="#gA" fill="#6aaf46" stroke="#6aaf46" stroke-width="0.45" transform="translate(459.38,891.42) scale(4.80,1.35)"/>
<use href="#gG" fill="#e6a236" stroke="#e6a236" stroke-width="0.63" transform="translate(459.47,874.90) scale(4.62,15.98)"/>
<use href="#gA" fill="#6aaf46" stroke="#6aaf46" stroke-width="0.45" transform="translate(464.85,891.42) scale(4.80,1.35)"/>
<use href="#gG" fill="#e6a236" stroke="#e6a236" stroke-width="0.63" transform="translate(464.94,876.71) scale(4.62,14.17)"/>
<use href="#gA" fill="#6aaf46" stroke="#6aaf46" stroke-width="0.45" transform="translate(470.32,891.42) scale(4.80,1.35)"/>
<use href="#gG" fill="#e6a236" stroke="#e6a236" stroke-width="0.63" transform="translate(470.41,878.51) scale(4.62,12.37)"/>
<use href="#gA" fill="#6aaf46" stroke="#6aaf46" stroke-width="0.36" transform="translate(475.74,891.74) scale(4.89,1.08)"/>
<use href="#gG" fill="#e6a236" stroke="#e6a236" stroke-width="0.63" transform="translate(475.88,887.90) scale(4.62,3.34)"/>
<use href="#gA" fill="#6aaf46" stroke="#6aaf46" stroke-width="0.36" transform="translate(481.21,891.74) scale(4.89,1.08)"/>
<use href="#gG" fill="#e6a236" stroke="#e6a236" stroke-width="0.63" transform="translate(481.35,888.26) scale(4.62,2.98)"/>
<use href="#gA" fill="#6aaf46" stroke="#6aaf46" stroke-width="0.36" transform="translate(486.68,891.74) scale(4.89,1.08)"/>
<use href="#gG" fill="#e6a236" stroke="#e6a236" stroke-width="0.63" transform="translate(486.82,888.26) scale(4.62,2.98)"/>
<use href="#gA" fill="#6aaf46" stroke="#6aaf46" stroke-width="0.36" transform="translate(492.15,891.74) scale(4.89,1.08)"/>
<use href="#gG" fill="#e6a236" stroke="#e6a236" stroke-width="0.63" transform="translate(492.29,888.62) scale(4.62,2.62)"/>
<text x="532.50" y="847.20" font-size="7.3" fill="#222">ERG/FLI1/ETS1/EHF (<tspan font-style="italic">P</tspan>&lt;3.2e–05)</text>
<text x="532.50" y="855.10" font-size="6.6" fill="#d8434a">(948/2,480)</text>
<line x1="529.20" y1="856.40" x2="529.20" y2="894.30" stroke="#111" stroke-width="1.1"/>
<line x1="527.00" y1="893.90" x2="529.20" y2="893.90" stroke="#111" stroke-width="0.7"/>
<text x="526.40" y="895.70" font-size="5.0" fill="#222" text-anchor="end">0</text>
<line x1="527.00" y1="884.62" x2="529.20" y2="884.62" stroke="#111" stroke-width="0.7"/>
<text x="526.40" y="886.42" font-size="5.0" fill="#222" text-anchor="end">0.5</text>
<line x1="527.00" y1="875.35" x2="529.20" y2="875.35" stroke="#111" stroke-width="0.7"/>
<text x="526.40" y="877.15" font-size="5.0" fill="#222" text-anchor="end">1</text>
<line x1="527.00" y1="866.07" x2="529.20" y2="866.07" stroke="#111" stroke-width="0.7"/>
<text x="526.40" y="867.87" font-size="5.0" fill="#222" text-anchor="end">1.5</text>
<line x1="527.00" y1="856.80" x2="529.20" y2="856.80" stroke="#111" stroke-width="0.7"/>
<text x="526.40" y="858.60" font-size="5.0" fill="#222" text-anchor="end">2</text>
<line x1="542.00" y1="895.90" x2="652.20" y2="895.90" stroke="#111" stroke-width="1.1"/>
<line x1="542.70" y1="895.90" x2="542.70" y2="897.90" stroke="#111" stroke-width="0.7"/>
<text x="542.70" y="903.90" font-size="5.0" fill="#222" text-anchor="middle">1</text>
<line x1="556.30" y1="895.90" x2="556.30" y2="897.90" stroke="#111" stroke-width="0.7"/>
<text x="556.30" y="903.90" font-size="5.0" fill="#222" text-anchor="middle">2</text>
<line x1="569.90" y1="895.90" x2="569.90" y2="897.90" stroke="#111" stroke-width="0.7"/>
<text x="569.90" y="903.90" font-size="5.0" fill="#222" text-anchor="middle">3</text>
<line x1="583.50" y1="895.90" x2="583.50" y2="897.90" stroke="#111" stroke-width="0.7"/>
<text x="583.50" y="903.90" font-size="5.0" fill="#222" text-anchor="middle">4</text>
<line x1="597.10" y1="895.90" x2="597.10" y2="897.90" stroke="#111" stroke-width="0.7"/>
<text x="597.10" y="903.90" font-size="5.0" fill="#222" text-anchor="middle">5</text>
<line x1="610.70" y1="895.90" x2="610.70" y2="897.90" stroke="#111" stroke-width="0.7"/>
<text x="610.70" y="903.90" font-size="5.0" fill="#222" text-anchor="middle">6</text>
<line x1="624.30" y1="895.90" x2="624.30" y2="897.90" stroke="#111" stroke-width="0.7"/>
<text x="624.30" y="903.90" font-size="5.0" fill="#222" text-anchor="middle">7</text>
<line x1="637.90" y1="895.90" x2="637.90" y2="897.90" stroke="#111" stroke-width="0.7"/>
<text x="637.90" y="903.90" font-size="5.0" fill="#222" text-anchor="middle">8</text>
<line x1="651.50" y1="895.90" x2="651.50" y2="897.90" stroke="#111" stroke-width="0.7"/>
<text x="651.50" y="903.90" font-size="5.0" fill="#222" text-anchor="middle">9</text>
<use href="#gT" fill="#cf2c33" stroke="#cf2c33" stroke-width="0.19" transform="translate(536.26,893.25) scale(12.87,0.56)"/>
<use href="#gG" fill="#e6a236" stroke="#e6a236" stroke-width="0.46" transform="translate(536.40,891.53) scale(12.59,1.39)"/>
<use href="#gC" fill="#2c3a96" stroke="#2c3a96" stroke-width="0.56" transform="translate(536.45,889.36) scale(12.50,1.67)"/>
<use href="#gA" fill="#6aaf46" stroke="#6aaf46" stroke-width="0.90" transform="translate(536.62,884.33) scale(12.16,4.29)"/>
<use href="#gT" fill="#cf2c33" stroke="#cf2c33" stroke-width="0.19" transform="translate(549.86,893.25) scale(12.87,0.56)"/>
<use href="#gG" fill="#e6a236" stroke="#e6a236" stroke-width="0.70" transform="translate(550.12,890.72) scale(12.36,2.09)"/>
<use href="#gC" fill="#2c3a96" stroke="#2c3a96" stroke-width="0.90" transform="translate(550.22,882.48) scale(12.16,7.45)"/>
<use href="#gA" fill="#6aaf46" stroke="#6aaf46" stroke-width="0.90" transform="translate(563.82,859.11) scale(12.16,34.35)"/>
<use href="#gG" fill="#e6a236" stroke="#e6a236" stroke-width="0.90" transform="translate(577.42,860.96) scale(12.16,32.49)"/>
<use href="#gG" fill="#e6a236" stroke="#e6a236" stroke-width="0.90" transform="translate(591.02,860.96) scale(12.16,32.49)"/>
<use href="#gC" fill="#2c3a96" stroke="#2c3a96" stroke-width="0.83" transform="translate(604.59,890.98) scale(12.22,2.50)"/>
<use href="#gA" fill="#6aaf46" stroke="#6aaf46" stroke-width="0.90" transform="translate(604.62,865.97) scale(12.16,24.14)"/>
<use href="#gA" fill="#6aaf46" stroke="#6aaf46" stroke-width="0.90" transform="translate(618.22,859.11) scale(12.16,34.35)"/>
<use href="#gA" fill="#6aaf46" stroke="#6aaf46" stroke-width="0.90" transform="translate(631.82,890.27) scale(12.16,3.18)"/>
<use href="#gG" fill="#e6a236" stroke="#e6a236" stroke-width="0.90" transform="translate(631.82,873.95) scale(12.16,15.42)"/>
<use href="#gA" fill="#6aaf46" stroke="#6aaf46" stroke-width="0.23" transform="translate(645.09,893.09) scale(12.82,0.70)"/>
<use href="#gG" fill="#e6a236" stroke="#e6a236" stroke-width="0.28" transform="translate(645.11,892.00) scale(12.78,0.83)"/>
<use href="#gC" fill="#2c3a96" stroke="#2c3a96" stroke-width="0.37" transform="translate(645.16,890.56) scale(12.68,1.11)"/>
<use href="#gT" fill="#cf2c33" stroke="#cf2c33" stroke-width="0.19" transform="translate(645.06,889.73) scale(12.87,0.56)"/>
<text x="225.80" y="922.70" font-size="7.3" fill="#222">RUNX1/RUNX2/MET28(<tspan font-style="italic">P</tspan>&lt;1.4e–06)</text>
<text x="225.80" y="930.20" font-size="6.6" fill="#d8434a">(214/2,480)</text>
<line x1="223.30" y1="933.50" x2="223.30" y2="971.90" stroke="#111" stroke-width="1.1"/>
<line x1="221.10" y1="971.50" x2="223.30" y2="971.50" stroke="#111" stroke-width="0.7"/>
<text x="220.50" y="973.30" font-size="5.0" fill="#222" text-anchor="end">0</text>
<line x1="221.10" y1="962.10" x2="223.30" y2="962.10" stroke="#111" stroke-width="0.7"/>
<text x="220.50" y="963.90" font-size="5.0" fill="#222" text-anchor="end">0.5</text>
<line x1="221.10" y1="952.70" x2="223.30" y2="952.70" stroke="#111" stroke-width="0.7"/>
<text x="220.50" y="954.50" font-size="5.0" fill="#222" text-anchor="end">1</text>
<line x1="221.10" y1="943.30" x2="223.30" y2="943.30" stroke="#111" stroke-width="0.7"/>
<text x="220.50" y="945.10" font-size="5.0" fill="#222" text-anchor="end">1.5</text>
<line x1="221.10" y1="933.90" x2="223.30" y2="933.90" stroke="#111" stroke-width="0.7"/>
<text x="220.50" y="935.70" font-size="5.0" fill="#222" text-anchor="end">2</text>
<line x1="235.10" y1="973.50" x2="338.90" y2="973.50" stroke="#111" stroke-width="1.1"/>
<line x1="235.80" y1="973.50" x2="235.80" y2="975.50" stroke="#111" stroke-width="0.7"/>
<text x="235.80" y="981.50" font-size="5.0" fill="#222" text-anchor="middle">1</text>
<line x1="248.60" y1="973.50" x2="248.60" y2="975.50" stroke="#111" stroke-width="0.7"/>
<text x="248.60" y="981.50" font-size="5.0" fill="#222" text-anchor="middle">2</text>
<line x1="261.40" y1="973.50" x2="261.40" y2="975.50" stroke="#111" stroke-width="0.7"/>
<text x="261.40" y="981.50" font-size="5.0" fill="#222" text-anchor="middle">3</text>
<line x1="274.20" y1="973.50" x2="274.20" y2="975.50" stroke="#111" stroke-width="0.7"/>
<text x="274.20" y="981.50" font-size="5.0" fill="#222" text-anchor="middle">4</text>
<line x1="287.00" y1="973.50" x2="287.00" y2="975.50" stroke="#111" stroke-width="0.7"/>
<text x="287.00" y="981.50" font-size="5.0" fill="#222" text-anchor="middle">5</text>
<line x1="299.80" y1="973.50" x2="299.80" y2="975.50" stroke="#111" stroke-width="0.7"/>
<text x="299.80" y="981.50" font-size="5.0" fill="#222" text-anchor="middle">6</text>
<line x1="312.60" y1="973.50" x2="312.60" y2="975.50" stroke="#111" stroke-width="0.7"/>
<text x="312.60" y="981.50" font-size="5.0" fill="#222" text-anchor="middle">7</text>
<line x1="325.40" y1="973.50" x2="325.40" y2="975.50" stroke="#111" stroke-width="0.7"/>
<text x="325.40" y="981.50" font-size="5.0" fill="#222" text-anchor="middle">8</text>
<line x1="338.20" y1="973.50" x2="338.20" y2="975.50" stroke="#111" stroke-width="0.7"/>
<text x="338.20" y="981.50" font-size="5.0" fill="#222" text-anchor="middle">9</text>
<use href="#gG" fill="#e6a236" stroke="#e6a236" stroke-width="0.24" transform="translate(229.77,970.68) scale(12.05,0.71)"/>
<use href="#gT" fill="#cf2c33" stroke="#cf2c33" stroke-width="0.90" transform="translate(230.11,965.75) scale(11.39,4.36)"/>
<use href="#gC" fill="#2c3a96" stroke="#2c3a96" stroke-width="0.90" transform="translate(230.11,956.35) scale(11.39,8.50)"/>
<use href="#gT" fill="#cf2c33" stroke="#cf2c33" stroke-width="0.90" transform="translate(242.91,936.98) scale(11.39,34.07)"/>
<use href="#gG" fill="#e6a236" stroke="#e6a236" stroke-width="0.90" transform="translate(255.71,937.73) scale(11.39,33.32)"/>
<use href="#gT" fill="#cf2c33" stroke="#cf2c33" stroke-width="0.90" transform="translate(268.51,936.98) scale(11.39,34.07)"/>
<use href="#gG" fill="#e6a236" stroke="#e6a236" stroke-width="0.90" transform="translate(281.31,937.73) scale(11.39,33.32)"/>
<use href="#gG" fill="#e6a236" stroke="#e6a236" stroke-width="0.90" transform="translate(294.11,937.73) scale(11.39,33.32)"/>
<use href="#gC" fill="#2c3a96" stroke="#2c3a96" stroke-width="0.90" transform="translate(306.91,965.93) scale(11.39,5.12)"/>
<use href="#gT" fill="#cf2c33" stroke="#cf2c33" stroke-width="0.90" transform="translate(306.91,949.95) scale(11.39,15.08)"/>
<use href="#gC" fill="#2c3a96" stroke="#2c3a96" stroke-width="0.85" transform="translate(319.68,968.54) scale(11.44,2.54)"/>
<use href="#gT" fill="#cf2c33" stroke="#cf2c33" stroke-width="0.90" transform="translate(319.71,943.19) scale(11.39,24.48)"/>
<use href="#gA" fill="#6aaf46" stroke="#6aaf46" stroke-width="0.85" transform="translate(332.48,968.54) scale(11.44,2.54)"/>
<use href="#gT" fill="#cf2c33" stroke="#cf2c33" stroke-width="0.90" transform="translate(332.51,942.62) scale(11.39,25.04)"/>
<text x="379.50" y="924.00" font-size="7.3" fill="#222">TCF3/TCF12/MYOG (<tspan font-style="italic">P</tspan>&lt;2.6e–05)</text>
<text x="379.50" y="931.70" font-size="6.6" fill="#d8434a">(504/2,480)</text>
<line x1="375.10" y1="933.00" x2="375.10" y2="970.90" stroke="#111" stroke-width="1.1"/>
<line x1="372.90" y1="970.50" x2="375.10" y2="970.50" stroke="#111" stroke-width="0.7"/>
<text x="372.30" y="972.30" font-size="5.0" fill="#222" text-anchor="end">0</text>
<line x1="372.90" y1="961.23" x2="375.10" y2="961.23" stroke="#111" stroke-width="0.7"/>
<text x="372.30" y="963.02" font-size="5.0" fill="#222" text-anchor="end">0.5</text>
<line x1="372.90" y1="951.95" x2="375.10" y2="951.95" stroke="#111" stroke-width="0.7"/>
<text x="372.30" y="953.75" font-size="5.0" fill="#222" text-anchor="end">1</text>
<line x1="372.90" y1="942.67" x2="375.10" y2="942.67" stroke="#111" stroke-width="0.7"/>
<text x="372.30" y="944.47" font-size="5.0" fill="#222" text-anchor="end">1.5</text>
<line x1="372.90" y1="933.40" x2="375.10" y2="933.40" stroke="#111" stroke-width="0.7"/>
<text x="372.30" y="935.20" font-size="5.0" fill="#222" text-anchor="end">2</text>
<line x1="387.70" y1="972.50" x2="489.90" y2="972.50" stroke="#111" stroke-width="1.1"/>
<line x1="388.40" y1="972.50" x2="388.40" y2="974.50" stroke="#111" stroke-width="0.7"/>
<text x="388.40" y="980.50" font-size="5.0" fill="#222" text-anchor="middle">1</text>
<line x1="401.00" y1="972.50" x2="401.00" y2="974.50" stroke="#111" stroke-width="0.7"/>
<text x="401.00" y="980.50" font-size="5.0" fill="#222" text-anchor="middle">2</text>
<line x1="413.60" y1="972.50" x2="413.60" y2="974.50" stroke="#111" stroke-width="0.7"/>
<text x="413.60" y="980.50" font-size="5.0" fill="#222" text-anchor="middle">3</text>
<line x1="426.20" y1="972.50" x2="426.20" y2="974.50" stroke="#111" stroke-width="0.7"/>
<text x="426.20" y="980.50" font-size="5.0" fill="#222" text-anchor="middle">4</text>
<line x1="438.80" y1="972.50" x2="438.80" y2="974.50" stroke="#111" stroke-width="0.7"/>
<text x="438.80" y="980.50" font-size="5.0" fill="#222" text-anchor="middle">5</text>
<line x1="451.40" y1="972.50" x2="451.40" y2="974.50" stroke="#111" stroke-width="0.7"/>
<text x="451.40" y="980.50" font-size="5.0" fill="#222" text-anchor="middle">6</text>
<line x1="464.00" y1="972.50" x2="464.00" y2="974.50" stroke="#111" stroke-width="0.7"/>
<text x="464.00" y="980.50" font-size="5.0" fill="#222" text-anchor="middle">7</text>
<line x1="476.60" y1="972.50" x2="476.60" y2="974.50" stroke="#111" stroke-width="0.7"/>
<text x="476.60" y="980.50" font-size="5.0" fill="#222" text-anchor="middle">8</text>
<line x1="489.20" y1="972.50" x2="489.20" y2="974.50" stroke="#111" stroke-width="0.7"/>
<text x="489.20" y="980.50" font-size="5.0" fill="#222" text-anchor="middle">9</text>
<use href="#gG" fill="#e6a236" stroke="#e6a236" stroke-width="0.28" transform="translate(382.49,969.53) scale(11.82,0.83)"/>
<use href="#gA" fill="#6aaf46" stroke="#6aaf46" stroke-width="0.74" transform="translate(382.72,966.79) scale(11.35,2.23)"/>
<use href="#gC" fill="#2c3a96" stroke="#2c3a96" stroke-width="0.90" transform="translate(382.80,960.93) scale(11.20,5.04)"/>
<use href="#gT" fill="#cf2c33" stroke="#cf2c33" stroke-width="0.46" transform="translate(395.18,968.88) scale(11.63,1.39)"/>
<use href="#gC" fill="#2c3a96" stroke="#2c3a96" stroke-width="0.46" transform="translate(395.18,967.02) scale(11.63,1.39)"/>
<use href="#gA" fill="#6aaf46" stroke="#6aaf46" stroke-width="0.90" transform="translate(395.40,962.05) scale(11.20,4.29)"/>
<use href="#gC" fill="#2c3a96" stroke="#2c3a96" stroke-width="0.90" transform="translate(408.00,936.45) scale(11.20,33.60)"/>
<use href="#gA" fill="#6aaf46" stroke="#6aaf46" stroke-width="0.90" transform="translate(420.60,936.45) scale(11.20,33.60)"/>
<use href="#gG" fill="#e6a236" stroke="#e6a236" stroke-width="0.90" transform="translate(433.20,937.19) scale(11.20,32.86)"/>
<use href="#gC" fill="#2c3a96" stroke="#2c3a96" stroke-width="0.90" transform="translate(445.80,936.45) scale(11.20,33.60)"/>
<use href="#gA" fill="#6aaf46" stroke="#6aaf46" stroke-width="0.90" transform="translate(458.40,963.53) scale(11.20,6.52)"/>
<use href="#gT" fill="#cf2c33" stroke="#cf2c33" stroke-width="0.90" transform="translate(458.40,942.75) scale(11.20,19.88)"/>
<use href="#gG" fill="#e6a236" stroke="#e6a236" stroke-width="0.90" transform="translate(471.00,936.45) scale(11.20,33.60)"/>
<use href="#gA" fill="#6aaf46" stroke="#6aaf46" stroke-width="0.19" transform="translate(483.24,969.85) scale(11.91,0.56)"/>
<use href="#gC" fill="#2c3a96" stroke="#2c3a96" stroke-width="0.23" transform="translate(483.27,968.95) scale(11.86,0.70)"/>
<use href="#gG" fill="#e6a236" stroke="#e6a236" stroke-width="0.37" transform="translate(483.34,967.53) scale(11.72,1.11)"/>
<text x="532.40" y="923.00" font-size="7.3" fill="#222">Unknown motif</text>
<text x="532.40" y="931.90" font-size="6.6" fill="#d8434a">(688/2,480)</text>
<line x1="528.70" y1="933.10" x2="528.70" y2="971.20" stroke="#111" stroke-width="1.1"/>
<line x1="526.50" y1="970.80" x2="528.70" y2="970.80" stroke="#111" stroke-width="0.7"/>
<text x="525.90" y="972.60" font-size="5.0" fill="#222" text-anchor="end">0</text>
<line x1="526.50" y1="961.47" x2="528.70" y2="961.47" stroke="#111" stroke-width="0.7"/>
<text x="525.90" y="963.27" font-size="5.0" fill="#222" text-anchor="end">0.5</text>
<line x1="526.50" y1="952.15" x2="528.70" y2="952.15" stroke="#111" stroke-width="0.7"/>
<text x="525.90" y="953.95" font-size="5.0" fill="#222" text-anchor="end">1</text>
<line x1="526.50" y1="942.83" x2="528.70" y2="942.83" stroke="#111" stroke-width="0.7"/>
<text x="525.90" y="944.62" font-size="5.0" fill="#222" text-anchor="end">1.5</text>
<line x1="526.50" y1="933.50" x2="528.70" y2="933.50" stroke="#111" stroke-width="0.7"/>
<text x="525.90" y="935.30" font-size="5.0" fill="#222" text-anchor="end">2</text>
<line x1="540.40" y1="972.80" x2="629.40" y2="972.80" stroke="#111" stroke-width="1.1"/>
<line x1="541.10" y1="972.80" x2="541.10" y2="974.80" stroke="#111" stroke-width="0.7"/>
<text x="541.10" y="980.80" font-size="5.0" fill="#222" text-anchor="middle">1</text>
<line x1="555.70" y1="972.80" x2="555.70" y2="974.80" stroke="#111" stroke-width="0.7"/>
<text x="555.70" y="980.80" font-size="5.0" fill="#222" text-anchor="middle">2</text>
<line x1="570.30" y1="972.80" x2="570.30" y2="974.80" stroke="#111" stroke-width="0.7"/>
<text x="570.30" y="980.80" font-size="5.0" fill="#222" text-anchor="middle">3</text>
<line x1="584.90" y1="972.80" x2="584.90" y2="974.80" stroke="#111" stroke-width="0.7"/>
<text x="584.90" y="980.80" font-size="5.0" fill="#222" text-anchor="middle">4</text>
<line x1="599.50" y1="972.80" x2="599.50" y2="974.80" stroke="#111" stroke-width="0.7"/>
<text x="599.50" y="980.80" font-size="5.0" fill="#222" text-anchor="middle">5</text>
<line x1="614.10" y1="972.80" x2="614.10" y2="974.80" stroke="#111" stroke-width="0.7"/>
<text x="614.10" y="980.80" font-size="5.0" fill="#222" text-anchor="middle">6</text>
<line x1="628.70" y1="972.80" x2="628.70" y2="974.80" stroke="#111" stroke-width="0.7"/>
<text x="628.70" y="980.80" font-size="5.0" fill="#222" text-anchor="middle">7</text>
<use href="#gC" fill="#2c3a96" stroke="#2c3a96" stroke-width="0.90" transform="translate(534.54,936.56) scale(13.12,33.79)"/>
<use href="#gT" fill="#cf2c33" stroke="#cf2c33" stroke-width="0.90" transform="translate(549.14,961.92) scale(13.12,8.42)"/>
<use href="#gA" fill="#6aaf46" stroke="#6aaf46" stroke-width="0.90" transform="translate(549.14,948.50) scale(13.12,12.53)"/>
<use href="#gG" fill="#e6a236" stroke="#e6a236" stroke-width="0.90" transform="translate(563.74,937.31) scale(13.12,33.04)"/>
<use href="#gG" fill="#e6a236" stroke="#e6a236" stroke-width="0.90" transform="translate(578.34,937.31) scale(13.12,33.04)"/>
<use href="#gC" fill="#2c3a96" stroke="#2c3a96" stroke-width="0.90" transform="translate(592.94,936.56) scale(13.12,33.79)"/>
<use href="#gA" fill="#6aaf46" stroke="#6aaf46" stroke-width="0.90" transform="translate(607.54,961.92) scale(13.12,8.42)"/>
<use href="#gT" fill="#cf2c33" stroke="#cf2c33" stroke-width="0.90" transform="translate(607.54,945.14) scale(13.12,15.88)"/>
<use href="#gG" fill="#e6a236" stroke="#e6a236" stroke-width="0.90" transform="translate(622.14,937.31) scale(13.12,33.04)"/>
<text x="226.20" y="1010.70" font-size="7.3" fill="#222">ZNF263/Zfp281/Zfp740</text>
<text x="226.20" y="1020.10" font-size="7.3" fill="#222">SP1/EGR1 (<tspan font-style="italic">P</tspan>&lt;2.3e–05)</text>
<text x="226.20" y="1029.50" font-size="6.6" fill="#d8434a">(1,339/4,000)</text>
<line x1="225.30" y1="1029.90" x2="225.30" y2="1068.00" stroke="#111" stroke-width="1.1"/>
<line x1="223.10" y1="1067.60" x2="225.30" y2="1067.60" stroke="#111" stroke-width="0.7"/>
<text x="222.50" y="1069.40" font-size="5.0" fill="#222" text-anchor="end">0</text>
<line x1="223.10" y1="1058.27" x2="225.30" y2="1058.27" stroke="#111" stroke-width="0.7"/>
<text x="222.50" y="1060.07" font-size="5.0" fill="#222" text-anchor="end">0.5</text>
<line x1="223.10" y1="1048.95" x2="225.30" y2="1048.95" stroke="#111" stroke-width="0.7"/>
<text x="222.50" y="1050.75" font-size="5.0" fill="#222" text-anchor="end">1</text>
<line x1="223.10" y1="1039.62" x2="225.30" y2="1039.62" stroke="#111" stroke-width="0.7"/>
<text x="222.50" y="1041.42" font-size="5.0" fill="#222" text-anchor="end">1.5</text>
<line x1="223.10" y1="1030.30" x2="225.30" y2="1030.30" stroke="#111" stroke-width="0.7"/>
<text x="222.50" y="1032.10" font-size="5.0" fill="#222" text-anchor="end">2</text>
<line x1="229.60" y1="1069.60" x2="313.62" y2="1069.60" stroke="#111" stroke-width="1.1"/>
<line x1="230.30" y1="1069.60" x2="230.30" y2="1071.60" stroke="#111" stroke-width="0.7"/>
<text x="230.30" y="1077.60" font-size="5.0" fill="#222" text-anchor="middle">1</text>
<line x1="234.89" y1="1069.60" x2="234.89" y2="1071.60" stroke="#111" stroke-width="0.7"/>
<line x1="239.48" y1="1069.60" x2="239.48" y2="1071.60" stroke="#111" stroke-width="0.7"/>
<text x="239.48" y="1077.60" font-size="5.0" fill="#222" text-anchor="middle">3</text>
<line x1="244.07" y1="1069.60" x2="244.07" y2="1071.60" stroke="#111" stroke-width="0.7"/>
<line x1="248.66" y1="1069.60" x2="248.66" y2="1071.60" stroke="#111" stroke-width="0.7"/>
<text x="248.66" y="1077.60" font-size="5.0" fill="#222" text-anchor="middle">5</text>
<line x1="253.25" y1="1069.60" x2="253.25" y2="1071.60" stroke="#111" stroke-width="0.7"/>
<line x1="257.84" y1="1069.60" x2="257.84" y2="1071.60" stroke="#111" stroke-width="0.7"/>
<text x="257.84" y="1077.60" font-size="5.0" fill="#222" text-anchor="middle">7</text>
<line x1="262.43" y1="1069.60" x2="262.43" y2="1071.60" stroke="#111" stroke-width="0.7"/>
<line x1="267.02" y1="1069.60" x2="267.02" y2="1071.60" stroke="#111" stroke-width="0.7"/>
<text x="267.02" y="1077.60" font-size="5.0" fill="#222" text-anchor="middle">9</text>
<line x1="271.61" y1="1069.60" x2="271.61" y2="1071.60" stroke="#111" stroke-width="0.7"/>
<line x1="276.20" y1="1069.60" x2="276.20" y2="1071.60" stroke="#111" stroke-width="0.7"/>
<text x="276.20" y="1077.60" font-size="5.0" fill="#222" text-anchor="middle">11</text>
<line x1="280.79" y1="1069.60" x2="280.79" y2="1071.60" stroke="#111" stroke-width="0.7"/>
<line x1="285.38" y1="1069.60" x2="285.38" y2="1071.60" stroke="#111" stroke-width="0.7"/>
<text x="285.38" y="1077.60" font-size="5.0" fill="#222" text-anchor="middle">13</text>
<line x1="289.97" y1="1069.60" x2="289.97" y2="1071.60" stroke="#111" stroke-width="0.7"/>
<line x1="294.56" y1="1069.60" x2="294.56" y2="1071.60" stroke="#111" stroke-width="0.7"/>
<text x="294.56" y="1077.60" font-size="5.0" fill="#222" text-anchor="middle">15</text>
<line x1="299.15" y1="1069.60" x2="299.15" y2="1071.60" stroke="#111" stroke-width="0.7"/>
<line x1="303.74" y1="1069.60" x2="303.74" y2="1071.60" stroke="#111" stroke-width="0.7"/>
<text x="303.74" y="1077.60" font-size="5.0" fill="#222" text-anchor="middle">17</text>
<line x1="308.33" y1="1069.60" x2="308.33" y2="1071.60" stroke="#111" stroke-width="0.7"/>
<line x1="312.92" y1="1069.60" x2="312.92" y2="1071.60" stroke="#111" stroke-width="0.7"/>
<text x="312.92" y="1077.60" font-size="5.0" fill="#222" text-anchor="middle">19</text>
<use href="#gA" fill="#6aaf46" stroke="#6aaf46" stroke-width="0.53" transform="translate(228.36,1065.63) scale(3.88,1.71)"/>
<use href="#gG" fill="#e6a236" stroke="#e6a236" stroke-width="0.53" transform="translate(228.36,1057.79) scale(3.88,7.30)"/>
<use href="#gA" fill="#6aaf46" stroke="#6aaf46" stroke-width="0.53" transform="translate(232.95,1065.63) scale(3.88,1.71)"/>
<use href="#gG" fill="#e6a236" stroke="#e6a236" stroke-width="0.53" transform="translate(232.95,1049.77) scale(3.88,15.32)"/>
<use href="#gA" fill="#6aaf46" stroke="#6aaf46" stroke-width="0.47" transform="translate(237.51,1065.97) scale(3.94,1.40)"/>
<use href="#gC" fill="#2c3a96" stroke="#2c3a96" stroke-width="0.47" transform="translate(237.51,1064.10) scale(3.94,1.40)"/>
<use href="#gG" fill="#e6a236" stroke="#e6a236" stroke-width="0.53" transform="translate(237.54,1061.34) scale(3.88,2.27)"/>
<use href="#gT" fill="#cf2c33" stroke="#cf2c33" stroke-width="0.53" transform="translate(242.13,1064.13) scale(3.88,3.20)"/>
<use href="#gA" fill="#6aaf46" stroke="#6aaf46" stroke-width="0.53" transform="translate(242.13,1058.91) scale(3.88,4.69)"/>
<use href="#gA" fill="#6aaf46" stroke="#6aaf46" stroke-width="0.53" transform="translate(246.72,1065.63) scale(3.88,1.71)"/>
<use href="#gG" fill="#e6a236" stroke="#e6a236" stroke-width="0.53" transform="translate(246.72,1040.45) scale(3.88,24.65)"/>
<use href="#gA" fill="#6aaf46" stroke="#6aaf46" stroke-width="0.53" transform="translate(251.31,1065.63) scale(3.88,1.71)"/>
<use href="#gG" fill="#e6a236" stroke="#e6a236" stroke-width="0.53" transform="translate(251.31,1054.06) scale(3.88,11.03)"/>
<use href="#gA" fill="#6aaf46" stroke="#6aaf46" stroke-width="0.53" transform="translate(255.90,1065.63) scale(3.88,1.71)"/>
<use href="#gG" fill="#e6a236" stroke="#e6a236" stroke-width="0.53" transform="translate(255.90,1054.44) scale(3.88,10.66)"/>
<use href="#gA" fill="#6aaf46" stroke="#6aaf46" stroke-width="0.53" transform="translate(260.49,1065.63) scale(3.88,1.71)"/>
<use href="#gG" fill="#e6a236" stroke="#e6a236" stroke-width="0.53" transform="translate(260.49,1052.20) scale(3.88,12.90)"/>
<use href="#gA" fill="#6aaf46" stroke="#6aaf46" stroke-width="0.53" transform="translate(265.08,1065.63) scale(3.88,1.71)"/>
<use href="#gG" fill="#e6a236" stroke="#e6a236" stroke-width="0.53" transform="translate(265.08,1051.64) scale(3.88,13.46)"/>
<use href="#gC" fill="#2c3a96" stroke="#2c3a96" stroke-width="0.28" transform="translate(269.55,1066.62) scale(4.13,0.84)"/>
<use href="#gA" fill="#6aaf46" stroke="#6aaf46" stroke-width="0.28" transform="translate(269.55,1065.50) scale(4.13,0.84)"/>
<use href="#gA" fill="#6aaf46" stroke="#6aaf46" stroke-width="0.53" transform="translate(274.26,1065.63) scale(3.88,1.71)"/>
<use href="#gG" fill="#e6a236" stroke="#e6a236" stroke-width="0.53" transform="translate(274.26,1052.20) scale(3.88,12.90)"/>
<use href="#gA" fill="#6aaf46" stroke="#6aaf46" stroke-width="0.53" transform="translate(278.85,1065.63) scale(3.88,1.71)"/>
<use href="#gG" fill="#e6a236" stroke="#e6a236" stroke-width="0.53" transform="translate(278.85,1046.98) scale(3.88,18.12)"/>
<use href="#gA" fill="#6aaf46" stroke="#6aaf46" stroke-width="0.53" transform="translate(283.44,1065.63) scale(3.88,1.71)"/>
<use href="#gG" fill="#e6a236" stroke="#e6a236" stroke-width="0.53" transform="translate(283.44,1051.64) scale(3.88,13.46)"/>
<use href="#gA" fill="#6aaf46" stroke="#6aaf46" stroke-width="0.53" transform="translate(288.03,1065.63) scale(3.88,1.71)"/>
<use href="#gG" fill="#e6a236" stroke="#e6a236" stroke-width="0.53" transform="translate(288.03,1057.79) scale(3.88,7.30)"/>
<use href="#gA" fill="#6aaf46" stroke="#6aaf46" stroke-width="0.37" transform="translate(292.54,1066.29) scale(4.03,1.12)"/>
<use href="#gC" fill="#2c3a96" stroke="#2c3a96" stroke-width="0.53" transform="translate(292.62,1063.39) scale(3.88,2.46)"/>
<use href="#gA" fill="#6aaf46" stroke="#6aaf46" stroke-width="0.28" transform="translate(297.09,1066.62) scale(4.13,0.84)"/>
<use href="#gC" fill="#2c3a96" stroke="#2c3a96" stroke-width="0.28" transform="translate(297.09,1065.50) scale(4.13,0.84)"/>
<use href="#gA" fill="#6aaf46" stroke="#6aaf46" stroke-width="0.53" transform="translate(301.80,1065.63) scale(3.88,1.71)"/>
<use href="#gG" fill="#e6a236" stroke="#e6a236" stroke-width="0.53" transform="translate(301.80,1059.10) scale(3.88,6.00)"/>
<use href="#gA" fill="#6aaf46" stroke="#6aaf46" stroke-width="0.53" transform="translate(306.39,1065.63) scale(3.88,1.71)"/>
<use href="#gG" fill="#e6a236" stroke="#e6a236" stroke-width="0.53" transform="translate(306.39,1057.23) scale(3.88,7.86)"/>
<use href="#gA" fill="#6aaf46" stroke="#6aaf46" stroke-width="0.53" transform="translate(310.98,1065.63) scale(3.88,1.71)"/>
<use href="#gG" fill="#e6a236" stroke="#e6a236" stroke-width="0.53" transform="translate(310.98,1058.54) scale(3.88,6.56)"/>
<text x="350.80" y="1010.60" font-size="7.3" fill="#222">ERG/FLI1/ETS1/PU.1/ELF1</text>
<text x="350.80" y="1020.30" font-size="7.3" fill="#222">ELK4/EHF/FEV (<tspan font-style="italic">P</tspan>&lt;2.4e–05)</text>
<text x="350.80" y="1030.00" font-size="6.6" fill="#d8434a">(627/4,000)</text>
<line x1="348.60" y1="1030.60" x2="348.60" y2="1067.50" stroke="#111" stroke-width="1.1"/>
<line x1="346.40" y1="1067.10" x2="348.60" y2="1067.10" stroke="#111" stroke-width="0.7"/>
<text x="345.80" y="1068.90" font-size="5.0" fill="#222" text-anchor="end">0</text>
<line x1="346.40" y1="1058.07" x2="348.60" y2="1058.07" stroke="#111" stroke-width="0.7"/>
<text x="345.80" y="1059.87" font-size="5.0" fill="#222" text-anchor="end">0.5</text>
<line x1="346.40" y1="1049.05" x2="348.60" y2="1049.05" stroke="#111" stroke-width="0.7"/>
<text x="345.80" y="1050.85" font-size="5.0" fill="#222" text-anchor="end">1</text>
<line x1="346.40" y1="1040.03" x2="348.60" y2="1040.03" stroke="#111" stroke-width="0.7"/>
<text x="345.80" y="1041.83" font-size="5.0" fill="#222" text-anchor="end">1.5</text>
<line x1="346.40" y1="1031.00" x2="348.60" y2="1031.00" stroke="#111" stroke-width="0.7"/>
<text x="345.80" y="1032.80" font-size="5.0" fill="#222" text-anchor="end">2</text>
<line x1="357.10" y1="1069.10" x2="443.97" y2="1069.10" stroke="#111" stroke-width="1.1"/>
<line x1="357.80" y1="1069.10" x2="357.80" y2="1071.10" stroke="#111" stroke-width="0.7"/>
<text x="357.80" y="1077.10" font-size="5.0" fill="#222" text-anchor="middle">1</text>
<line x1="365.57" y1="1069.10" x2="365.57" y2="1071.10" stroke="#111" stroke-width="0.7"/>
<text x="365.57" y="1077.10" font-size="5.0" fill="#222" text-anchor="middle">2</text>
<line x1="373.34" y1="1069.10" x2="373.34" y2="1071.10" stroke="#111" stroke-width="0.7"/>
<text x="373.34" y="1077.10" font-size="5.0" fill="#222" text-anchor="middle">3</text>
<line x1="381.11" y1="1069.10" x2="381.11" y2="1071.10" stroke="#111" stroke-width="0.7"/>
<text x="381.11" y="1077.10" font-size="5.0" fill="#222" text-anchor="middle">4</text>
<line x1="388.88" y1="1069.10" x2="388.88" y2="1071.10" stroke="#111" stroke-width="0.7"/>
<text x="388.88" y="1077.10" font-size="5.0" fill="#222" text-anchor="middle">5</text>
<line x1="396.65" y1="1069.10" x2="396.65" y2="1071.10" stroke="#111" stroke-width="0.7"/>
<text x="396.65" y="1077.10" font-size="5.0" fill="#222" text-anchor="middle">6</text>
<line x1="404.42" y1="1069.10" x2="404.42" y2="1071.10" stroke="#111" stroke-width="0.7"/>
<text x="404.42" y="1077.10" font-size="5.0" fill="#222" text-anchor="middle">7</text>
<line x1="412.19" y1="1069.10" x2="412.19" y2="1071.10" stroke="#111" stroke-width="0.7"/>
<text x="412.19" y="1077.10" font-size="5.0" fill="#222" text-anchor="middle">8</text>
<line x1="419.96" y1="1069.10" x2="419.96" y2="1071.10" stroke="#111" stroke-width="0.7"/>
<text x="419.96" y="1077.10" font-size="5.0" fill="#222" text-anchor="middle">9</text>
<line x1="427.73" y1="1069.10" x2="427.73" y2="1071.10" stroke="#111" stroke-width="0.7"/>
<text x="427.73" y="1077.10" font-size="5.0" fill="#222" text-anchor="middle">10</text>
<line x1="435.50" y1="1069.10" x2="435.50" y2="1071.10" stroke="#111" stroke-width="0.7"/>
<text x="435.50" y="1077.10" font-size="5.0" fill="#222" text-anchor="middle">11</text>
<line x1="443.27" y1="1069.10" x2="443.27" y2="1071.10" stroke="#111" stroke-width="0.7"/>
<text x="443.27" y="1077.10" font-size="5.0" fill="#222" text-anchor="middle">12</text>
<use href="#gG" fill="#e6a236" stroke="#e6a236" stroke-width="0.27" transform="translate(354.21,1066.15) scale(7.19,0.81)"/>
<use href="#gC" fill="#2c3a96" stroke="#2c3a96" stroke-width="0.36" transform="translate(354.25,1064.75) scale(7.10,1.08)"/>
<use href="#gA" fill="#6aaf46" stroke="#6aaf46" stroke-width="0.90" transform="translate(354.52,1061.41) scale(6.56,2.71)"/>
<use href="#gG" fill="#e6a236" stroke="#e6a236" stroke-width="0.27" transform="translate(361.98,1066.15) scale(7.19,0.81)"/>
<use href="#gC" fill="#2c3a96" stroke="#2c3a96" stroke-width="0.45" transform="translate(362.07,1064.44) scale(7.01,1.35)"/>
<use href="#gA" fill="#6aaf46" stroke="#6aaf46" stroke-width="0.90" transform="translate(362.29,1053.47) scale(6.56,10.30)"/>
<use href="#gG" fill="#e6a236" stroke="#e6a236" stroke-width="0.36" transform="translate(369.79,1065.84) scale(7.10,1.08)"/>
<use href="#gC" fill="#2c3a96" stroke="#2c3a96" stroke-width="0.90" transform="translate(370.06,1059.79) scale(6.56,5.42)"/>
<use href="#gA" fill="#6aaf46" stroke="#6aaf46" stroke-width="0.90" transform="translate(377.83,1034.70) scale(6.56,31.96)"/>
<use href="#gG" fill="#e6a236" stroke="#e6a236" stroke-width="0.90" transform="translate(385.60,1034.70) scale(6.56,31.96)"/>
<use href="#gG" fill="#e6a236" stroke="#e6a236" stroke-width="0.90" transform="translate(393.37,1034.70) scale(6.56,31.96)"/>
<use href="#gA" fill="#6aaf46" stroke="#6aaf46" stroke-width="0.90" transform="translate(401.14,1034.70) scale(6.56,31.96)"/>
<use href="#gA" fill="#6aaf46" stroke="#6aaf46" stroke-width="0.90" transform="translate(408.91,1034.70) scale(6.56,31.96)"/>
<use href="#gA" fill="#6aaf46" stroke="#6aaf46" stroke-width="0.90" transform="translate(416.68,1063.94) scale(6.56,2.71)"/>
<use href="#gG" fill="#e6a236" stroke="#e6a236" stroke-width="0.90" transform="translate(416.68,1053.11) scale(6.56,9.93)"/>
<use href="#gC" fill="#2c3a96" stroke="#2c3a96" stroke-width="0.36" transform="translate(424.18,1065.84) scale(7.10,1.08)"/>
<use href="#gT" fill="#cf2c33" stroke="#cf2c33" stroke-width="0.72" transform="translate(424.36,1063.13) scale(6.74,2.17)"/>
<use href="#gA" fill="#6aaf46" stroke="#6aaf46" stroke-width="0.27" transform="translate(431.91,1066.15) scale(7.19,0.81)"/>
<use href="#gC" fill="#2c3a96" stroke="#2c3a96" stroke-width="0.27" transform="translate(431.91,1065.07) scale(7.19,0.81)"/>
<use href="#gG" fill="#e6a236" stroke="#e6a236" stroke-width="0.36" transform="translate(439.72,1065.84) scale(7.10,1.08)"/>
<use href="#gA" fill="#6aaf46" stroke="#6aaf46" stroke-width="0.72" transform="translate(439.90,1063.13) scale(6.74,2.17)"/>
<text x="475.80" y="1010.60" font-size="7.3" fill="#222">TCF3/TCF12</text>
<text x="475.80" y="1020.20" font-size="7.3" fill="#222">MYOG (<tspan font-style="italic">P</tspan>&lt;2.8e–05)</text>
<text x="475.80" y="1029.80" font-size="6.6" fill="#d8434a">(1,272/4,000)</text>
<line x1="474.10" y1="1030.60" x2="474.10" y2="1067.90" stroke="#111" stroke-width="1.1"/>
<line x1="471.90" y1="1067.50" x2="474.10" y2="1067.50" stroke="#111" stroke-width="0.7"/>
<text x="471.30" y="1069.30" font-size="5.0" fill="#222" text-anchor="end">0</text>
<line x1="471.90" y1="1058.38" x2="474.10" y2="1058.38" stroke="#111" stroke-width="0.7"/>
<text x="471.30" y="1060.17" font-size="5.0" fill="#222" text-anchor="end">0.5</text>
<line x1="471.90" y1="1049.25" x2="474.10" y2="1049.25" stroke="#111" stroke-width="0.7"/>
<text x="471.30" y="1051.05" font-size="5.0" fill="#222" text-anchor="end">1</text>
<line x1="471.90" y1="1040.12" x2="474.10" y2="1040.12" stroke="#111" stroke-width="0.7"/>
<text x="471.30" y="1041.92" font-size="5.0" fill="#222" text-anchor="end">1.5</text>
<line x1="471.90" y1="1031.00" x2="474.10" y2="1031.00" stroke="#111" stroke-width="0.7"/>
<text x="471.30" y="1032.80" font-size="5.0" fill="#222" text-anchor="end">2</text>
<line x1="483.20" y1="1069.50" x2="561.88" y2="1069.50" stroke="#111" stroke-width="1.1"/>
<line x1="483.90" y1="1069.50" x2="483.90" y2="1071.50" stroke="#111" stroke-width="0.7"/>
<text x="483.90" y="1077.50" font-size="5.0" fill="#222" text-anchor="middle">1</text>
<line x1="493.56" y1="1069.50" x2="493.56" y2="1071.50" stroke="#111" stroke-width="0.7"/>
<text x="493.56" y="1077.50" font-size="5.0" fill="#222" text-anchor="middle">2</text>
<line x1="503.22" y1="1069.50" x2="503.22" y2="1071.50" stroke="#111" stroke-width="0.7"/>
<text x="503.22" y="1077.50" font-size="5.0" fill="#222" text-anchor="middle">3</text>
<line x1="512.88" y1="1069.50" x2="512.88" y2="1071.50" stroke="#111" stroke-width="0.7"/>
<text x="512.88" y="1077.50" font-size="5.0" fill="#222" text-anchor="middle">4</text>
<line x1="522.54" y1="1069.50" x2="522.54" y2="1071.50" stroke="#111" stroke-width="0.7"/>
<text x="522.54" y="1077.50" font-size="5.0" fill="#222" text-anchor="middle">5</text>
<line x1="532.20" y1="1069.50" x2="532.20" y2="1071.50" stroke="#111" stroke-width="0.7"/>
<text x="532.20" y="1077.50" font-size="5.0" fill="#222" text-anchor="middle">6</text>
<line x1="541.86" y1="1069.50" x2="541.86" y2="1071.50" stroke="#111" stroke-width="0.7"/>
<text x="541.86" y="1077.50" font-size="5.0" fill="#222" text-anchor="middle">7</text>
<line x1="551.52" y1="1069.50" x2="551.52" y2="1071.50" stroke="#111" stroke-width="0.7"/>
<text x="551.52" y="1077.50" font-size="5.0" fill="#222" text-anchor="middle">8</text>
<line x1="561.18" y1="1069.50" x2="561.18" y2="1071.50" stroke="#111" stroke-width="0.7"/>
<text x="561.18" y="1077.50" font-size="5.0" fill="#222" text-anchor="middle">9</text>
<use href="#gG" fill="#e6a236" stroke="#e6a236" stroke-width="0.36" transform="translate(479.45,1066.22) scale(8.91,1.09)"/>
<use href="#gA" fill="#6aaf46" stroke="#6aaf46" stroke-width="0.55" transform="translate(479.54,1064.12) scale(8.73,1.64)"/>
<use href="#gC" fill="#2c3a96" stroke="#2c3a96" stroke-width="0.90" transform="translate(479.71,1059.19) scale(8.37,4.21)"/>
<use href="#gT" fill="#cf2c33" stroke="#cf2c33" stroke-width="0.27" transform="translate(489.06,1066.54) scale(9.00,0.82)"/>
<use href="#gC" fill="#2c3a96" stroke="#2c3a96" stroke-width="0.36" transform="translate(489.11,1065.13) scale(8.91,1.09)"/>
<use href="#gA" fill="#6aaf46" stroke="#6aaf46" stroke-width="0.90" transform="translate(489.37,1060.83) scale(8.37,3.66)"/>
<use href="#gC" fill="#2c3a96" stroke="#2c3a96" stroke-width="0.90" transform="translate(499.03,1034.01) scale(8.37,33.05)"/>
<use href="#gA" fill="#6aaf46" stroke="#6aaf46" stroke-width="0.90" transform="translate(508.69,1034.01) scale(8.37,33.05)"/>
<use href="#gG" fill="#e6a236" stroke="#e6a236" stroke-width="0.90" transform="translate(518.35,1034.37) scale(8.37,32.68)"/>
<use href="#gC" fill="#2c3a96" stroke="#2c3a96" stroke-width="0.90" transform="translate(528.01,1034.01) scale(8.37,33.05)"/>
<use href="#gA" fill="#6aaf46" stroke="#6aaf46" stroke-width="0.90" transform="translate(537.67,1061.02) scale(8.37,6.04)"/>
<use href="#gT" fill="#cf2c33" stroke="#cf2c33" stroke-width="0.90" transform="translate(537.67,1039.12) scale(8.37,21.00)"/>
<use href="#gG" fill="#e6a236" stroke="#e6a236" stroke-width="0.90" transform="translate(547.33,1034.01) scale(8.37,33.05)"/>
<use href="#gA" fill="#6aaf46" stroke="#6aaf46" stroke-width="0.23" transform="translate(556.66,1066.70) scale(9.05,0.68)"/>
<use href="#gC" fill="#2c3a96" stroke="#2c3a96" stroke-width="0.27" transform="translate(556.68,1065.63) scale(9.00,0.82)"/>
<use href="#gG" fill="#e6a236" stroke="#e6a236" stroke-width="0.27" transform="translate(556.68,1064.53) scale(9.00,0.82)"/>
<text x="631.60" y="1005.30" font-size="7.3" fill="#222" text-anchor="middle">NFE2:MAF/Bach1:Mafk</text>
<text x="631.60" y="1013.90" font-size="7.3" fill="#222" text-anchor="middle">JUN:FOS/Nfe2l2/FOSL2</text>
<text x="631.60" y="1022.50" font-size="7.3" text-anchor="middle"><tspan fill="#d8434a">(467/4,000) </tspan><tspan fill="#222">(<tspan font-style="italic">P</tspan>&lt;2.6e–05)</tspan></text>
<line x1="593.80" y1="1029.30" x2="593.80" y2="1068.40" stroke="#111" stroke-width="1.1"/>
<line x1="591.60" y1="1068.00" x2="593.80" y2="1068.00" stroke="#111" stroke-width="0.7"/>
<text x="591.00" y="1069.80" font-size="5.0" fill="#222" text-anchor="end">0</text>
<line x1="591.60" y1="1058.42" x2="593.80" y2="1058.42" stroke="#111" stroke-width="0.7"/>
<text x="591.00" y="1060.22" font-size="5.0" fill="#222" text-anchor="end">0.5</text>
<line x1="591.60" y1="1048.85" x2="593.80" y2="1048.85" stroke="#111" stroke-width="0.7"/>
<text x="591.00" y="1050.65" font-size="5.0" fill="#222" text-anchor="end">1</text>
<line x1="591.60" y1="1039.28" x2="593.80" y2="1039.28" stroke="#111" stroke-width="0.7"/>
<text x="591.00" y="1041.08" font-size="5.0" fill="#222" text-anchor="end">1.5</text>
<line x1="591.60" y1="1029.70" x2="593.80" y2="1029.70" stroke="#111" stroke-width="0.7"/>
<text x="591.00" y="1031.50" font-size="5.0" fill="#222" text-anchor="end">2</text>
<line x1="601.60" y1="1070.00" x2="666.00" y2="1070.00" stroke="#111" stroke-width="1.1"/>
<line x1="602.30" y1="1070.00" x2="602.30" y2="1072.00" stroke="#111" stroke-width="0.7"/>
<text x="602.30" y="1078.00" font-size="5.0" fill="#222" text-anchor="middle">1</text>
<line x1="612.80" y1="1070.00" x2="612.80" y2="1072.00" stroke="#111" stroke-width="0.7"/>
<text x="612.80" y="1078.00" font-size="5.0" fill="#222" text-anchor="middle">2</text>
<line x1="623.30" y1="1070.00" x2="623.30" y2="1072.00" stroke="#111" stroke-width="0.7"/>
<text x="623.30" y="1078.00" font-size="5.0" fill="#222" text-anchor="middle">3</text>
<line x1="633.80" y1="1070.00" x2="633.80" y2="1072.00" stroke="#111" stroke-width="0.7"/>
<text x="633.80" y="1078.00" font-size="5.0" fill="#222" text-anchor="middle">4</text>
<line x1="644.30" y1="1070.00" x2="644.30" y2="1072.00" stroke="#111" stroke-width="0.7"/>
<text x="644.30" y="1078.00" font-size="5.0" fill="#222" text-anchor="middle">5</text>
<line x1="654.80" y1="1070.00" x2="654.80" y2="1072.00" stroke="#111" stroke-width="0.7"/>
<text x="654.80" y="1078.00" font-size="5.0" fill="#222" text-anchor="middle">6</text>
<line x1="665.30" y1="1070.00" x2="665.30" y2="1072.00" stroke="#111" stroke-width="0.7"/>
<text x="665.30" y="1078.00" font-size="5.0" fill="#222" text-anchor="middle">7</text>
<use href="#gT" fill="#cf2c33" stroke="#cf2c33" stroke-width="0.90" transform="translate(597.71,1032.07) scale(9.18,35.48)"/>
<use href="#gG" fill="#e6a236" stroke="#e6a236" stroke-width="0.90" transform="translate(608.21,1032.83) scale(9.18,34.72)"/>
<use href="#gA" fill="#6aaf46" stroke="#6aaf46" stroke-width="0.90" transform="translate(618.71,1032.83) scale(9.18,34.72)"/>
<use href="#gG" fill="#e6a236" stroke="#e6a236" stroke-width="0.90" transform="translate(629.21,1032.83) scale(9.18,34.72)"/>
<use href="#gT" fill="#cf2c33" stroke="#cf2c33" stroke-width="0.90" transform="translate(639.71,1032.07) scale(9.18,35.48)"/>
<use href="#gC" fill="#2c3a96" stroke="#2c3a96" stroke-width="0.90" transform="translate(650.21,1032.83) scale(9.18,34.72)"/>
<use href="#gA" fill="#6aaf46" stroke="#6aaf46" stroke-width="0.90" transform="translate(660.71,1032.83) scale(9.18,34.72)"/>
<text x="225.90" y="1095.30" font-size="7.3" fill="#222">CTCF (<tspan font-style="italic">P</tspan>=4.6e–20)</text>
<text x="225.90" y="1103.70" font-size="6.6" fill="#d8434a">(214/4,000)</text>
<line x1="223.50" y1="1104.60" x2="223.50" y2="1141.60" stroke="#111" stroke-width="1.1"/>
<line x1="221.30" y1="1141.20" x2="223.50" y2="1141.20" stroke="#111" stroke-width="0.7"/>
<text x="220.70" y="1143.00" font-size="5.0" fill="#222" text-anchor="end">0</text>
<line x1="221.30" y1="1132.15" x2="223.50" y2="1132.15" stroke="#111" stroke-width="0.7"/>
<text x="220.70" y="1133.95" font-size="5.0" fill="#222" text-anchor="end">0.5</text>
<line x1="221.30" y1="1123.10" x2="223.50" y2="1123.10" stroke="#111" stroke-width="0.7"/>
<text x="220.70" y="1124.90" font-size="5.0" fill="#222" text-anchor="end">1</text>
<line x1="221.30" y1="1114.05" x2="223.50" y2="1114.05" stroke="#111" stroke-width="0.7"/>
<text x="220.70" y="1115.85" font-size="5.0" fill="#222" text-anchor="end">1.5</text>
<line x1="221.30" y1="1105.00" x2="223.50" y2="1105.00" stroke="#111" stroke-width="0.7"/>
<text x="220.70" y="1106.80" font-size="5.0" fill="#222" text-anchor="end">2</text>
<line x1="229.80" y1="1143.20" x2="314.22" y2="1143.20" stroke="#111" stroke-width="1.1"/>
<line x1="230.50" y1="1143.20" x2="230.50" y2="1145.20" stroke="#111" stroke-width="0.7"/>
<text x="230.50" y="1151.20" font-size="5.0" fill="#222" text-anchor="middle">1</text>
<line x1="236.43" y1="1143.20" x2="236.43" y2="1145.20" stroke="#111" stroke-width="0.7"/>
<text x="236.43" y="1151.20" font-size="5.0" fill="#222" text-anchor="middle">2</text>
<line x1="242.36" y1="1143.20" x2="242.36" y2="1145.20" stroke="#111" stroke-width="0.7"/>
<text x="242.36" y="1151.20" font-size="5.0" fill="#222" text-anchor="middle">3</text>
<line x1="248.29" y1="1143.20" x2="248.29" y2="1145.20" stroke="#111" stroke-width="0.7"/>
<text x="248.29" y="1151.20" font-size="5.0" fill="#222" text-anchor="middle">4</text>
<line x1="254.22" y1="1143.20" x2="254.22" y2="1145.20" stroke="#111" stroke-width="0.7"/>
<text x="254.22" y="1151.20" font-size="5.0" fill="#222" text-anchor="middle">5</text>
<line x1="260.15" y1="1143.20" x2="260.15" y2="1145.20" stroke="#111" stroke-width="0.7"/>
<text x="260.15" y="1151.20" font-size="5.0" fill="#222" text-anchor="middle">6</text>
<line x1="266.08" y1="1143.20" x2="266.08" y2="1145.20" stroke="#111" stroke-width="0.7"/>
<text x="266.08" y="1151.20" font-size="5.0" fill="#222" text-anchor="middle">7</text>
<line x1="272.01" y1="1143.20" x2="272.01" y2="1145.20" stroke="#111" stroke-width="0.7"/>
<text x="272.01" y="1151.20" font-size="5.0" fill="#222" text-anchor="middle">8</text>
<line x1="277.94" y1="1143.20" x2="277.94" y2="1145.20" stroke="#111" stroke-width="0.7"/>
<text x="277.94" y="1151.20" font-size="5.0" fill="#222" text-anchor="middle">9</text>
<line x1="283.87" y1="1143.20" x2="283.87" y2="1145.20" stroke="#111" stroke-width="0.7"/>
<text x="283.87" y="1151.20" font-size="5.0" fill="#222" text-anchor="middle">10</text>
<line x1="289.80" y1="1143.20" x2="289.80" y2="1145.20" stroke="#111" stroke-width="0.7"/>
<text x="289.80" y="1151.20" font-size="5.0" fill="#222" text-anchor="middle">11</text>
<line x1="295.73" y1="1143.20" x2="295.73" y2="1145.20" stroke="#111" stroke-width="0.7"/>
<text x="295.73" y="1151.20" font-size="5.0" fill="#222" text-anchor="middle">12</text>
<line x1="301.66" y1="1143.20" x2="301.66" y2="1145.20" stroke="#111" stroke-width="0.7"/>
<text x="301.66" y="1151.20" font-size="5.0" fill="#222" text-anchor="middle">13</text>
<line x1="307.59" y1="1143.20" x2="307.59" y2="1145.20" stroke="#111" stroke-width="0.7"/>
<text x="307.59" y="1151.20" font-size="5.0" fill="#222" text-anchor="middle">14</text>
<line x1="313.52" y1="1143.20" x2="313.52" y2="1145.20" stroke="#111" stroke-width="0.7"/>
<text x="313.52" y="1151.20" font-size="5.0" fill="#222" text-anchor="middle">15</text>
<use href="#gC" fill="#2c3a96" stroke="#2c3a96" stroke-width="0.63" transform="translate(227.97,1138.98) scale(5.06,1.90)"/>
<use href="#gG" fill="#e6a236" stroke="#e6a236" stroke-width="0.68" transform="translate(228.00,1133.94) scale(5.01,4.38)"/>
<use href="#gT" fill="#cf2c33" stroke="#cf2c33" stroke-width="0.68" transform="translate(233.93,1136.47) scale(5.01,4.38)"/>
<use href="#gC" fill="#2c3a96" stroke="#2c3a96" stroke-width="0.68" transform="translate(233.93,1127.42) scale(5.01,8.37)"/>
<use href="#gT" fill="#cf2c33" stroke="#cf2c33" stroke-width="0.68" transform="translate(239.86,1138.28) scale(5.01,2.57)"/>
<use href="#gG" fill="#e6a236" stroke="#e6a236" stroke-width="0.68" transform="translate(239.86,1124.71) scale(5.01,12.89)"/>
<use href="#gA" fill="#6aaf46" stroke="#6aaf46" stroke-width="0.45" transform="translate(245.67,1139.62) scale(5.24,1.36)"/>
<use href="#gC" fill="#2c3a96" stroke="#2c3a96" stroke-width="0.68" transform="translate(245.79,1121.63) scale(5.01,17.42)"/>
<use href="#gA" fill="#6aaf46" stroke="#6aaf46" stroke-width="0.23" transform="translate(251.49,1140.41) scale(5.47,0.68)"/>
<use href="#gC" fill="#2c3a96" stroke="#2c3a96" stroke-width="0.68" transform="translate(251.72,1108.42) scale(5.01,31.53)"/>
<use href="#gG" fill="#e6a236" stroke="#e6a236" stroke-width="0.68" transform="translate(257.65,1137.92) scale(5.01,2.94)"/>
<use href="#gC" fill="#2c3a96" stroke="#2c3a96" stroke-width="0.68" transform="translate(257.65,1127.06) scale(5.01,10.18)"/>
<use href="#gT" fill="#cf2c33" stroke="#cf2c33" stroke-width="0.68" transform="translate(263.58,1136.11) scale(5.01,4.75)"/>
<use href="#gC" fill="#2c3a96" stroke="#2c3a96" stroke-width="0.68" transform="translate(263.58,1123.44) scale(5.01,11.99)"/>
<use href="#gA" fill="#6aaf46" stroke="#6aaf46" stroke-width="0.23" transform="translate(269.28,1140.41) scale(5.47,0.68)"/>
<use href="#gC" fill="#2c3a96" stroke="#2c3a96" stroke-width="0.68" transform="translate(269.51,1107.15) scale(5.01,32.80)"/>
<use href="#gA" fill="#6aaf46" stroke="#6aaf46" stroke-width="0.23" transform="translate(275.21,1140.41) scale(5.47,0.68)"/>
<use href="#gT" fill="#cf2c33" stroke="#cf2c33" stroke-width="0.68" transform="translate(275.44,1113.12) scale(5.01,26.83)"/>
<use href="#gA" fill="#6aaf46" stroke="#6aaf46" stroke-width="0.54" transform="translate(281.30,1139.30) scale(5.15,1.63)"/>
<use href="#gG" fill="#e6a236" stroke="#e6a236" stroke-width="0.68" transform="translate(281.37,1132.49) scale(5.01,6.19)"/>
<use href="#gC" fill="#2c3a96" stroke="#2c3a96" stroke-width="0.68" transform="translate(287.30,1136.11) scale(5.01,4.75)"/>
<use href="#gG" fill="#e6a236" stroke="#e6a236" stroke-width="0.68" transform="translate(287.30,1123.08) scale(5.01,12.35)"/>
<use href="#gC" fill="#2c3a96" stroke="#2c3a96" stroke-width="0.68" transform="translate(293.23,1137.02) scale(5.01,3.84)"/>
<use href="#gT" fill="#cf2c33" stroke="#cf2c33" stroke-width="0.68" transform="translate(293.23,1122.90) scale(5.01,13.43)"/>
<use href="#gA" fill="#6aaf46" stroke="#6aaf46" stroke-width="0.68" transform="translate(299.16,1137.92) scale(5.01,2.94)"/>
<use href="#gG" fill="#e6a236" stroke="#e6a236" stroke-width="0.68" transform="translate(299.16,1108.96) scale(5.01,28.28)"/>
<use href="#gA" fill="#6aaf46" stroke="#6aaf46" stroke-width="0.68" transform="translate(305.09,1137.92) scale(5.01,2.94)"/>
<use href="#gG" fill="#e6a236" stroke="#e6a236" stroke-width="0.68" transform="translate(305.09,1123.08) scale(5.01,14.16)"/>
<use href="#gT" fill="#cf2c33" stroke="#cf2c33" stroke-width="0.68" transform="translate(311.01,1138.82) scale(5.01,2.04)"/>
<use href="#gC" fill="#2c3a96" stroke="#2c3a96" stroke-width="0.68" transform="translate(311.02,1133.40) scale(5.01,4.75)"/>
<text x="350.40" y="1095.20" font-size="7.3" fill="#222">GATA (<tspan font-style="italic">P</tspan>=1.3e–5)</text>
<text x="350.40" y="1103.90" font-size="6.6" fill="#d8434a">(393/4,000)</text>
<line x1="347.50" y1="1104.60" x2="347.50" y2="1141.60" stroke="#111" stroke-width="1.1"/>
<line x1="345.30" y1="1141.20" x2="347.50" y2="1141.20" stroke="#111" stroke-width="0.7"/>
<text x="344.70" y="1143.00" font-size="5.0" fill="#222" text-anchor="end">0</text>
<line x1="345.30" y1="1132.15" x2="347.50" y2="1132.15" stroke="#111" stroke-width="0.7"/>
<text x="344.70" y="1133.95" font-size="5.0" fill="#222" text-anchor="end">0.5</text>
<line x1="345.30" y1="1123.10" x2="347.50" y2="1123.10" stroke="#111" stroke-width="0.7"/>
<text x="344.70" y="1124.90" font-size="5.0" fill="#222" text-anchor="end">1</text>
<line x1="345.30" y1="1114.05" x2="347.50" y2="1114.05" stroke="#111" stroke-width="0.7"/>
<text x="344.70" y="1115.85" font-size="5.0" fill="#222" text-anchor="end">1.5</text>
<line x1="345.30" y1="1105.00" x2="347.50" y2="1105.00" stroke="#111" stroke-width="0.7"/>
<text x="344.70" y="1106.80" font-size="5.0" fill="#222" text-anchor="end">2</text>
<line x1="356.20" y1="1143.20" x2="416.70" y2="1143.20" stroke="#111" stroke-width="1.1"/>
<line x1="356.90" y1="1143.20" x2="356.90" y2="1145.20" stroke="#111" stroke-width="0.7"/>
<text x="356.90" y="1151.20" font-size="5.0" fill="#222" text-anchor="middle">1</text>
<line x1="366.75" y1="1143.20" x2="366.75" y2="1145.20" stroke="#111" stroke-width="0.7"/>
<text x="366.75" y="1151.20" font-size="5.0" fill="#222" text-anchor="middle">2</text>
<line x1="376.60" y1="1143.20" x2="376.60" y2="1145.20" stroke="#111" stroke-width="0.7"/>
<text x="376.60" y="1151.20" font-size="5.0" fill="#222" text-anchor="middle">3</text>
<line x1="386.45" y1="1143.20" x2="386.45" y2="1145.20" stroke="#111" stroke-width="0.7"/>
<text x="386.45" y="1151.20" font-size="5.0" fill="#222" text-anchor="middle">4</text>
<line x1="396.30" y1="1143.20" x2="396.30" y2="1145.20" stroke="#111" stroke-width="0.7"/>
<text x="396.30" y="1151.20" font-size="5.0" fill="#222" text-anchor="middle">5</text>
<line x1="406.15" y1="1143.20" x2="406.15" y2="1145.20" stroke="#111" stroke-width="0.7"/>
<text x="406.15" y="1151.20" font-size="5.0" fill="#222" text-anchor="middle">6</text>
<line x1="416.00" y1="1143.20" x2="416.00" y2="1145.20" stroke="#111" stroke-width="0.7"/>
<text x="416.00" y="1151.20" font-size="5.0" fill="#222" text-anchor="middle">7</text>
<use href="#gA" fill="#6aaf46" stroke="#6aaf46" stroke-width="0.90" transform="translate(352.62,1107.98) scale(8.56,32.77)"/>
<use href="#gG" fill="#e6a236" stroke="#e6a236" stroke-width="0.90" transform="translate(362.47,1119.57) scale(8.56,21.18)"/>
<use href="#gA" fill="#6aaf46" stroke="#6aaf46" stroke-width="0.90" transform="translate(372.32,1107.98) scale(8.56,32.77)"/>
<use href="#gT" fill="#cf2c33" stroke="#cf2c33" stroke-width="0.90" transform="translate(382.17,1107.98) scale(8.56,32.77)"/>
<use href="#gA" fill="#6aaf46" stroke="#6aaf46" stroke-width="0.90" transform="translate(392.02,1108.71) scale(8.56,32.04)"/>
<use href="#gA" fill="#6aaf46" stroke="#6aaf46" stroke-width="0.90" transform="translate(401.87,1108.71) scale(8.56,32.04)"/>
<use href="#gG" fill="#e6a236" stroke="#e6a236" stroke-width="0.90" transform="translate(411.72,1108.71) scale(8.56,32.04)"/>
<text x="467.70" y="1095.20" font-size="7.3" fill="#222">RUNX2/RUNX1 (<tspan font-style="italic">P</tspan>&lt;1.8e–5)</text>
<text x="467.70" y="1103.90" font-size="6.6" fill="#d8434a">(293/4,000)</text>
<line x1="468.80" y1="1104.00" x2="468.80" y2="1141.60" stroke="#111" stroke-width="1.1"/>
<line x1="466.60" y1="1141.20" x2="468.80" y2="1141.20" stroke="#111" stroke-width="0.7"/>
<text x="466.00" y="1143.00" font-size="5.0" fill="#222" text-anchor="end">0</text>
<line x1="466.60" y1="1132.00" x2="468.80" y2="1132.00" stroke="#111" stroke-width="0.7"/>
<text x="466.00" y="1133.80" font-size="5.0" fill="#222" text-anchor="end">0.5</text>
<line x1="466.60" y1="1122.80" x2="468.80" y2="1122.80" stroke="#111" stroke-width="0.7"/>
<text x="466.00" y="1124.60" font-size="5.0" fill="#222" text-anchor="end">1</text>
<line x1="466.60" y1="1113.60" x2="468.80" y2="1113.60" stroke="#111" stroke-width="0.7"/>
<text x="466.00" y="1115.40" font-size="5.0" fill="#222" text-anchor="end">1.5</text>
<line x1="466.60" y1="1104.40" x2="468.80" y2="1104.40" stroke="#111" stroke-width="0.7"/>
<text x="466.00" y="1106.20" font-size="5.0" fill="#222" text-anchor="end">2</text>
<line x1="473.50" y1="1143.20" x2="548.50" y2="1143.20" stroke="#111" stroke-width="1.1"/>
<line x1="474.20" y1="1143.20" x2="474.20" y2="1145.20" stroke="#111" stroke-width="0.7"/>
<text x="474.20" y="1151.20" font-size="5.0" fill="#222" text-anchor="middle">1</text>
<line x1="483.40" y1="1143.20" x2="483.40" y2="1145.20" stroke="#111" stroke-width="0.7"/>
<text x="483.40" y="1151.20" font-size="5.0" fill="#222" text-anchor="middle">2</text>
<line x1="492.60" y1="1143.20" x2="492.60" y2="1145.20" stroke="#111" stroke-width="0.7"/>
<text x="492.60" y="1151.20" font-size="5.0" fill="#222" text-anchor="middle">3</text>
<line x1="501.80" y1="1143.20" x2="501.80" y2="1145.20" stroke="#111" stroke-width="0.7"/>
<text x="501.80" y="1151.20" font-size="5.0" fill="#222" text-anchor="middle">4</text>
<line x1="511.00" y1="1143.20" x2="511.00" y2="1145.20" stroke="#111" stroke-width="0.7"/>
<text x="511.00" y="1151.20" font-size="5.0" fill="#222" text-anchor="middle">5</text>
<line x1="520.20" y1="1143.20" x2="520.20" y2="1145.20" stroke="#111" stroke-width="0.7"/>
<text x="520.20" y="1151.20" font-size="5.0" fill="#222" text-anchor="middle">6</text>
<line x1="529.40" y1="1143.20" x2="529.40" y2="1145.20" stroke="#111" stroke-width="0.7"/>
<text x="529.40" y="1151.20" font-size="5.0" fill="#222" text-anchor="middle">7</text>
<line x1="538.60" y1="1143.20" x2="538.60" y2="1145.20" stroke="#111" stroke-width="0.7"/>
<text x="538.60" y="1151.20" font-size="5.0" fill="#222" text-anchor="middle">8</text>
<line x1="547.80" y1="1143.20" x2="547.80" y2="1145.20" stroke="#111" stroke-width="0.7"/>
<text x="547.80" y="1151.20" font-size="5.0" fill="#222" text-anchor="middle">9</text>
<use href="#gT" fill="#cf2c33" stroke="#cf2c33" stroke-width="0.90" transform="translate(470.23,1107.43) scale(7.93,33.32)"/>
<use href="#gG" fill="#e6a236" stroke="#e6a236" stroke-width="0.90" transform="translate(479.43,1108.16) scale(7.93,32.59)"/>
<use href="#gT" fill="#cf2c33" stroke="#cf2c33" stroke-width="0.90" transform="translate(488.63,1107.43) scale(7.93,33.32)"/>
<use href="#gG" fill="#e6a236" stroke="#e6a236" stroke-width="0.90" transform="translate(497.83,1108.16) scale(7.93,32.59)"/>
<use href="#gG" fill="#e6a236" stroke="#e6a236" stroke-width="0.90" transform="translate(507.03,1108.16) scale(7.93,32.59)"/>
<use href="#gC" fill="#2c3a96" stroke="#2c3a96" stroke-width="0.90" transform="translate(516.23,1132.45) scale(7.93,8.30)"/>
<use href="#gT" fill="#cf2c33" stroke="#cf2c33" stroke-width="0.90" transform="translate(516.23,1117.73) scale(7.93,13.82)"/>
<use href="#gT" fill="#cf2c33" stroke="#cf2c33" stroke-width="0.90" transform="translate(525.43,1107.43) scale(7.93,33.32)"/>
<use href="#gT" fill="#cf2c33" stroke="#cf2c33" stroke-width="0.90" transform="translate(534.63,1107.43) scale(7.93,33.32)"/>
<use href="#gG" fill="#e6a236" stroke="#e6a236" stroke-width="0.28" transform="translate(543.52,1140.23) scale(8.56,0.83)"/>
<use href="#gC" fill="#2c3a96" stroke="#2c3a96" stroke-width="0.55" transform="translate(543.66,1138.16) scale(8.28,1.66)"/>
<use href="#gT" fill="#cf2c33" stroke="#cf2c33" stroke-width="0.90" transform="translate(543.83,1132.82) scale(7.93,4.62)"/>
<text x="587.40" y="1095.40" font-size="7.3" fill="#222">SP1/KLF5/SP2/EGR1</text>
<text x="587.40" y="1104.00" font-size="7.3"><tspan fill="#d8434a">(403/4,000) </tspan><tspan fill="#222">(<tspan font-style="italic">P</tspan>&lt;2.8e–05)</tspan></text>
<line x1="583.70" y1="1104.30" x2="583.70" y2="1141.60" stroke="#111" stroke-width="1.1"/>
<line x1="581.50" y1="1141.20" x2="583.70" y2="1141.20" stroke="#111" stroke-width="0.7"/>
<text x="580.90" y="1143.00" font-size="5.0" fill="#222" text-anchor="end">0</text>
<line x1="581.50" y1="1132.08" x2="583.70" y2="1132.08" stroke="#111" stroke-width="0.7"/>
<text x="580.90" y="1133.88" font-size="5.0" fill="#222" text-anchor="end">0.5</text>
<line x1="581.50" y1="1122.95" x2="583.70" y2="1122.95" stroke="#111" stroke-width="0.7"/>
<text x="580.90" y="1124.75" font-size="5.0" fill="#222" text-anchor="end">1</text>
<line x1="581.50" y1="1113.83" x2="583.70" y2="1113.83" stroke="#111" stroke-width="0.7"/>
<text x="580.90" y="1115.62" font-size="5.0" fill="#222" text-anchor="end">1.5</text>
<line x1="581.50" y1="1104.70" x2="583.70" y2="1104.70" stroke="#111" stroke-width="0.7"/>
<text x="580.90" y="1106.50" font-size="5.0" fill="#222" text-anchor="end">2</text>
<line x1="591.50" y1="1143.20" x2="663.85" y2="1143.20" stroke="#111" stroke-width="1.1"/>
<line x1="592.20" y1="1143.20" x2="592.20" y2="1145.20" stroke="#111" stroke-width="0.7"/>
<text x="592.20" y="1151.20" font-size="5.0" fill="#222" text-anchor="middle">1</text>
<line x1="598.65" y1="1143.20" x2="598.65" y2="1145.20" stroke="#111" stroke-width="0.7"/>
<text x="598.65" y="1151.20" font-size="5.0" fill="#222" text-anchor="middle">2</text>
<line x1="605.10" y1="1143.20" x2="605.10" y2="1145.20" stroke="#111" stroke-width="0.7"/>
<text x="605.10" y="1151.20" font-size="5.0" fill="#222" text-anchor="middle">3</text>
<line x1="611.55" y1="1143.20" x2="611.55" y2="1145.20" stroke="#111" stroke-width="0.7"/>
<text x="611.55" y="1151.20" font-size="5.0" fill="#222" text-anchor="middle">4</text>
<line x1="618.00" y1="1143.20" x2="618.00" y2="1145.20" stroke="#111" stroke-width="0.7"/>
<text x="618.00" y="1151.20" font-size="5.0" fill="#222" text-anchor="middle">5</text>
<line x1="624.45" y1="1143.20" x2="624.45" y2="1145.20" stroke="#111" stroke-width="0.7"/>
<text x="624.45" y="1151.20" font-size="5.0" fill="#222" text-anchor="middle">6</text>
<line x1="630.90" y1="1143.20" x2="630.90" y2="1145.20" stroke="#111" stroke-width="0.7"/>
<text x="630.90" y="1151.20" font-size="5.0" fill="#222" text-anchor="middle">7</text>
<line x1="637.35" y1="1143.20" x2="637.35" y2="1145.20" stroke="#111" stroke-width="0.7"/>
<text x="637.35" y="1151.20" font-size="5.0" fill="#222" text-anchor="middle">8</text>
<line x1="643.80" y1="1143.20" x2="643.80" y2="1145.20" stroke="#111" stroke-width="0.7"/>
<text x="643.80" y="1151.20" font-size="5.0" fill="#222" text-anchor="middle">9</text>
<line x1="650.25" y1="1143.20" x2="650.25" y2="1145.20" stroke="#111" stroke-width="0.7"/>
<text x="650.25" y="1151.20" font-size="5.0" fill="#222" text-anchor="middle">10</text>
<line x1="656.70" y1="1143.20" x2="656.70" y2="1145.20" stroke="#111" stroke-width="0.7"/>
<text x="656.70" y="1151.20" font-size="5.0" fill="#222" text-anchor="middle">11</text>
<line x1="663.15" y1="1143.20" x2="663.15" y2="1145.20" stroke="#111" stroke-width="0.7"/>
<text x="663.15" y="1151.20" font-size="5.0" fill="#222" text-anchor="middle">12</text>
<use href="#gA" fill="#6aaf46" stroke="#6aaf46" stroke-width="0.27" transform="translate(589.24,1140.24) scale(5.92,0.82)"/>
<use href="#gC" fill="#2c3a96" stroke="#2c3a96" stroke-width="0.27" transform="translate(589.24,1139.15) scale(5.92,0.82)"/>
<use href="#gG" fill="#e6a236" stroke="#e6a236" stroke-width="0.36" transform="translate(589.29,1137.73) scale(5.83,1.09)"/>
<use href="#gA" fill="#6aaf46" stroke="#6aaf46" stroke-width="0.46" transform="translate(595.78,1139.60) scale(5.74,1.37)"/>
<use href="#gG" fill="#e6a236" stroke="#e6a236" stroke-width="0.74" transform="translate(595.93,1131.53) scale(5.45,7.47)"/>
<use href="#gA" fill="#6aaf46" stroke="#6aaf46" stroke-width="0.23" transform="translate(602.12,1140.40) scale(5.96,0.68)"/>
<use href="#gC" fill="#2c3a96" stroke="#2c3a96" stroke-width="0.74" transform="translate(602.38,1111.82) scale(5.45,28.09)"/>
<use href="#gT" fill="#cf2c33" stroke="#cf2c33" stroke-width="0.74" transform="translate(608.83,1137.92) scale(5.45,2.91)"/>
<use href="#gC" fill="#2c3a96" stroke="#2c3a96" stroke-width="0.74" transform="translate(608.83,1116.02) scale(5.45,21.16)"/>
<use href="#gA" fill="#6aaf46" stroke="#6aaf46" stroke-width="0.46" transform="translate(615.13,1139.60) scale(5.74,1.37)"/>
<use href="#gC" fill="#2c3a96" stroke="#2c3a96" stroke-width="0.74" transform="translate(615.28,1113.28) scale(5.45,25.72)"/>
<use href="#gA" fill="#6aaf46" stroke="#6aaf46" stroke-width="0.46" transform="translate(621.58,1139.60) scale(5.74,1.37)"/>
<use href="#gC" fill="#2c3a96" stroke="#2c3a96" stroke-width="0.74" transform="translate(621.73,1112.01) scale(5.45,27.00)"/>
<use href="#gA" fill="#6aaf46" stroke="#6aaf46" stroke-width="0.46" transform="translate(628.03,1139.60) scale(5.74,1.37)"/>
<use href="#gG" fill="#e6a236" stroke="#e6a236" stroke-width="0.74" transform="translate(628.18,1134.27) scale(5.45,4.73)"/>
<use href="#gA" fill="#6aaf46" stroke="#6aaf46" stroke-width="0.23" transform="translate(634.37,1140.40) scale(5.96,0.68)"/>
<use href="#gC" fill="#2c3a96" stroke="#2c3a96" stroke-width="0.74" transform="translate(634.63,1107.08) scale(5.45,32.84)"/>
<use href="#gA" fill="#6aaf46" stroke="#6aaf46" stroke-width="0.23" transform="translate(640.82,1140.40) scale(5.96,0.68)"/>
<use href="#gC" fill="#2c3a96" stroke="#2c3a96" stroke-width="0.74" transform="translate(641.08,1105.98) scale(5.45,33.93)"/>
<use href="#gT" fill="#cf2c33" stroke="#cf2c33" stroke-width="0.68" transform="translate(647.50,1138.80) scale(5.51,2.05)"/>
<use href="#gC" fill="#2c3a96" stroke="#2c3a96" stroke-width="0.74" transform="translate(647.53,1115.11) scale(5.45,22.98)"/>
<use href="#gT" fill="#cf2c33" stroke="#cf2c33" stroke-width="0.68" transform="translate(653.95,1138.80) scale(5.51,2.05)"/>
<use href="#gC" fill="#2c3a96" stroke="#2c3a96" stroke-width="0.74" transform="translate(653.98,1127.52) scale(5.45,10.57)"/>
<use href="#gT" fill="#cf2c33" stroke="#cf2c33" stroke-width="0.68" transform="translate(660.40,1138.80) scale(5.51,2.05)"/>
<use href="#gC" fill="#2c3a96" stroke="#2c3a96" stroke-width="0.74" transform="translate(660.43,1129.34) scale(5.45,8.75)"/>
</svg></body></html>
